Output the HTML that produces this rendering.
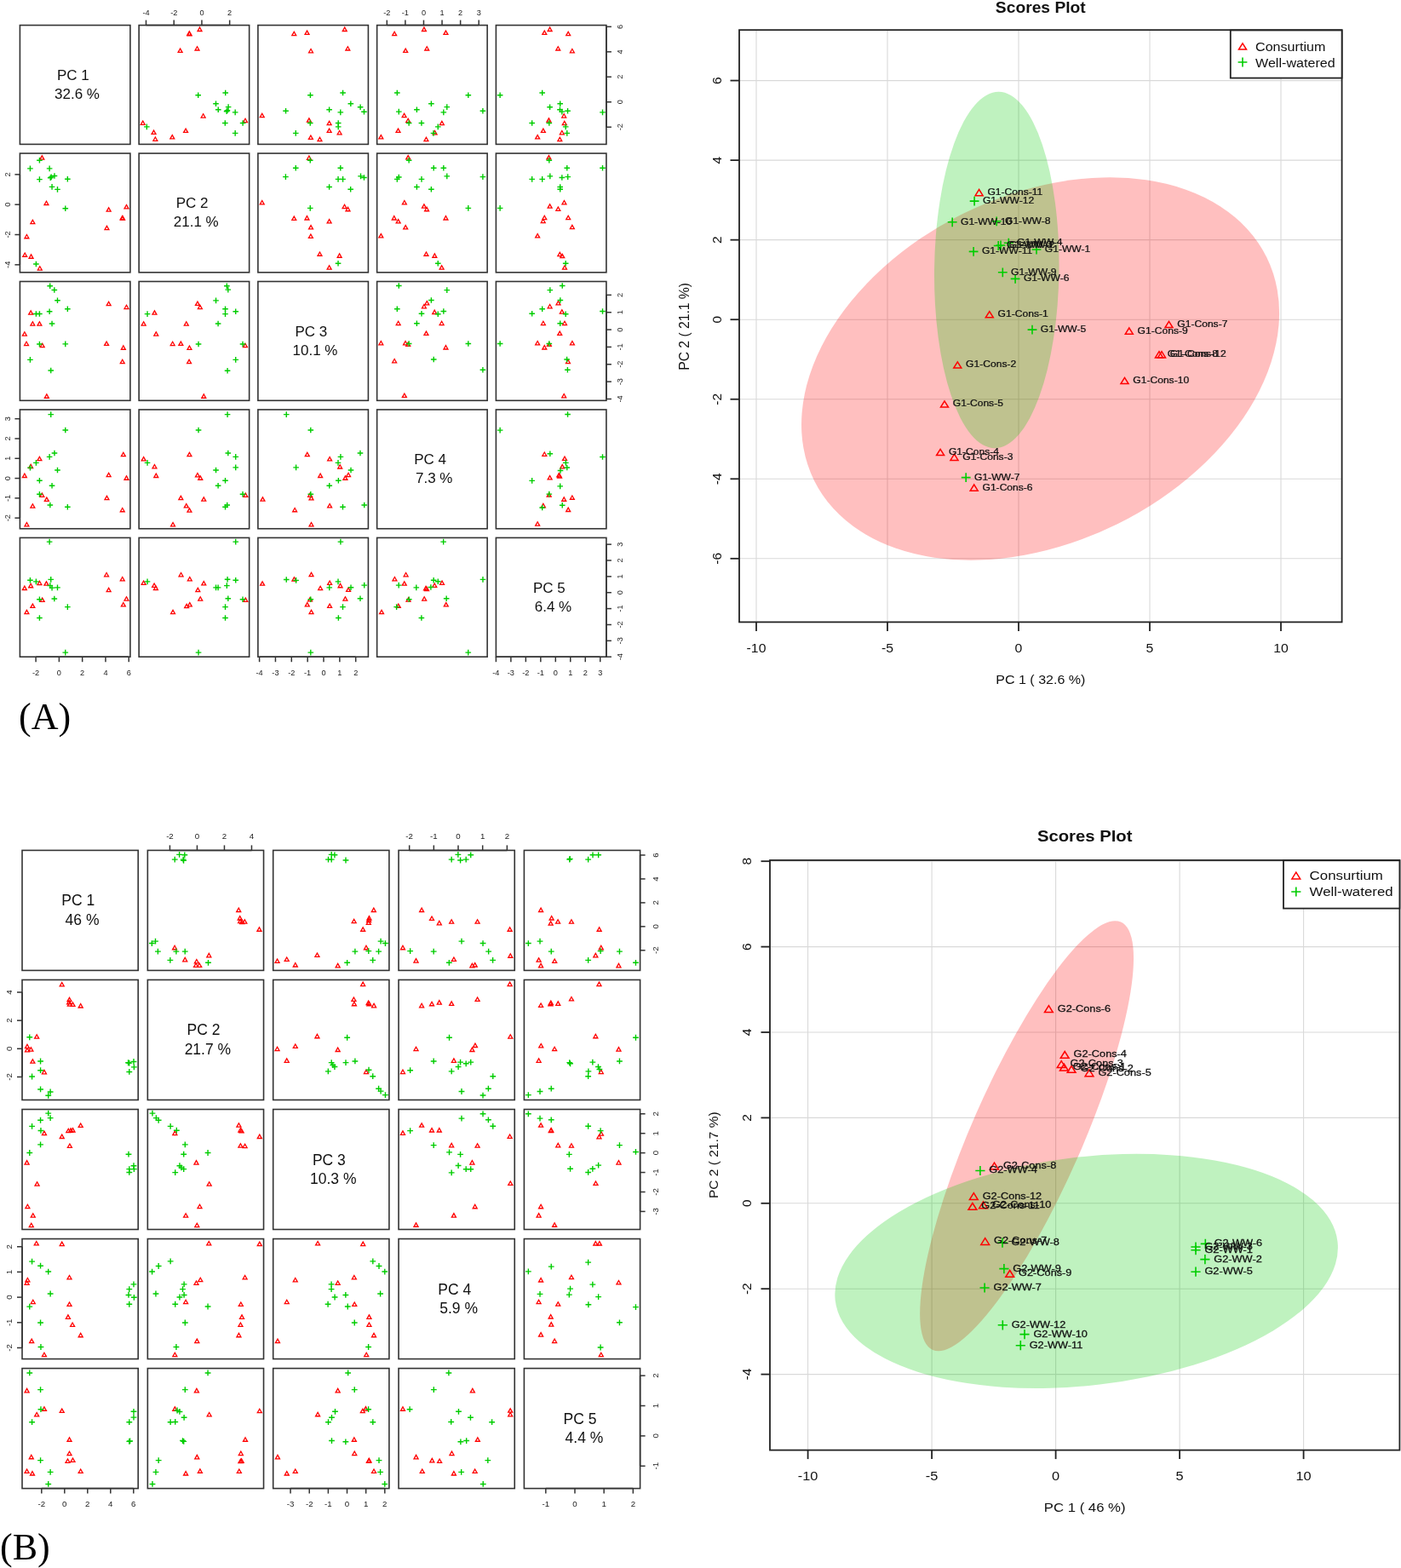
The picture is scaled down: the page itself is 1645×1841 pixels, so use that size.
<!DOCTYPE html><html><head><meta charset="utf-8"><style>html,body{margin:0;padding:0;background:#fff;}svg{display:block;}</style></head><body>
<svg width="1645" height="1841" viewBox="0 0 1645 1841" font-family='"Liberation Sans", Arial, Helvetica, sans-serif'>
<rect width="1645" height="1841" fill="#fff"/>
<g>
<line x1="888.00" y1="35.2" x2="888.00" y2="730.4" stroke="#d9d9d9" stroke-width="1.1"/>
<line x1="1042.00" y1="35.2" x2="1042.00" y2="730.4" stroke="#d9d9d9" stroke-width="1.1"/>
<line x1="1196.00" y1="35.2" x2="1196.00" y2="730.4" stroke="#d9d9d9" stroke-width="1.1"/>
<line x1="1350.00" y1="35.2" x2="1350.00" y2="730.4" stroke="#d9d9d9" stroke-width="1.1"/>
<line x1="1504.00" y1="35.2" x2="1504.00" y2="730.4" stroke="#d9d9d9" stroke-width="1.1"/>
<line x1="868" y1="655.82" x2="1575.6" y2="655.82" stroke="#d9d9d9" stroke-width="1.1"/>
<line x1="868" y1="562.28" x2="1575.6" y2="562.28" stroke="#d9d9d9" stroke-width="1.1"/>
<line x1="868" y1="468.74" x2="1575.6" y2="468.74" stroke="#d9d9d9" stroke-width="1.1"/>
<line x1="868" y1="375.20" x2="1575.6" y2="375.20" stroke="#d9d9d9" stroke-width="1.1"/>
<line x1="868" y1="281.66" x2="1575.6" y2="281.66" stroke="#d9d9d9" stroke-width="1.1"/>
<line x1="868" y1="188.12" x2="1575.6" y2="188.12" stroke="#d9d9d9" stroke-width="1.1"/>
<line x1="868" y1="94.58" x2="1575.6" y2="94.58" stroke="#d9d9d9" stroke-width="1.1"/>
<ellipse cx="0" cy="0" rx="296.23" ry="203.50" transform="translate(1221.54,432.99) rotate(153.760)" fill="rgba(255,0,0,0.25)"/>
<ellipse cx="0" cy="0" rx="209.20" ry="73.24" transform="translate(1170.27,317.00) rotate(-89.320)" fill="rgba(0,205,0,0.25)"/>
<path d="M1149.60,222.50L1154.10,229.70L1145.10,229.70Z" fill="none" stroke="#ff0000" stroke-width="1.5" stroke-linejoin="miter"/>
<path d="M1161.80,365.60L1166.30,372.80L1157.30,372.80Z" fill="none" stroke="#ff0000" stroke-width="1.5" stroke-linejoin="miter"/>
<path d="M1325.80,385.00L1330.30,392.20L1321.30,392.20Z" fill="none" stroke="#ff0000" stroke-width="1.5" stroke-linejoin="miter"/>
<path d="M1372.50,377.30L1377.00,384.50L1368.00,384.50Z" fill="none" stroke="#ff0000" stroke-width="1.5" stroke-linejoin="miter"/>
<path d="M1361.00,412.70L1365.50,419.90L1356.50,419.90Z" fill="none" stroke="#ff0000" stroke-width="1.5" stroke-linejoin="miter"/>
<path d="M1364.00,412.70L1368.50,419.90L1359.50,419.90Z" fill="none" stroke="#ff0000" stroke-width="1.5" stroke-linejoin="miter"/>
<path d="M1320.50,443.40L1325.00,450.60L1316.00,450.60Z" fill="none" stroke="#ff0000" stroke-width="1.5" stroke-linejoin="miter"/>
<path d="M1124.30,424.80L1128.80,432.00L1119.80,432.00Z" fill="none" stroke="#ff0000" stroke-width="1.5" stroke-linejoin="miter"/>
<path d="M1109.00,470.80L1113.50,478.00L1104.50,478.00Z" fill="none" stroke="#ff0000" stroke-width="1.5" stroke-linejoin="miter"/>
<path d="M1104.10,527.40L1108.60,534.60L1099.60,534.60Z" fill="none" stroke="#ff0000" stroke-width="1.5" stroke-linejoin="miter"/>
<path d="M1120.50,533.20L1125.00,540.40L1116.00,540.40Z" fill="none" stroke="#ff0000" stroke-width="1.5" stroke-linejoin="miter"/>
<path d="M1143.70,569.00L1148.20,576.20L1139.20,576.20Z" fill="none" stroke="#ff0000" stroke-width="1.5" stroke-linejoin="miter"/>
<path d="M1138.70,236.10H1149.50M1144.10,230.70V241.50" fill="none" stroke="#00cd00" stroke-width="1.6"/>
<path d="M1112.80,260.80H1123.60M1118.20,255.40V266.20" fill="none" stroke="#00cd00" stroke-width="1.6"/>
<path d="M1164.80,259.80H1175.60M1170.20,254.40V265.20" fill="none" stroke="#00cd00" stroke-width="1.6"/>
<path d="M1166.80,288.50H1177.60M1172.20,283.10V293.90" fill="none" stroke="#00cd00" stroke-width="1.6"/>
<path d="M1169.60,288.00H1180.40M1175.00,282.60V293.40" fill="none" stroke="#00cd00" stroke-width="1.6"/>
<path d="M1178.90,285.20H1189.70M1184.30,279.80V290.60" fill="none" stroke="#00cd00" stroke-width="1.6"/>
<path d="M1137.70,295.40H1148.50M1143.10,290.00V300.80" fill="none" stroke="#00cd00" stroke-width="1.6"/>
<path d="M1211.60,293.00H1222.40M1217.00,287.60V298.40" fill="none" stroke="#00cd00" stroke-width="1.6"/>
<path d="M1171.90,319.80H1182.70M1177.30,314.40V325.20" fill="none" stroke="#00cd00" stroke-width="1.6"/>
<path d="M1186.70,327.40H1197.50M1192.10,322.00V332.80" fill="none" stroke="#00cd00" stroke-width="1.6"/>
<path d="M1206.60,387.10H1217.40M1212.00,381.70V392.50" fill="none" stroke="#00cd00" stroke-width="1.6"/>
<path d="M1128.80,560.60H1139.60M1134.20,555.20V566.00" fill="none" stroke="#00cd00" stroke-width="1.6"/>
<text transform="translate(1159.40,229.04) scale(1.110,1)" font-size="10.9" fill="#111" stroke="#111" stroke-width="0.25">G1-Cons-11</text>
<text transform="translate(1171.60,372.14) scale(1.110,1)" font-size="10.9" fill="#111" stroke="#111" stroke-width="0.25">G1-Cons-1</text>
<text transform="translate(1335.60,391.54) scale(1.110,1)" font-size="10.9" fill="#111" stroke="#111" stroke-width="0.25">G1-Cons-9</text>
<text transform="translate(1382.30,383.84) scale(1.110,1)" font-size="10.9" fill="#111" stroke="#111" stroke-width="0.25">G1-Cons-7</text>
<text transform="translate(1370.80,419.24) scale(1.110,1)" font-size="10.9" fill="#111" stroke="#111" stroke-width="0.25">G1-Cons-8</text>
<text transform="translate(1373.80,419.24) scale(1.110,1)" font-size="10.9" fill="#111" stroke="#111" stroke-width="0.25">G1-Cons-12</text>
<text transform="translate(1330.30,449.94) scale(1.110,1)" font-size="10.9" fill="#111" stroke="#111" stroke-width="0.25">G1-Cons-10</text>
<text transform="translate(1134.10,431.34) scale(1.110,1)" font-size="10.9" fill="#111" stroke="#111" stroke-width="0.25">G1-Cons-2</text>
<text transform="translate(1118.80,477.34) scale(1.110,1)" font-size="10.9" fill="#111" stroke="#111" stroke-width="0.25">G1-Cons-5</text>
<text transform="translate(1113.90,533.94) scale(1.110,1)" font-size="10.9" fill="#111" stroke="#111" stroke-width="0.25">G1-Cons-4</text>
<text transform="translate(1130.30,539.74) scale(1.110,1)" font-size="10.9" fill="#111" stroke="#111" stroke-width="0.25">G1-Cons-3</text>
<text transform="translate(1153.50,575.54) scale(1.110,1)" font-size="10.9" fill="#111" stroke="#111" stroke-width="0.25">G1-Cons-6</text>
<text transform="translate(1153.90,239.04) scale(1.110,1)" font-size="10.9" fill="#111" stroke="#111" stroke-width="0.25">G1-WW-12</text>
<text transform="translate(1128.00,263.74) scale(1.110,1)" font-size="10.9" fill="#111" stroke="#111" stroke-width="0.25">G1-WW-10</text>
<text transform="translate(1180.00,262.74) scale(1.110,1)" font-size="10.9" fill="#111" stroke="#111" stroke-width="0.25">G1-WW-8</text>
<text transform="translate(1182.00,291.44) scale(1.110,1)" font-size="10.9" fill="#111" stroke="#111" stroke-width="0.25">G1-WW-3</text>
<text transform="translate(1184.80,290.94) scale(1.110,1)" font-size="10.9" fill="#111" stroke="#111" stroke-width="0.25">G1-WW-2</text>
<text transform="translate(1194.10,288.14) scale(1.110,1)" font-size="10.9" fill="#111" stroke="#111" stroke-width="0.25">G1-WW-4</text>
<text transform="translate(1152.90,298.34) scale(1.110,1)" font-size="10.9" fill="#111" stroke="#111" stroke-width="0.25">G1-WW-11</text>
<text transform="translate(1226.80,295.94) scale(1.110,1)" font-size="10.9" fill="#111" stroke="#111" stroke-width="0.25">G1-WW-1</text>
<text transform="translate(1187.10,322.74) scale(1.110,1)" font-size="10.9" fill="#111" stroke="#111" stroke-width="0.25">G1-WW-9</text>
<text transform="translate(1201.90,330.34) scale(1.110,1)" font-size="10.9" fill="#111" stroke="#111" stroke-width="0.25">G1-WW-6</text>
<text transform="translate(1221.80,390.04) scale(1.110,1)" font-size="10.9" fill="#111" stroke="#111" stroke-width="0.25">G1-WW-5</text>
<text transform="translate(1144.00,563.54) scale(1.110,1)" font-size="10.9" fill="#111" stroke="#111" stroke-width="0.25">G1-WW-7</text>
<rect x="868" y="35.2" width="707.5999999999999" height="695.1999999999999" fill="none" stroke="#222" stroke-width="1.8"/>
<line x1="888.00" y1="730.4" x2="888.00" y2="740.9" stroke="#222" stroke-width="1.8"/>
<text transform="translate(888.00,765.60) scale(1.040,1)" font-size="15.2" text-anchor="middle" fill="#111">-10</text>
<line x1="1042.00" y1="730.4" x2="1042.00" y2="740.9" stroke="#222" stroke-width="1.8"/>
<text transform="translate(1042.00,765.60) scale(1.040,1)" font-size="15.2" text-anchor="middle" fill="#111">-5</text>
<line x1="1196.00" y1="730.4" x2="1196.00" y2="740.9" stroke="#222" stroke-width="1.8"/>
<text transform="translate(1196.00,765.60) scale(1.040,1)" font-size="15.2" text-anchor="middle" fill="#111">0</text>
<line x1="1350.00" y1="730.4" x2="1350.00" y2="740.9" stroke="#222" stroke-width="1.8"/>
<text transform="translate(1350.00,765.60) scale(1.040,1)" font-size="15.2" text-anchor="middle" fill="#111">5</text>
<line x1="1504.00" y1="730.4" x2="1504.00" y2="740.9" stroke="#222" stroke-width="1.8"/>
<text transform="translate(1504.00,765.60) scale(1.040,1)" font-size="15.2" text-anchor="middle" fill="#111">10</text>
<line x1="857.5" y1="655.82" x2="868" y2="655.82" stroke="#222" stroke-width="1.8"/>
<text transform="translate(847.40,655.82) rotate(-90)" font-size="15.5" text-anchor="middle" fill="#111">-6</text>
<line x1="857.5" y1="562.28" x2="868" y2="562.28" stroke="#222" stroke-width="1.8"/>
<text transform="translate(847.40,562.28) rotate(-90)" font-size="15.5" text-anchor="middle" fill="#111">-4</text>
<line x1="857.5" y1="468.74" x2="868" y2="468.74" stroke="#222" stroke-width="1.8"/>
<text transform="translate(847.40,468.74) rotate(-90)" font-size="15.5" text-anchor="middle" fill="#111">-2</text>
<line x1="857.5" y1="375.20" x2="868" y2="375.20" stroke="#222" stroke-width="1.8"/>
<text transform="translate(847.40,375.20) rotate(-90)" font-size="15.5" text-anchor="middle" fill="#111">0</text>
<line x1="857.5" y1="281.66" x2="868" y2="281.66" stroke="#222" stroke-width="1.8"/>
<text transform="translate(847.40,281.66) rotate(-90)" font-size="15.5" text-anchor="middle" fill="#111">2</text>
<line x1="857.5" y1="188.12" x2="868" y2="188.12" stroke="#222" stroke-width="1.8"/>
<text transform="translate(847.40,188.12) rotate(-90)" font-size="15.5" text-anchor="middle" fill="#111">4</text>
<line x1="857.5" y1="94.58" x2="868" y2="94.58" stroke="#222" stroke-width="1.8"/>
<text transform="translate(847.40,94.58) rotate(-90)" font-size="15.5" text-anchor="middle" fill="#111">6</text>
<text transform="translate(1221.80,803.20) scale(1.040,1)" font-size="15.4" text-anchor="middle" fill="#111">PC 1 ( 32.6 %)</text>
<text transform="translate(809.30,383.40) rotate(-90)" font-size="15.7" text-anchor="middle" fill="#111">PC 2 ( 21.1 %)</text>
<text transform="translate(1221.80,14.60) scale(1.070,1)" font-size="18" text-anchor="middle" font-weight="bold" fill="#111">Scores Plot</text>
<rect x="1444.8" y="35.5" width="130.8" height="56.1" fill="#fff" stroke="#222" stroke-width="1.8"/>
<path d="M1459.00,50.90L1463.50,58.10L1454.50,58.10Z" fill="none" stroke="#ff0000" stroke-width="1.5" stroke-linejoin="miter"/>
<path d="M1453.60,73.00H1464.40M1459.00,67.60V78.40" fill="none" stroke="#00cd00" stroke-width="1.6"/>
<text transform="translate(1474.00,60.05) scale(1.060,1)" font-size="15.2" fill="#111">Consurtium</text>
<text transform="translate(1474.00,78.55) scale(1.060,1)" font-size="15.2" fill="#111">Well-watered</text>
</g>
<g>
<line x1="948.60" y1="1010" x2="948.60" y2="1702.6" stroke="#d9d9d9" stroke-width="1.1"/>
<line x1="1094.10" y1="1010" x2="1094.10" y2="1702.6" stroke="#d9d9d9" stroke-width="1.1"/>
<line x1="1239.60" y1="1010" x2="1239.60" y2="1702.6" stroke="#d9d9d9" stroke-width="1.1"/>
<line x1="1385.10" y1="1010" x2="1385.10" y2="1702.6" stroke="#d9d9d9" stroke-width="1.1"/>
<line x1="1530.60" y1="1010" x2="1530.60" y2="1702.6" stroke="#d9d9d9" stroke-width="1.1"/>
<line x1="904" y1="1613.60" x2="1643.4" y2="1613.60" stroke="#d9d9d9" stroke-width="1.1"/>
<line x1="904" y1="1513.20" x2="1643.4" y2="1513.20" stroke="#d9d9d9" stroke-width="1.1"/>
<line x1="904" y1="1412.80" x2="1643.4" y2="1412.80" stroke="#d9d9d9" stroke-width="1.1"/>
<line x1="904" y1="1312.40" x2="1643.4" y2="1312.40" stroke="#d9d9d9" stroke-width="1.1"/>
<line x1="904" y1="1212.00" x2="1643.4" y2="1212.00" stroke="#d9d9d9" stroke-width="1.1"/>
<line x1="904" y1="1111.60" x2="1643.4" y2="1111.60" stroke="#d9d9d9" stroke-width="1.1"/>
<line x1="904" y1="1011.20" x2="1643.4" y2="1011.20" stroke="#d9d9d9" stroke-width="1.1"/>
<ellipse cx="0" cy="0" rx="274.39" ry="64.96" transform="translate(1205.60,1333.72) rotate(-66.260)" fill="rgba(255,0,0,0.25)"/>
<ellipse cx="0" cy="0" rx="296.90" ry="134.05" transform="translate(1275.63,1492.42) rotate(173.320)" fill="rgba(0,205,0,0.25)"/>
<path d="M1231.40,1180.68L1236.30,1188.52L1226.50,1188.52Z" fill="none" stroke="#ff0000" stroke-width="1.5" stroke-linejoin="miter"/>
<path d="M1250.20,1234.48L1255.10,1242.32L1245.30,1242.32Z" fill="none" stroke="#ff0000" stroke-width="1.5" stroke-linejoin="miter"/>
<path d="M1246.20,1245.58L1251.10,1253.42L1241.30,1253.42Z" fill="none" stroke="#ff0000" stroke-width="1.5" stroke-linejoin="miter"/>
<path d="M1249.40,1249.18L1254.30,1257.02L1244.50,1257.02Z" fill="none" stroke="#ff0000" stroke-width="1.5" stroke-linejoin="miter"/>
<path d="M1258.10,1251.48L1263.00,1259.32L1253.20,1259.32Z" fill="none" stroke="#ff0000" stroke-width="1.5" stroke-linejoin="miter"/>
<path d="M1279.00,1255.88L1283.90,1263.72L1274.10,1263.72Z" fill="none" stroke="#ff0000" stroke-width="1.5" stroke-linejoin="miter"/>
<path d="M1167.50,1365.08L1172.40,1372.92L1162.60,1372.92Z" fill="none" stroke="#ff0000" stroke-width="1.5" stroke-linejoin="miter"/>
<path d="M1143.30,1400.68L1148.20,1408.52L1138.40,1408.52Z" fill="none" stroke="#ff0000" stroke-width="1.5" stroke-linejoin="miter"/>
<path d="M1141.90,1412.48L1146.80,1420.32L1137.00,1420.32Z" fill="none" stroke="#ff0000" stroke-width="1.5" stroke-linejoin="miter"/>
<path d="M1154.50,1410.88L1159.40,1418.72L1149.60,1418.72Z" fill="none" stroke="#ff0000" stroke-width="1.5" stroke-linejoin="miter"/>
<path d="M1156.70,1453.58L1161.60,1461.42L1151.80,1461.42Z" fill="none" stroke="#ff0000" stroke-width="1.5" stroke-linejoin="miter"/>
<path d="M1185.70,1491.48L1190.60,1499.32L1180.80,1499.32Z" fill="none" stroke="#ff0000" stroke-width="1.5" stroke-linejoin="miter"/>
<path d="M1145.30,1374.50H1156.50M1150.90,1368.90V1380.10" fill="none" stroke="#00cd00" stroke-width="1.6"/>
<path d="M1171.40,1459.10H1182.60M1177.00,1453.50V1464.70" fill="none" stroke="#00cd00" stroke-width="1.6"/>
<path d="M1173.30,1489.60H1184.50M1178.90,1484.00V1495.20" fill="none" stroke="#00cd00" stroke-width="1.6"/>
<path d="M1150.50,1512.00H1161.70M1156.10,1506.40V1517.60" fill="none" stroke="#00cd00" stroke-width="1.6"/>
<path d="M1171.70,1555.80H1182.90M1177.30,1550.20V1561.40" fill="none" stroke="#00cd00" stroke-width="1.6"/>
<path d="M1197.40,1566.60H1208.60M1203.00,1561.00V1572.20" fill="none" stroke="#00cd00" stroke-width="1.6"/>
<path d="M1192.70,1579.70H1203.90M1198.30,1574.10V1585.30" fill="none" stroke="#00cd00" stroke-width="1.6"/>
<path d="M1409.70,1460.40H1420.90M1415.30,1454.80V1466.00" fill="none" stroke="#00cd00" stroke-width="1.6"/>
<path d="M1398.40,1464.00H1409.60M1404.00,1458.40V1469.60" fill="none" stroke="#00cd00" stroke-width="1.6"/>
<path d="M1398.40,1467.70H1409.60M1404.00,1462.10V1473.30" fill="none" stroke="#00cd00" stroke-width="1.6"/>
<path d="M1409.30,1478.60H1420.50M1414.90,1473.00V1484.20" fill="none" stroke="#00cd00" stroke-width="1.6"/>
<path d="M1398.40,1493.20H1409.60M1404.00,1487.60V1498.80" fill="none" stroke="#00cd00" stroke-width="1.6"/>
<text transform="translate(1241.80,1187.54) scale(1.170,1)" font-size="10.9" fill="#111" stroke="#111" stroke-width="0.25">G2-Cons-6</text>
<text transform="translate(1260.60,1241.34) scale(1.170,1)" font-size="10.9" fill="#111" stroke="#111" stroke-width="0.25">G2-Cons-4</text>
<text transform="translate(1256.60,1252.44) scale(1.170,1)" font-size="10.9" fill="#111" stroke="#111" stroke-width="0.25">G2-Cons-3</text>
<text transform="translate(1259.80,1256.04) scale(1.170,1)" font-size="10.9" fill="#111" stroke="#111" stroke-width="0.25">G2-Cons-1</text>
<text transform="translate(1268.50,1258.34) scale(1.170,1)" font-size="10.9" fill="#111" stroke="#111" stroke-width="0.25">G2-Cons-2</text>
<text transform="translate(1289.40,1262.74) scale(1.170,1)" font-size="10.9" fill="#111" stroke="#111" stroke-width="0.25">G2-Cons-5</text>
<text transform="translate(1177.90,1371.94) scale(1.170,1)" font-size="10.9" fill="#111" stroke="#111" stroke-width="0.25">G2-Cons-8</text>
<text transform="translate(1153.70,1407.54) scale(1.170,1)" font-size="10.9" fill="#111" stroke="#111" stroke-width="0.25">G2-Cons-12</text>
<text transform="translate(1152.30,1419.34) scale(1.170,1)" font-size="10.9" fill="#111" stroke="#111" stroke-width="0.25">G2-Cons-11</text>
<text transform="translate(1164.90,1417.74) scale(1.170,1)" font-size="10.9" fill="#111" stroke="#111" stroke-width="0.25">G2-Cons-10</text>
<text transform="translate(1167.10,1460.44) scale(1.170,1)" font-size="10.9" fill="#111" stroke="#111" stroke-width="0.25">G2-Cons-7</text>
<text transform="translate(1196.10,1498.34) scale(1.170,1)" font-size="10.9" fill="#111" stroke="#111" stroke-width="0.25">G2-Cons-9</text>
<text transform="translate(1161.30,1377.44) scale(1.170,1)" font-size="10.9" fill="#111" stroke="#111" stroke-width="0.25">G2-WW-4</text>
<text transform="translate(1187.40,1462.04) scale(1.170,1)" font-size="10.9" fill="#111" stroke="#111" stroke-width="0.25">G2-WW-8</text>
<text transform="translate(1189.30,1492.54) scale(1.170,1)" font-size="10.9" fill="#111" stroke="#111" stroke-width="0.25">G2-WW-9</text>
<text transform="translate(1166.50,1514.94) scale(1.170,1)" font-size="10.9" fill="#111" stroke="#111" stroke-width="0.25">G2-WW-7</text>
<text transform="translate(1187.70,1558.74) scale(1.170,1)" font-size="10.9" fill="#111" stroke="#111" stroke-width="0.25">G2-WW-12</text>
<text transform="translate(1213.40,1569.54) scale(1.170,1)" font-size="10.9" fill="#111" stroke="#111" stroke-width="0.25">G2-WW-10</text>
<text transform="translate(1208.70,1582.64) scale(1.170,1)" font-size="10.9" fill="#111" stroke="#111" stroke-width="0.25">G2-WW-11</text>
<text transform="translate(1425.70,1463.34) scale(1.170,1)" font-size="10.9" fill="#111" stroke="#111" stroke-width="0.25">G2-WW-6</text>
<text transform="translate(1414.40,1466.94) scale(1.170,1)" font-size="10.9" fill="#111" stroke="#111" stroke-width="0.25">G2-WW-3</text>
<text transform="translate(1414.40,1470.64) scale(1.170,1)" font-size="10.9" fill="#111" stroke="#111" stroke-width="0.25">G2-WW-1</text>
<text transform="translate(1425.30,1481.54) scale(1.170,1)" font-size="10.9" fill="#111" stroke="#111" stroke-width="0.25">G2-WW-2</text>
<text transform="translate(1414.40,1496.14) scale(1.170,1)" font-size="10.9" fill="#111" stroke="#111" stroke-width="0.25">G2-WW-5</text>
<rect x="904" y="1010" width="739.4000000000001" height="692.5999999999999" fill="none" stroke="#222" stroke-width="1.8"/>
<line x1="948.60" y1="1702.6" x2="948.60" y2="1713.1" stroke="#222" stroke-width="1.8"/>
<text transform="translate(948.60,1738.00) scale(1.130,1)" font-size="14.5" text-anchor="middle" fill="#111">-10</text>
<line x1="1094.10" y1="1702.6" x2="1094.10" y2="1713.1" stroke="#222" stroke-width="1.8"/>
<text transform="translate(1094.10,1738.00) scale(1.130,1)" font-size="14.5" text-anchor="middle" fill="#111">-5</text>
<line x1="1239.60" y1="1702.6" x2="1239.60" y2="1713.1" stroke="#222" stroke-width="1.8"/>
<text transform="translate(1239.60,1738.00) scale(1.130,1)" font-size="14.5" text-anchor="middle" fill="#111">0</text>
<line x1="1385.10" y1="1702.6" x2="1385.10" y2="1713.1" stroke="#222" stroke-width="1.8"/>
<text transform="translate(1385.10,1738.00) scale(1.130,1)" font-size="14.5" text-anchor="middle" fill="#111">5</text>
<line x1="1530.60" y1="1702.6" x2="1530.60" y2="1713.1" stroke="#222" stroke-width="1.8"/>
<text transform="translate(1530.60,1738.00) scale(1.130,1)" font-size="14.5" text-anchor="middle" fill="#111">10</text>
<line x1="893.5" y1="1613.60" x2="904" y2="1613.60" stroke="#222" stroke-width="1.8"/>
<text transform="translate(882.00,1613.60) rotate(-90)" font-size="15.5" text-anchor="middle" fill="#111">-4</text>
<line x1="893.5" y1="1513.20" x2="904" y2="1513.20" stroke="#222" stroke-width="1.8"/>
<text transform="translate(882.00,1513.20) rotate(-90)" font-size="15.5" text-anchor="middle" fill="#111">-2</text>
<line x1="893.5" y1="1412.80" x2="904" y2="1412.80" stroke="#222" stroke-width="1.8"/>
<text transform="translate(882.00,1412.80) rotate(-90)" font-size="15.5" text-anchor="middle" fill="#111">0</text>
<line x1="893.5" y1="1312.40" x2="904" y2="1312.40" stroke="#222" stroke-width="1.8"/>
<text transform="translate(882.00,1312.40) rotate(-90)" font-size="15.5" text-anchor="middle" fill="#111">2</text>
<line x1="893.5" y1="1212.00" x2="904" y2="1212.00" stroke="#222" stroke-width="1.8"/>
<text transform="translate(882.00,1212.00) rotate(-90)" font-size="15.5" text-anchor="middle" fill="#111">4</text>
<line x1="893.5" y1="1111.60" x2="904" y2="1111.60" stroke="#222" stroke-width="1.8"/>
<text transform="translate(882.00,1111.60) rotate(-90)" font-size="15.5" text-anchor="middle" fill="#111">6</text>
<line x1="893.5" y1="1011.20" x2="904" y2="1011.20" stroke="#222" stroke-width="1.8"/>
<text transform="translate(882.00,1011.20) rotate(-90)" font-size="15.5" text-anchor="middle" fill="#111">8</text>
<text transform="translate(1273.70,1775.00) scale(1.130,1)" font-size="14.8" text-anchor="middle" fill="#111">PC 1 ( 46 %)</text>
<text transform="translate(842.80,1356.20) rotate(-90)" font-size="15.5" text-anchor="middle" fill="#111">PC 2 ( 21.7 %)</text>
<text transform="translate(1273.70,988.30) scale(1.140,1)" font-size="17.8" text-anchor="middle" font-weight="bold" fill="#111">Scores Plot</text>
<rect x="1507" y="1010.3" width="136.4" height="56.3" fill="#fff" stroke="#222" stroke-width="1.8"/>
<path d="M1521.80,1024.08L1526.70,1031.92L1516.90,1031.92Z" fill="none" stroke="#ff0000" stroke-width="1.5" stroke-linejoin="miter"/>
<path d="M1516.20,1047.00H1527.40M1521.80,1041.40V1052.60" fill="none" stroke="#00cd00" stroke-width="1.6"/>
<text transform="translate(1537.60,1033.40) scale(1.140,1)" font-size="14.8" fill="#111">Consurtium</text>
<text transform="translate(1537.60,1052.40) scale(1.140,1)" font-size="14.8" fill="#111">Well-watered</text>
</g>
<rect x="23.40" y="29.60" width="129.5" height="139.8" fill="none" stroke="#333" stroke-width="1.6"/>
<text x="85.79" y="94.00" font-size="17" text-anchor="middle" fill="#111">PC 1</text>
<text x="90.51" y="116.00" font-size="17" text-anchor="middle" fill="#111">32.6 %</text>
<rect x="163.15" y="29.60" width="129.5" height="139.8" fill="none" stroke="#333" stroke-width="1.6"/>
<rect x="302.90" y="29.60" width="129.5" height="139.8" fill="none" stroke="#333" stroke-width="1.6"/>
<rect x="442.65" y="29.60" width="129.5" height="139.8" fill="none" stroke="#333" stroke-width="1.6"/>
<rect x="582.40" y="29.60" width="129.5" height="139.8" fill="none" stroke="#333" stroke-width="1.6"/>
<rect x="23.40" y="180.05" width="129.5" height="139.8" fill="none" stroke="#333" stroke-width="1.6"/>
<rect x="163.15" y="180.05" width="129.5" height="139.8" fill="none" stroke="#333" stroke-width="1.6"/>
<text x="225.54" y="244.45" font-size="17" text-anchor="middle" fill="#111">PC 2</text>
<text x="230.26" y="266.45" font-size="17" text-anchor="middle" fill="#111">21.1 %</text>
<rect x="302.90" y="180.05" width="129.5" height="139.8" fill="none" stroke="#333" stroke-width="1.6"/>
<rect x="442.65" y="180.05" width="129.5" height="139.8" fill="none" stroke="#333" stroke-width="1.6"/>
<rect x="582.40" y="180.05" width="129.5" height="139.8" fill="none" stroke="#333" stroke-width="1.6"/>
<rect x="23.40" y="330.50" width="129.5" height="139.8" fill="none" stroke="#333" stroke-width="1.6"/>
<rect x="163.15" y="330.50" width="129.5" height="139.8" fill="none" stroke="#333" stroke-width="1.6"/>
<rect x="302.90" y="330.50" width="129.5" height="139.8" fill="none" stroke="#333" stroke-width="1.6"/>
<text x="365.29" y="394.90" font-size="17" text-anchor="middle" fill="#111">PC 3</text>
<text x="370.01" y="416.90" font-size="17" text-anchor="middle" fill="#111">10.1 %</text>
<rect x="442.65" y="330.50" width="129.5" height="139.8" fill="none" stroke="#333" stroke-width="1.6"/>
<rect x="582.40" y="330.50" width="129.5" height="139.8" fill="none" stroke="#333" stroke-width="1.6"/>
<rect x="23.40" y="480.95" width="129.5" height="139.8" fill="none" stroke="#333" stroke-width="1.6"/>
<rect x="163.15" y="480.95" width="129.5" height="139.8" fill="none" stroke="#333" stroke-width="1.6"/>
<rect x="302.90" y="480.95" width="129.5" height="139.8" fill="none" stroke="#333" stroke-width="1.6"/>
<rect x="442.65" y="480.95" width="129.5" height="139.8" fill="none" stroke="#333" stroke-width="1.6"/>
<text x="505.04" y="545.35" font-size="17" text-anchor="middle" fill="#111">PC 4</text>
<text x="509.76" y="567.35" font-size="17" text-anchor="middle" fill="#111">7.3 %</text>
<rect x="582.40" y="480.95" width="129.5" height="139.8" fill="none" stroke="#333" stroke-width="1.6"/>
<rect x="23.40" y="631.40" width="129.5" height="139.8" fill="none" stroke="#333" stroke-width="1.6"/>
<rect x="163.15" y="631.40" width="129.5" height="139.8" fill="none" stroke="#333" stroke-width="1.6"/>
<rect x="302.90" y="631.40" width="129.5" height="139.8" fill="none" stroke="#333" stroke-width="1.6"/>
<rect x="442.65" y="631.40" width="129.5" height="139.8" fill="none" stroke="#333" stroke-width="1.6"/>
<rect x="582.40" y="631.40" width="129.5" height="139.8" fill="none" stroke="#333" stroke-width="1.6"/>
<text x="644.79" y="695.80" font-size="17" text-anchor="middle" fill="#111">PC 5</text>
<text x="649.51" y="717.80" font-size="17" text-anchor="middle" fill="#111">6.4 %</text>
<path d="M42.09,771.20H151.26" stroke="#333" stroke-width="1.5" fill="none"/>
<path d="M42.09,771.20V777.20" stroke="#333" stroke-width="1.5" fill="none"/>
<text x="42.09" y="792.51" font-size="9.2" text-anchor="middle" fill="#222">-2</text>
<path d="M69.39,771.20V777.20" stroke="#333" stroke-width="1.5" fill="none"/>
<text x="69.39" y="792.51" font-size="9.2" text-anchor="middle" fill="#222">0</text>
<path d="M96.68,771.20V777.20" stroke="#333" stroke-width="1.5" fill="none"/>
<text x="96.68" y="792.51" font-size="9.2" text-anchor="middle" fill="#222">2</text>
<path d="M123.97,771.20V777.20" stroke="#333" stroke-width="1.5" fill="none"/>
<text x="123.97" y="792.51" font-size="9.2" text-anchor="middle" fill="#222">4</text>
<path d="M151.26,771.20V777.20" stroke="#333" stroke-width="1.5" fill="none"/>
<text x="151.26" y="792.51" font-size="9.2" text-anchor="middle" fill="#222">6</text>
<path d="M171.49,29.60H269.66" stroke="#333" stroke-width="1.5" fill="none"/>
<path d="M171.49,29.60V23.60" stroke="#333" stroke-width="1.5" fill="none"/>
<text x="171.49" y="17.91" font-size="9.2" text-anchor="middle" fill="#222">-4</text>
<path d="M204.22,29.60V23.60" stroke="#333" stroke-width="1.5" fill="none"/>
<text x="204.22" y="17.91" font-size="9.2" text-anchor="middle" fill="#222">-2</text>
<path d="M236.94,29.60V23.60" stroke="#333" stroke-width="1.5" fill="none"/>
<text x="236.94" y="17.91" font-size="9.2" text-anchor="middle" fill="#222">0</text>
<path d="M269.66,29.60V23.60" stroke="#333" stroke-width="1.5" fill="none"/>
<text x="269.66" y="17.91" font-size="9.2" text-anchor="middle" fill="#222">2</text>
<path d="M304.60,771.20H417.70" stroke="#333" stroke-width="1.5" fill="none"/>
<path d="M304.60,771.20V777.20" stroke="#333" stroke-width="1.5" fill="none"/>
<text x="304.60" y="792.51" font-size="9.2" text-anchor="middle" fill="#222">-4</text>
<path d="M323.45,771.20V777.20" stroke="#333" stroke-width="1.5" fill="none"/>
<text x="323.45" y="792.51" font-size="9.2" text-anchor="middle" fill="#222">-3</text>
<path d="M342.30,771.20V777.20" stroke="#333" stroke-width="1.5" fill="none"/>
<text x="342.30" y="792.51" font-size="9.2" text-anchor="middle" fill="#222">-2</text>
<path d="M361.15,771.20V777.20" stroke="#333" stroke-width="1.5" fill="none"/>
<text x="361.15" y="792.51" font-size="9.2" text-anchor="middle" fill="#222">-1</text>
<path d="M380.00,771.20V777.20" stroke="#333" stroke-width="1.5" fill="none"/>
<text x="380.00" y="792.51" font-size="9.2" text-anchor="middle" fill="#222">0</text>
<path d="M398.85,771.20V777.20" stroke="#333" stroke-width="1.5" fill="none"/>
<text x="398.85" y="792.51" font-size="9.2" text-anchor="middle" fill="#222">1</text>
<path d="M417.70,771.20V777.20" stroke="#333" stroke-width="1.5" fill="none"/>
<text x="417.70" y="792.51" font-size="9.2" text-anchor="middle" fill="#222">2</text>
<path d="M454.30,29.60H562.22" stroke="#333" stroke-width="1.5" fill="none"/>
<path d="M454.30,29.60V23.60" stroke="#333" stroke-width="1.5" fill="none"/>
<text x="454.30" y="17.91" font-size="9.2" text-anchor="middle" fill="#222">-2</text>
<path d="M475.89,29.60V23.60" stroke="#333" stroke-width="1.5" fill="none"/>
<text x="475.89" y="17.91" font-size="9.2" text-anchor="middle" fill="#222">-1</text>
<path d="M497.47,29.60V23.60" stroke="#333" stroke-width="1.5" fill="none"/>
<text x="497.47" y="17.91" font-size="9.2" text-anchor="middle" fill="#222">0</text>
<path d="M519.05,29.60V23.60" stroke="#333" stroke-width="1.5" fill="none"/>
<text x="519.05" y="17.91" font-size="9.2" text-anchor="middle" fill="#222">1</text>
<path d="M540.64,29.60V23.60" stroke="#333" stroke-width="1.5" fill="none"/>
<text x="540.64" y="17.91" font-size="9.2" text-anchor="middle" fill="#222">2</text>
<path d="M562.22,29.60V23.60" stroke="#333" stroke-width="1.5" fill="none"/>
<text x="562.22" y="17.91" font-size="9.2" text-anchor="middle" fill="#222">3</text>
<path d="M582.40,771.20H704.73" stroke="#333" stroke-width="1.5" fill="none"/>
<path d="M582.40,771.20V777.20" stroke="#333" stroke-width="1.5" fill="none"/>
<text x="582.40" y="792.51" font-size="9.2" text-anchor="middle" fill="#222">-4</text>
<path d="M599.88,771.20V777.20" stroke="#333" stroke-width="1.5" fill="none"/>
<text x="599.88" y="792.51" font-size="9.2" text-anchor="middle" fill="#222">-3</text>
<path d="M617.35,771.20V777.20" stroke="#333" stroke-width="1.5" fill="none"/>
<text x="617.35" y="792.51" font-size="9.2" text-anchor="middle" fill="#222">-2</text>
<path d="M634.83,771.20V777.20" stroke="#333" stroke-width="1.5" fill="none"/>
<text x="634.83" y="792.51" font-size="9.2" text-anchor="middle" fill="#222">-1</text>
<path d="M652.31,771.20V777.20" stroke="#333" stroke-width="1.5" fill="none"/>
<text x="652.31" y="792.51" font-size="9.2" text-anchor="middle" fill="#222">0</text>
<path d="M669.78,771.20V777.20" stroke="#333" stroke-width="1.5" fill="none"/>
<text x="669.78" y="792.51" font-size="9.2" text-anchor="middle" fill="#222">1</text>
<path d="M687.26,771.20V777.20" stroke="#333" stroke-width="1.5" fill="none"/>
<text x="687.26" y="792.51" font-size="9.2" text-anchor="middle" fill="#222">2</text>
<path d="M704.73,771.20V777.20" stroke="#333" stroke-width="1.5" fill="none"/>
<text x="704.73" y="792.51" font-size="9.2" text-anchor="middle" fill="#222">3</text>
<path d="M711.90,149.22V31.37" stroke="#333" stroke-width="1.5" fill="none"/>
<path d="M711.90,149.22H717.90" stroke="#333" stroke-width="1.5" fill="none"/>
<text transform="translate(731.21,149.22) rotate(-90)" font-size="9.2" text-anchor="middle" fill="#222">-2</text>
<path d="M711.90,119.76H717.90" stroke="#333" stroke-width="1.5" fill="none"/>
<text transform="translate(731.21,119.76) rotate(-90)" font-size="9.2" text-anchor="middle" fill="#222">0</text>
<path d="M711.90,90.29H717.90" stroke="#333" stroke-width="1.5" fill="none"/>
<text transform="translate(731.21,90.29) rotate(-90)" font-size="9.2" text-anchor="middle" fill="#222">2</text>
<path d="M711.90,60.83H717.90" stroke="#333" stroke-width="1.5" fill="none"/>
<text transform="translate(731.21,60.83) rotate(-90)" font-size="9.2" text-anchor="middle" fill="#222">4</text>
<path d="M711.90,31.37H717.90" stroke="#333" stroke-width="1.5" fill="none"/>
<text transform="translate(731.21,31.37) rotate(-90)" font-size="9.2" text-anchor="middle" fill="#222">6</text>
<path d="M23.40,310.84V204.87" stroke="#333" stroke-width="1.5" fill="none"/>
<path d="M23.40,310.84H17.40" stroke="#333" stroke-width="1.5" fill="none"/>
<text transform="translate(12.41,310.84) rotate(-90)" font-size="9.2" text-anchor="middle" fill="#222">-4</text>
<path d="M23.40,275.52H17.40" stroke="#333" stroke-width="1.5" fill="none"/>
<text transform="translate(12.41,275.52) rotate(-90)" font-size="9.2" text-anchor="middle" fill="#222">-2</text>
<path d="M23.40,240.19H17.40" stroke="#333" stroke-width="1.5" fill="none"/>
<text transform="translate(12.41,240.19) rotate(-90)" font-size="9.2" text-anchor="middle" fill="#222">0</text>
<path d="M23.40,204.87H17.40" stroke="#333" stroke-width="1.5" fill="none"/>
<text transform="translate(12.41,204.87) rotate(-90)" font-size="9.2" text-anchor="middle" fill="#222">2</text>
<path d="M711.90,468.47V346.37" stroke="#333" stroke-width="1.5" fill="none"/>
<path d="M711.90,468.47H717.90" stroke="#333" stroke-width="1.5" fill="none"/>
<text transform="translate(731.21,468.47) rotate(-90)" font-size="9.2" text-anchor="middle" fill="#222">-4</text>
<path d="M711.90,448.12H717.90" stroke="#333" stroke-width="1.5" fill="none"/>
<text transform="translate(731.21,448.12) rotate(-90)" font-size="9.2" text-anchor="middle" fill="#222">-3</text>
<path d="M711.90,427.77H717.90" stroke="#333" stroke-width="1.5" fill="none"/>
<text transform="translate(731.21,427.77) rotate(-90)" font-size="9.2" text-anchor="middle" fill="#222">-2</text>
<path d="M711.90,407.42H717.90" stroke="#333" stroke-width="1.5" fill="none"/>
<text transform="translate(731.21,407.42) rotate(-90)" font-size="9.2" text-anchor="middle" fill="#222">-1</text>
<path d="M711.90,387.07H717.90" stroke="#333" stroke-width="1.5" fill="none"/>
<text transform="translate(731.21,387.07) rotate(-90)" font-size="9.2" text-anchor="middle" fill="#222">0</text>
<path d="M711.90,366.72H717.90" stroke="#333" stroke-width="1.5" fill="none"/>
<text transform="translate(731.21,366.72) rotate(-90)" font-size="9.2" text-anchor="middle" fill="#222">1</text>
<path d="M711.90,346.37H717.90" stroke="#333" stroke-width="1.5" fill="none"/>
<text transform="translate(731.21,346.37) rotate(-90)" font-size="9.2" text-anchor="middle" fill="#222">2</text>
<path d="M23.40,608.17V491.67" stroke="#333" stroke-width="1.5" fill="none"/>
<path d="M23.40,608.17H17.40" stroke="#333" stroke-width="1.5" fill="none"/>
<text transform="translate(12.41,608.17) rotate(-90)" font-size="9.2" text-anchor="middle" fill="#222">-2</text>
<path d="M23.40,584.87H17.40" stroke="#333" stroke-width="1.5" fill="none"/>
<text transform="translate(12.41,584.87) rotate(-90)" font-size="9.2" text-anchor="middle" fill="#222">-1</text>
<path d="M23.40,561.57H17.40" stroke="#333" stroke-width="1.5" fill="none"/>
<text transform="translate(12.41,561.57) rotate(-90)" font-size="9.2" text-anchor="middle" fill="#222">0</text>
<path d="M23.40,538.27H17.40" stroke="#333" stroke-width="1.5" fill="none"/>
<text transform="translate(12.41,538.27) rotate(-90)" font-size="9.2" text-anchor="middle" fill="#222">1</text>
<path d="M23.40,514.97H17.40" stroke="#333" stroke-width="1.5" fill="none"/>
<text transform="translate(12.41,514.97) rotate(-90)" font-size="9.2" text-anchor="middle" fill="#222">2</text>
<path d="M23.40,491.67H17.40" stroke="#333" stroke-width="1.5" fill="none"/>
<text transform="translate(12.41,491.67) rotate(-90)" font-size="9.2" text-anchor="middle" fill="#222">3</text>
<path d="M711.90,771.20V639.14" stroke="#333" stroke-width="1.5" fill="none"/>
<path d="M711.90,771.20H717.90" stroke="#333" stroke-width="1.5" fill="none"/>
<text transform="translate(731.21,771.20) rotate(-90)" font-size="9.2" text-anchor="middle" fill="#222">-4</text>
<path d="M711.90,752.33H717.90" stroke="#333" stroke-width="1.5" fill="none"/>
<text transform="translate(731.21,752.33) rotate(-90)" font-size="9.2" text-anchor="middle" fill="#222">-3</text>
<path d="M711.90,733.47H717.90" stroke="#333" stroke-width="1.5" fill="none"/>
<text transform="translate(731.21,733.47) rotate(-90)" font-size="9.2" text-anchor="middle" fill="#222">-2</text>
<path d="M711.90,714.60H717.90" stroke="#333" stroke-width="1.5" fill="none"/>
<text transform="translate(731.21,714.60) rotate(-90)" font-size="9.2" text-anchor="middle" fill="#222">-1</text>
<path d="M711.90,695.73H717.90" stroke="#333" stroke-width="1.5" fill="none"/>
<text transform="translate(731.21,695.73) rotate(-90)" font-size="9.2" text-anchor="middle" fill="#222">0</text>
<path d="M711.90,676.87H717.90" stroke="#333" stroke-width="1.5" fill="none"/>
<text transform="translate(731.21,676.87) rotate(-90)" font-size="9.2" text-anchor="middle" fill="#222">1</text>
<path d="M711.90,658.00H717.90" stroke="#333" stroke-width="1.5" fill="none"/>
<text transform="translate(731.21,658.00) rotate(-90)" font-size="9.2" text-anchor="middle" fill="#222">2</text>
<path d="M711.90,639.14H717.90" stroke="#333" stroke-width="1.5" fill="none"/>
<text transform="translate(731.21,639.14) rotate(-90)" font-size="9.2" text-anchor="middle" fill="#222">3</text>
<path d="M234.52,32.19L236.97,36.50L232.07,36.50Z" fill="none" stroke="#ff0000" stroke-width="1.3" stroke-linejoin="miter"/>
<path d="M148.50,240.65L150.95,244.96L146.05,244.96Z" fill="none" stroke="#ff0000" stroke-width="1.3" stroke-linejoin="miter"/>
<path d="M222.27,36.93L224.72,41.24L219.82,41.24Z" fill="none" stroke="#ff0000" stroke-width="1.3" stroke-linejoin="miter"/>
<path d="M144.11,253.87L146.56,258.18L141.66,258.18Z" fill="none" stroke="#ff0000" stroke-width="1.3" stroke-linejoin="miter"/>
<path d="M222.51,37.48L224.96,41.79L220.06,41.79Z" fill="none" stroke="#ff0000" stroke-width="1.3" stroke-linejoin="miter"/>
<path d="M143.60,253.62L146.05,257.93L141.15,257.93Z" fill="none" stroke="#ff0000" stroke-width="1.3" stroke-linejoin="miter"/>
<path d="M211.60,57.08L214.05,61.39L209.15,61.39Z" fill="none" stroke="#ff0000" stroke-width="1.3" stroke-linejoin="miter"/>
<path d="M125.45,265.39L127.90,269.70L123.00,269.70Z" fill="none" stroke="#ff0000" stroke-width="1.3" stroke-linejoin="miter"/>
<path d="M231.52,54.71L233.97,59.02L229.07,59.02Z" fill="none" stroke="#ff0000" stroke-width="1.3" stroke-linejoin="miter"/>
<path d="M127.65,243.89L130.10,248.20L125.20,248.20Z" fill="none" stroke="#ff0000" stroke-width="1.3" stroke-linejoin="miter"/>
<path d="M238.63,133.71L241.08,138.03L236.18,138.03Z" fill="none" stroke="#ff0000" stroke-width="1.3" stroke-linejoin="miter"/>
<path d="M54.46,236.21L56.91,240.52L52.01,240.52Z" fill="none" stroke="#ff0000" stroke-width="1.3" stroke-linejoin="miter"/>
<path d="M167.74,142.01L170.19,146.32L165.29,146.32Z" fill="none" stroke="#ff0000" stroke-width="1.3" stroke-linejoin="miter"/>
<path d="M46.78,312.74L49.23,317.05L44.33,317.05Z" fill="none" stroke="#ff0000" stroke-width="1.3" stroke-linejoin="miter"/>
<path d="M180.54,153.07L182.99,157.38L178.09,157.38Z" fill="none" stroke="#ff0000" stroke-width="1.3" stroke-linejoin="miter"/>
<path d="M36.53,298.92L38.98,303.23L34.08,303.23Z" fill="none" stroke="#ff0000" stroke-width="1.3" stroke-linejoin="miter"/>
<path d="M182.36,160.97L184.81,165.28L179.91,165.28Z" fill="none" stroke="#ff0000" stroke-width="1.3" stroke-linejoin="miter"/>
<path d="M29.21,296.95L31.66,301.27L26.76,301.27Z" fill="none" stroke="#ff0000" stroke-width="1.3" stroke-linejoin="miter"/>
<path d="M202.28,158.60L204.73,162.91L199.83,162.91Z" fill="none" stroke="#ff0000" stroke-width="1.3" stroke-linejoin="miter"/>
<path d="M31.41,275.46L33.86,279.77L28.96,279.77Z" fill="none" stroke="#ff0000" stroke-width="1.3" stroke-linejoin="miter"/>
<path d="M218.08,151.09L220.53,155.41L215.63,155.41Z" fill="none" stroke="#ff0000" stroke-width="1.3" stroke-linejoin="miter"/>
<path d="M38.36,258.39L40.81,262.70L35.91,262.70Z" fill="none" stroke="#ff0000" stroke-width="1.3" stroke-linejoin="miter"/>
<path d="M288.02,139.24L290.47,143.56L285.57,143.56Z" fill="none" stroke="#ff0000" stroke-width="1.3" stroke-linejoin="miter"/>
<path d="M49.34,182.89L51.79,187.20L46.89,187.20Z" fill="none" stroke="#ff0000" stroke-width="1.3" stroke-linejoin="miter"/>
<path d="M229.40,111.77H236.00M232.70,108.47V115.07" fill="none" stroke="#00cd00" stroke-width="1.4"/>
<path d="M73.48,244.77H80.08M76.78,241.47V248.07" fill="none" stroke="#00cd00" stroke-width="1.4"/>
<path d="M261.41,109.01H268.01M264.71,105.71V112.31" fill="none" stroke="#00cd00" stroke-width="1.4"/>
<path d="M76.04,210.21H82.64M79.34,206.91V213.51" fill="none" stroke="#00cd00" stroke-width="1.4"/>
<path d="M250.19,121.81H256.79M253.49,118.51V125.11" fill="none" stroke="#00cd00" stroke-width="1.4"/>
<path d="M64.19,222.33H70.79M67.49,219.03V225.63" fill="none" stroke="#00cd00" stroke-width="1.4"/>
<path d="M252.95,128.76H259.55M256.25,125.46V132.06" fill="none" stroke="#00cd00" stroke-width="1.4"/>
<path d="M57.75,219.34H64.35M61.05,216.04V222.64" fill="none" stroke="#00cd00" stroke-width="1.4"/>
<path d="M264.81,125.60H271.41M268.11,122.30V128.90" fill="none" stroke="#00cd00" stroke-width="1.4"/>
<path d="M60.67,206.55H67.27M63.97,203.25V209.85" fill="none" stroke="#00cd00" stroke-width="1.4"/>
<path d="M262.83,130.73H269.43M266.13,127.43V134.03" fill="none" stroke="#00cd00" stroke-width="1.4"/>
<path d="M55.92,208.68H62.52M59.22,205.38V211.98" fill="none" stroke="#00cd00" stroke-width="1.4"/>
<path d="M263.62,129.71H270.22M266.92,126.41V133.01" fill="none" stroke="#00cd00" stroke-width="1.4"/>
<path d="M56.87,207.83H63.47M60.17,204.53V211.13" fill="none" stroke="#00cd00" stroke-width="1.4"/>
<path d="M272.87,131.92H279.47M276.17,128.62V135.22" fill="none" stroke="#00cd00" stroke-width="1.4"/>
<path d="M54.82,197.84H61.42M58.12,194.54V201.14" fill="none" stroke="#00cd00" stroke-width="1.4"/>
<path d="M261.01,144.56H267.61M264.31,141.26V147.86" fill="none" stroke="#00cd00" stroke-width="1.4"/>
<path d="M43.11,210.64H49.71M46.41,207.34V213.94" fill="none" stroke="#00cd00" stroke-width="1.4"/>
<path d="M281.80,144.56H288.40M285.10,141.26V147.86" fill="none" stroke="#00cd00" stroke-width="1.4"/>
<path d="M43.11,188.20H49.71M46.41,184.90V191.50" fill="none" stroke="#00cd00" stroke-width="1.4"/>
<path d="M169.03,148.91H175.63M172.33,145.61V152.21" fill="none" stroke="#00cd00" stroke-width="1.4"/>
<path d="M39.08,309.95H45.68M42.38,306.65V313.25" fill="none" stroke="#00cd00" stroke-width="1.4"/>
<path d="M272.87,156.41H279.47M276.17,153.11V159.71" fill="none" stroke="#00cd00" stroke-width="1.4"/>
<path d="M32.13,197.84H38.73M35.43,194.54V201.14" fill="none" stroke="#00cd00" stroke-width="1.4"/>
<path d="M345.28,37.32L347.73,41.64L342.83,41.64Z" fill="none" stroke="#ff0000" stroke-width="1.3" stroke-linejoin="miter"/>
<path d="M143.75,422.39L146.20,426.71L141.30,426.71Z" fill="none" stroke="#ff0000" stroke-width="1.3" stroke-linejoin="miter"/>
<path d="M360.53,36.14L362.98,40.45L358.08,40.45Z" fill="none" stroke="#ff0000" stroke-width="1.3" stroke-linejoin="miter"/>
<path d="M144.84,405.93L147.29,410.24L142.39,410.24Z" fill="none" stroke="#ff0000" stroke-width="1.3" stroke-linejoin="miter"/>
<path d="M404.71,32.19L407.16,36.50L402.26,36.50Z" fill="none" stroke="#ff0000" stroke-width="1.3" stroke-linejoin="miter"/>
<path d="M148.50,358.24L150.95,362.55L146.05,362.55Z" fill="none" stroke="#ff0000" stroke-width="1.3" stroke-linejoin="miter"/>
<path d="M365.04,57.47L367.49,61.78L362.59,61.78Z" fill="none" stroke="#ff0000" stroke-width="1.3" stroke-linejoin="miter"/>
<path d="M125.08,401.07L127.53,405.38L122.63,405.38Z" fill="none" stroke="#ff0000" stroke-width="1.3" stroke-linejoin="miter"/>
<path d="M408.34,54.71L410.79,59.02L405.89,59.02Z" fill="none" stroke="#ff0000" stroke-width="1.3" stroke-linejoin="miter"/>
<path d="M127.65,354.31L130.10,358.63L125.20,358.63Z" fill="none" stroke="#ff0000" stroke-width="1.3" stroke-linejoin="miter"/>
<path d="M307.74,133.32L310.19,137.63L305.29,137.63Z" fill="none" stroke="#ff0000" stroke-width="1.3" stroke-linejoin="miter"/>
<path d="M54.83,462.92L57.28,467.23L52.38,467.23Z" fill="none" stroke="#ff0000" stroke-width="1.3" stroke-linejoin="miter"/>
<path d="M362.90,138.85L365.35,143.16L360.45,143.16Z" fill="none" stroke="#ff0000" stroke-width="1.3" stroke-linejoin="miter"/>
<path d="M49.70,403.37L52.15,407.68L47.25,407.68Z" fill="none" stroke="#ff0000" stroke-width="1.3" stroke-linejoin="miter"/>
<path d="M386.61,142.40L389.06,146.72L384.16,146.72Z" fill="none" stroke="#ff0000" stroke-width="1.3" stroke-linejoin="miter"/>
<path d="M46.41,377.77L48.86,382.09L43.96,382.09Z" fill="none" stroke="#ff0000" stroke-width="1.3" stroke-linejoin="miter"/>
<path d="M386.61,151.09L389.06,155.41L384.16,155.41Z" fill="none" stroke="#ff0000" stroke-width="1.3" stroke-linejoin="miter"/>
<path d="M38.36,377.77L40.81,382.09L35.91,382.09Z" fill="none" stroke="#ff0000" stroke-width="1.3" stroke-linejoin="miter"/>
<path d="M398.62,153.46L401.07,157.78L396.17,157.78Z" fill="none" stroke="#ff0000" stroke-width="1.3" stroke-linejoin="miter"/>
<path d="M36.16,364.81L38.61,369.12L33.71,369.12Z" fill="none" stroke="#ff0000" stroke-width="1.3" stroke-linejoin="miter"/>
<path d="M364.88,159.00L367.33,163.31L362.43,163.31Z" fill="none" stroke="#ff0000" stroke-width="1.3" stroke-linejoin="miter"/>
<path d="M31.04,401.24L33.49,405.55L28.59,405.55Z" fill="none" stroke="#ff0000" stroke-width="1.3" stroke-linejoin="miter"/>
<path d="M375.47,161.37L377.92,165.68L373.02,165.68Z" fill="none" stroke="#ff0000" stroke-width="1.3" stroke-linejoin="miter"/>
<path d="M28.85,389.80L31.30,394.12L26.40,394.12Z" fill="none" stroke="#ff0000" stroke-width="1.3" stroke-linejoin="miter"/>
<path d="M361.10,111.77H367.70M364.40,108.47V115.07" fill="none" stroke="#00cd00" stroke-width="1.4"/>
<path d="M73.48,403.90H80.08M76.78,400.60V407.20" fill="none" stroke="#00cd00" stroke-width="1.4"/>
<path d="M399.27,109.01H405.87M402.57,105.71V112.31" fill="none" stroke="#00cd00" stroke-width="1.4"/>
<path d="M76.04,362.70H82.64M79.34,359.40V366.00" fill="none" stroke="#00cd00" stroke-width="1.4"/>
<path d="M408.52,121.81H415.12M411.82,118.51V125.11" fill="none" stroke="#00cd00" stroke-width="1.4"/>
<path d="M64.19,352.72H70.79M67.49,349.42V356.02" fill="none" stroke="#00cd00" stroke-width="1.4"/>
<path d="M419.82,125.76H426.42M423.12,122.46V129.06" fill="none" stroke="#00cd00" stroke-width="1.4"/>
<path d="M60.53,340.52H67.13M63.83,337.22V343.82" fill="none" stroke="#00cd00" stroke-width="1.4"/>
<path d="M424.17,131.29H430.77M427.47,127.99V134.59" fill="none" stroke="#00cd00" stroke-width="1.4"/>
<path d="M55.41,335.82H62.01M58.71,332.52V339.12" fill="none" stroke="#00cd00" stroke-width="1.4"/>
<path d="M332.26,130.18H338.86M335.56,126.88V133.48" fill="none" stroke="#00cd00" stroke-width="1.4"/>
<path d="M56.43,435.04H63.03M59.73,431.74V438.34" fill="none" stroke="#00cd00" stroke-width="1.4"/>
<path d="M383.31,128.76H389.91M386.61,125.46V132.06" fill="none" stroke="#00cd00" stroke-width="1.4"/>
<path d="M57.75,379.93H64.35M61.05,376.63V383.23" fill="none" stroke="#00cd00" stroke-width="1.4"/>
<path d="M396.51,131.92H403.11M399.81,128.62V135.22" fill="none" stroke="#00cd00" stroke-width="1.4"/>
<path d="M54.82,365.68H61.42M58.12,362.38V368.98" fill="none" stroke="#00cd00" stroke-width="1.4"/>
<path d="M360.95,144.56H367.55M364.25,141.26V147.86" fill="none" stroke="#00cd00" stroke-width="1.4"/>
<path d="M43.11,404.07H49.71M46.41,400.77V407.37" fill="none" stroke="#00cd00" stroke-width="1.4"/>
<path d="M393.90,144.56H400.50M397.20,141.26V147.86" fill="none" stroke="#00cd00" stroke-width="1.4"/>
<path d="M43.11,368.50H49.71M46.41,365.20V371.80" fill="none" stroke="#00cd00" stroke-width="1.4"/>
<path d="M393.90,148.91H400.50M397.20,145.61V152.21" fill="none" stroke="#00cd00" stroke-width="1.4"/>
<path d="M39.08,368.50H45.68M42.38,365.20V371.80" fill="none" stroke="#00cd00" stroke-width="1.4"/>
<path d="M343.96,156.41H350.56M347.26,153.11V159.71" fill="none" stroke="#00cd00" stroke-width="1.4"/>
<path d="M32.13,422.42H38.73M35.43,419.12V425.72" fill="none" stroke="#00cd00" stroke-width="1.4"/>
<path d="M463.15,37.32L465.60,41.64L460.70,41.64Z" fill="none" stroke="#ff0000" stroke-width="1.3" stroke-linejoin="miter"/>
<path d="M143.75,596.46L146.20,600.77L141.30,600.77Z" fill="none" stroke="#ff0000" stroke-width="1.3" stroke-linejoin="miter"/>
<path d="M497.92,32.19L500.37,36.50L495.47,36.50Z" fill="none" stroke="#ff0000" stroke-width="1.3" stroke-linejoin="miter"/>
<path d="M148.50,558.92L150.95,563.24L146.05,563.24Z" fill="none" stroke="#ff0000" stroke-width="1.3" stroke-linejoin="miter"/>
<path d="M523.45,36.14L525.90,40.45L521.00,40.45Z" fill="none" stroke="#ff0000" stroke-width="1.3" stroke-linejoin="miter"/>
<path d="M144.84,531.37L147.29,535.68L142.39,535.68Z" fill="none" stroke="#ff0000" stroke-width="1.3" stroke-linejoin="miter"/>
<path d="M476.19,57.08L478.64,61.39L473.74,61.39Z" fill="none" stroke="#ff0000" stroke-width="1.3" stroke-linejoin="miter"/>
<path d="M125.45,582.38L127.90,586.70L123.00,586.70Z" fill="none" stroke="#ff0000" stroke-width="1.3" stroke-linejoin="miter"/>
<path d="M501.24,54.71L503.69,59.02L498.79,59.02Z" fill="none" stroke="#ff0000" stroke-width="1.3" stroke-linejoin="miter"/>
<path d="M127.65,555.34L130.10,559.65L125.20,559.65Z" fill="none" stroke="#ff0000" stroke-width="1.3" stroke-linejoin="miter"/>
<path d="M474.61,133.32L477.06,137.63L472.16,137.63Z" fill="none" stroke="#ff0000" stroke-width="1.3" stroke-linejoin="miter"/>
<path d="M54.83,584.09L57.28,588.40L52.38,588.40Z" fill="none" stroke="#ff0000" stroke-width="1.3" stroke-linejoin="miter"/>
<path d="M479.19,139.24L481.64,143.56L476.74,143.56Z" fill="none" stroke="#ff0000" stroke-width="1.3" stroke-linejoin="miter"/>
<path d="M49.34,579.14L51.79,583.45L46.89,583.45Z" fill="none" stroke="#ff0000" stroke-width="1.3" stroke-linejoin="miter"/>
<path d="M518.87,142.40L521.32,146.72L516.42,146.72Z" fill="none" stroke="#ff0000" stroke-width="1.3" stroke-linejoin="miter"/>
<path d="M46.41,536.32L48.86,540.63L43.96,540.63Z" fill="none" stroke="#ff0000" stroke-width="1.3" stroke-linejoin="miter"/>
<path d="M467.50,151.09L469.95,155.41L465.05,155.41Z" fill="none" stroke="#ff0000" stroke-width="1.3" stroke-linejoin="miter"/>
<path d="M38.36,591.77L40.81,596.08L35.91,596.08Z" fill="none" stroke="#ff0000" stroke-width="1.3" stroke-linejoin="miter"/>
<path d="M510.57,153.46L513.02,157.78L508.12,157.78Z" fill="none" stroke="#ff0000" stroke-width="1.3" stroke-linejoin="miter"/>
<path d="M36.16,545.27L38.61,549.59L33.71,549.59Z" fill="none" stroke="#ff0000" stroke-width="1.3" stroke-linejoin="miter"/>
<path d="M447.35,158.60L449.80,162.91L444.90,162.91Z" fill="none" stroke="#ff0000" stroke-width="1.3" stroke-linejoin="miter"/>
<path d="M31.41,613.52L33.86,617.84L28.96,617.84Z" fill="none" stroke="#ff0000" stroke-width="1.3" stroke-linejoin="miter"/>
<path d="M500.45,161.37L502.90,165.68L498.00,165.68Z" fill="none" stroke="#ff0000" stroke-width="1.3" stroke-linejoin="miter"/>
<path d="M28.85,556.19L31.30,560.51L26.40,560.51Z" fill="none" stroke="#ff0000" stroke-width="1.3" stroke-linejoin="miter"/>
<path d="M463.01,109.01H469.61M466.31,105.71V112.31" fill="none" stroke="#00cd00" stroke-width="1.4"/>
<path d="M76.04,595.20H82.64M79.34,591.90V598.50" fill="none" stroke="#00cd00" stroke-width="1.4"/>
<path d="M546.54,111.77H553.14M549.84,108.47V115.07" fill="none" stroke="#00cd00" stroke-width="1.4"/>
<path d="M73.48,505.03H80.08M76.78,501.73V508.33" fill="none" stroke="#00cd00" stroke-width="1.4"/>
<path d="M503.08,121.81H509.68M506.38,118.51V125.11" fill="none" stroke="#00cd00" stroke-width="1.4"/>
<path d="M64.19,551.95H70.79M67.49,548.65V555.25" fill="none" stroke="#00cd00" stroke-width="1.4"/>
<path d="M521.49,125.60H528.09M524.79,122.30V128.90" fill="none" stroke="#00cd00" stroke-width="1.4"/>
<path d="M60.67,532.07H67.27M63.97,528.77V535.37" fill="none" stroke="#00cd00" stroke-width="1.4"/>
<path d="M563.61,130.18H570.21M566.91,126.88V133.48" fill="none" stroke="#00cd00" stroke-width="1.4"/>
<path d="M56.43,486.60H63.03M59.73,483.30V489.90" fill="none" stroke="#00cd00" stroke-width="1.4"/>
<path d="M464.99,131.13H471.59M468.29,127.83V134.43" fill="none" stroke="#00cd00" stroke-width="1.4"/>
<path d="M55.55,593.07H62.15M58.85,589.77V596.37" fill="none" stroke="#00cd00" stroke-width="1.4"/>
<path d="M486.09,128.76H492.69M489.39,125.46V132.06" fill="none" stroke="#00cd00" stroke-width="1.4"/>
<path d="M57.75,570.29H64.35M61.05,566.99V573.59" fill="none" stroke="#00cd00" stroke-width="1.4"/>
<path d="M517.54,131.92H524.14M520.84,128.62V135.22" fill="none" stroke="#00cd00" stroke-width="1.4"/>
<path d="M54.82,536.34H61.42M58.12,533.04V539.64" fill="none" stroke="#00cd00" stroke-width="1.4"/>
<path d="M476.84,144.56H483.44M480.14,141.26V147.86" fill="none" stroke="#00cd00" stroke-width="1.4"/>
<path d="M43.11,580.28H49.71M46.41,576.98V583.58" fill="none" stroke="#00cd00" stroke-width="1.4"/>
<path d="M491.62,144.56H498.22M494.92,141.26V147.86" fill="none" stroke="#00cd00" stroke-width="1.4"/>
<path d="M43.11,564.32H49.71M46.41,561.02V567.62" fill="none" stroke="#00cd00" stroke-width="1.4"/>
<path d="M510.98,148.91H517.58M514.28,145.61V152.21" fill="none" stroke="#00cd00" stroke-width="1.4"/>
<path d="M39.08,543.42H45.68M42.38,540.12V546.72" fill="none" stroke="#00cd00" stroke-width="1.4"/>
<path d="M505.69,156.41H512.29M508.99,153.11V159.71" fill="none" stroke="#00cd00" stroke-width="1.4"/>
<path d="M32.13,549.14H38.73M35.43,545.84V552.44" fill="none" stroke="#00cd00" stroke-width="1.4"/>
<path d="M639.29,36.14L641.74,40.45L636.84,40.45Z" fill="none" stroke="#ff0000" stroke-width="1.3" stroke-linejoin="miter"/>
<path d="M144.84,707.62L147.29,711.94L142.39,711.94Z" fill="none" stroke="#ff0000" stroke-width="1.3" stroke-linejoin="miter"/>
<path d="M645.62,32.19L648.07,36.50L643.17,36.50Z" fill="none" stroke="#ff0000" stroke-width="1.3" stroke-linejoin="miter"/>
<path d="M148.50,700.80L150.95,705.11L146.05,705.11Z" fill="none" stroke="#ff0000" stroke-width="1.3" stroke-linejoin="miter"/>
<path d="M667.19,37.32L669.64,41.64L664.74,41.64Z" fill="none" stroke="#ff0000" stroke-width="1.3" stroke-linejoin="miter"/>
<path d="M143.75,677.51L146.20,681.82L141.30,681.82Z" fill="none" stroke="#ff0000" stroke-width="1.3" stroke-linejoin="miter"/>
<path d="M655.26,54.71L657.71,59.02L652.81,59.02Z" fill="none" stroke="#ff0000" stroke-width="1.3" stroke-linejoin="miter"/>
<path d="M127.65,690.39L130.10,694.70L125.20,694.70Z" fill="none" stroke="#ff0000" stroke-width="1.3" stroke-linejoin="miter"/>
<path d="M671.85,57.47L674.30,61.78L669.40,61.78Z" fill="none" stroke="#ff0000" stroke-width="1.3" stroke-linejoin="miter"/>
<path d="M125.08,672.48L127.53,676.79L122.63,676.79Z" fill="none" stroke="#ff0000" stroke-width="1.3" stroke-linejoin="miter"/>
<path d="M662.21,133.71L664.66,138.03L659.76,138.03Z" fill="none" stroke="#ff0000" stroke-width="1.3" stroke-linejoin="miter"/>
<path d="M54.46,682.88L56.91,687.20L52.01,687.20Z" fill="none" stroke="#ff0000" stroke-width="1.3" stroke-linejoin="miter"/>
<path d="M644.43,138.85L646.88,143.16L641.98,143.16Z" fill="none" stroke="#ff0000" stroke-width="1.3" stroke-linejoin="miter"/>
<path d="M49.70,702.08L52.15,706.39L47.25,706.39Z" fill="none" stroke="#ff0000" stroke-width="1.3" stroke-linejoin="miter"/>
<path d="M662.77,142.40L665.22,146.72L660.32,146.72Z" fill="none" stroke="#ff0000" stroke-width="1.3" stroke-linejoin="miter"/>
<path d="M46.41,682.29L48.86,686.60L43.96,686.60Z" fill="none" stroke="#ff0000" stroke-width="1.3" stroke-linejoin="miter"/>
<path d="M637.87,151.09L640.32,155.41L635.42,155.41Z" fill="none" stroke="#ff0000" stroke-width="1.3" stroke-linejoin="miter"/>
<path d="M38.36,709.16L40.81,713.47L35.91,713.47Z" fill="none" stroke="#ff0000" stroke-width="1.3" stroke-linejoin="miter"/>
<path d="M659.84,153.46L662.29,157.78L657.39,157.78Z" fill="none" stroke="#ff0000" stroke-width="1.3" stroke-linejoin="miter"/>
<path d="M36.16,685.44L38.61,689.75L33.71,689.75Z" fill="none" stroke="#ff0000" stroke-width="1.3" stroke-linejoin="miter"/>
<path d="M631.16,158.60L633.61,162.91L628.71,162.91Z" fill="none" stroke="#ff0000" stroke-width="1.3" stroke-linejoin="miter"/>
<path d="M31.41,716.41L33.86,720.72L28.96,720.72Z" fill="none" stroke="#ff0000" stroke-width="1.3" stroke-linejoin="miter"/>
<path d="M657.31,161.37L659.76,165.68L654.86,165.68Z" fill="none" stroke="#ff0000" stroke-width="1.3" stroke-linejoin="miter"/>
<path d="M28.85,688.17L31.30,692.48L26.40,692.48Z" fill="none" stroke="#ff0000" stroke-width="1.3" stroke-linejoin="miter"/>
<path d="M583.84,111.77H590.44M587.14,108.47V115.07" fill="none" stroke="#00cd00" stroke-width="1.4"/>
<path d="M73.48,766.09H80.08M76.78,762.79V769.39" fill="none" stroke="#00cd00" stroke-width="1.4"/>
<path d="M633.39,109.01H639.99M636.69,105.71V112.31" fill="none" stroke="#00cd00" stroke-width="1.4"/>
<path d="M76.04,712.60H82.64M79.34,709.30V715.90" fill="none" stroke="#00cd00" stroke-width="1.4"/>
<path d="M654.41,121.81H661.01M657.71,118.51V125.11" fill="none" stroke="#00cd00" stroke-width="1.4"/>
<path d="M64.19,689.90H70.79M67.49,686.60V693.20" fill="none" stroke="#00cd00" stroke-width="1.4"/>
<path d="M642.32,125.76H648.92M645.62,122.46V129.06" fill="none" stroke="#00cd00" stroke-width="1.4"/>
<path d="M60.53,702.95H67.13M63.83,699.65V706.25" fill="none" stroke="#00cd00" stroke-width="1.4"/>
<path d="M654.17,128.76H660.77M657.47,125.46V132.06" fill="none" stroke="#00cd00" stroke-width="1.4"/>
<path d="M57.75,690.16H64.35M61.05,686.86V693.46" fill="none" stroke="#00cd00" stroke-width="1.4"/>
<path d="M656.54,131.13H663.14M659.84,127.83V134.43" fill="none" stroke="#00cd00" stroke-width="1.4"/>
<path d="M55.55,687.60H62.15M58.85,684.30V690.90" fill="none" stroke="#00cd00" stroke-width="1.4"/>
<path d="M663.26,130.18H669.86M666.56,126.88V133.48" fill="none" stroke="#00cd00" stroke-width="1.4"/>
<path d="M56.43,680.35H63.03M59.73,677.05V683.65" fill="none" stroke="#00cd00" stroke-width="1.4"/>
<path d="M704.20,131.92H710.80M707.50,128.62V135.22" fill="none" stroke="#00cd00" stroke-width="1.4"/>
<path d="M54.82,636.15H61.42M58.12,632.85V639.45" fill="none" stroke="#00cd00" stroke-width="1.4"/>
<path d="M621.37,144.56H627.97M624.67,141.26V147.86" fill="none" stroke="#00cd00" stroke-width="1.4"/>
<path d="M43.11,725.56H49.71M46.41,722.26V728.86" fill="none" stroke="#00cd00" stroke-width="1.4"/>
<path d="M641.53,144.56H648.13M644.83,141.26V147.86" fill="none" stroke="#00cd00" stroke-width="1.4"/>
<path d="M43.11,703.81H49.71M46.41,700.51V707.11" fill="none" stroke="#00cd00" stroke-width="1.4"/>
<path d="M660.89,148.91H667.49M664.19,145.61V152.21" fill="none" stroke="#00cd00" stroke-width="1.4"/>
<path d="M39.08,682.91H45.68M42.38,679.61V686.21" fill="none" stroke="#00cd00" stroke-width="1.4"/>
<path d="M662.47,156.41H669.07M665.77,153.11V159.71" fill="none" stroke="#00cd00" stroke-width="1.4"/>
<path d="M32.13,681.20H38.73M35.43,677.90V684.50" fill="none" stroke="#00cd00" stroke-width="1.4"/>
<path d="M362.90,182.98L365.35,187.29L360.45,187.29Z" fill="none" stroke="#ff0000" stroke-width="1.3" stroke-linejoin="miter"/>
<path d="M287.94,403.37L290.39,407.68L285.49,407.68Z" fill="none" stroke="#ff0000" stroke-width="1.3" stroke-linejoin="miter"/>
<path d="M307.74,235.52L310.19,239.83L305.29,239.83Z" fill="none" stroke="#ff0000" stroke-width="1.3" stroke-linejoin="miter"/>
<path d="M239.27,462.92L241.72,467.23L236.82,467.23Z" fill="none" stroke="#ff0000" stroke-width="1.3" stroke-linejoin="miter"/>
<path d="M404.55,240.26L407.00,244.57L402.10,244.57Z" fill="none" stroke="#ff0000" stroke-width="1.3" stroke-linejoin="miter"/>
<path d="M234.88,358.41L237.33,362.72L232.43,362.72Z" fill="none" stroke="#ff0000" stroke-width="1.3" stroke-linejoin="miter"/>
<path d="M408.50,243.42L410.95,247.73L406.05,247.73Z" fill="none" stroke="#ff0000" stroke-width="1.3" stroke-linejoin="miter"/>
<path d="M231.95,354.14L234.40,358.46L229.50,358.46Z" fill="none" stroke="#ff0000" stroke-width="1.3" stroke-linejoin="miter"/>
<path d="M345.28,254.09L347.73,258.40L342.83,258.40Z" fill="none" stroke="#ff0000" stroke-width="1.3" stroke-linejoin="miter"/>
<path d="M222.07,422.39L224.52,426.71L219.62,426.71Z" fill="none" stroke="#ff0000" stroke-width="1.3" stroke-linejoin="miter"/>
<path d="M360.45,253.69L362.90,258.00L358.00,258.00Z" fill="none" stroke="#ff0000" stroke-width="1.3" stroke-linejoin="miter"/>
<path d="M222.44,406.01L224.89,410.33L219.99,410.33Z" fill="none" stroke="#ff0000" stroke-width="1.3" stroke-linejoin="miter"/>
<path d="M386.61,257.64L389.06,261.95L384.16,261.95Z" fill="none" stroke="#ff0000" stroke-width="1.3" stroke-linejoin="miter"/>
<path d="M218.78,377.77L221.23,382.09L216.33,382.09Z" fill="none" stroke="#ff0000" stroke-width="1.3" stroke-linejoin="miter"/>
<path d="M365.04,264.59L367.49,268.91L362.59,268.91Z" fill="none" stroke="#ff0000" stroke-width="1.3" stroke-linejoin="miter"/>
<path d="M212.34,401.07L214.79,405.38L209.89,405.38Z" fill="none" stroke="#ff0000" stroke-width="1.3" stroke-linejoin="miter"/>
<path d="M364.88,275.02L367.33,279.33L362.43,279.33Z" fill="none" stroke="#ff0000" stroke-width="1.3" stroke-linejoin="miter"/>
<path d="M202.68,401.24L205.13,405.55L200.23,405.55Z" fill="none" stroke="#ff0000" stroke-width="1.3" stroke-linejoin="miter"/>
<path d="M375.47,295.96L377.92,300.27L373.02,300.27Z" fill="none" stroke="#ff0000" stroke-width="1.3" stroke-linejoin="miter"/>
<path d="M183.28,389.80L185.73,394.12L180.83,394.12Z" fill="none" stroke="#ff0000" stroke-width="1.3" stroke-linejoin="miter"/>
<path d="M398.62,297.93L401.07,302.25L396.17,302.25Z" fill="none" stroke="#ff0000" stroke-width="1.3" stroke-linejoin="miter"/>
<path d="M181.45,364.81L183.90,369.12L179.00,369.12Z" fill="none" stroke="#ff0000" stroke-width="1.3" stroke-linejoin="miter"/>
<path d="M386.61,311.76L389.06,316.07L384.16,316.07Z" fill="none" stroke="#ff0000" stroke-width="1.3" stroke-linejoin="miter"/>
<path d="M168.65,377.77L171.10,382.09L166.20,382.09Z" fill="none" stroke="#ff0000" stroke-width="1.3" stroke-linejoin="miter"/>
<path d="M360.95,188.30H367.55M364.25,185.00V191.60" fill="none" stroke="#00cd00" stroke-width="1.4"/>
<path d="M281.71,404.07H288.31M285.01,400.77V407.37" fill="none" stroke="#00cd00" stroke-width="1.4"/>
<path d="M343.96,197.22H350.56M347.26,193.92V200.52" fill="none" stroke="#00cd00" stroke-width="1.4"/>
<path d="M273.44,422.42H280.04M276.74,419.12V425.72" fill="none" stroke="#00cd00" stroke-width="1.4"/>
<path d="M396.51,197.22H403.11M399.81,193.92V200.52" fill="none" stroke="#00cd00" stroke-width="1.4"/>
<path d="M273.44,365.68H280.04M276.74,362.38V368.98" fill="none" stroke="#00cd00" stroke-width="1.4"/>
<path d="M332.10,207.65H338.70M335.40,204.35V210.95" fill="none" stroke="#00cd00" stroke-width="1.4"/>
<path d="M263.78,435.21H270.38M267.08,431.91V438.51" fill="none" stroke="#00cd00" stroke-width="1.4"/>
<path d="M393.74,210.42H400.34M397.04,207.12V213.72" fill="none" stroke="#00cd00" stroke-width="1.4"/>
<path d="M261.22,368.67H267.82M264.52,365.37V371.97" fill="none" stroke="#00cd00" stroke-width="1.4"/>
<path d="M399.27,210.42H405.87M402.57,207.12V213.72" fill="none" stroke="#00cd00" stroke-width="1.4"/>
<path d="M261.22,362.70H267.82M264.52,359.40V366.00" fill="none" stroke="#00cd00" stroke-width="1.4"/>
<path d="M420.22,206.86H426.82M423.52,203.56V210.16" fill="none" stroke="#00cd00" stroke-width="1.4"/>
<path d="M264.51,340.09H271.11M267.81,336.79V343.39" fill="none" stroke="#00cd00" stroke-width="1.4"/>
<path d="M424.17,208.44H430.77M427.47,205.14V211.74" fill="none" stroke="#00cd00" stroke-width="1.4"/>
<path d="M263.05,335.82H269.65M266.35,332.52V339.12" fill="none" stroke="#00cd00" stroke-width="1.4"/>
<path d="M383.31,219.50H389.91M386.61,216.20V222.80" fill="none" stroke="#00cd00" stroke-width="1.4"/>
<path d="M252.80,379.93H259.40M256.10,376.63V383.23" fill="none" stroke="#00cd00" stroke-width="1.4"/>
<path d="M408.36,222.27H414.96M411.66,218.97V225.57" fill="none" stroke="#00cd00" stroke-width="1.4"/>
<path d="M250.24,352.89H256.84M253.54,349.59V356.19" fill="none" stroke="#00cd00" stroke-width="1.4"/>
<path d="M360.95,244.39H367.55M364.25,241.09V247.69" fill="none" stroke="#00cd00" stroke-width="1.4"/>
<path d="M229.75,404.07H236.35M233.05,400.77V407.37" fill="none" stroke="#00cd00" stroke-width="1.4"/>
<path d="M393.74,309.18H400.34M397.04,305.88V312.48" fill="none" stroke="#00cd00" stroke-width="1.4"/>
<path d="M169.74,368.67H176.34M173.04,365.37V371.97" fill="none" stroke="#00cd00" stroke-width="1.4"/>
<path d="M479.19,182.58L481.64,186.90L476.74,186.90Z" fill="none" stroke="#ff0000" stroke-width="1.3" stroke-linejoin="miter"/>
<path d="M288.31,579.14L290.76,583.45L285.86,583.45Z" fill="none" stroke="#ff0000" stroke-width="1.3" stroke-linejoin="miter"/>
<path d="M474.85,235.52L477.30,239.83L472.40,239.83Z" fill="none" stroke="#ff0000" stroke-width="1.3" stroke-linejoin="miter"/>
<path d="M239.27,583.84L241.72,588.15L236.82,588.15Z" fill="none" stroke="#ff0000" stroke-width="1.3" stroke-linejoin="miter"/>
<path d="M497.92,239.86L500.37,244.18L495.47,244.18Z" fill="none" stroke="#ff0000" stroke-width="1.3" stroke-linejoin="miter"/>
<path d="M235.25,558.92L237.70,563.24L232.80,563.24Z" fill="none" stroke="#ff0000" stroke-width="1.3" stroke-linejoin="miter"/>
<path d="M501.09,243.42L503.54,247.73L498.64,247.73Z" fill="none" stroke="#ff0000" stroke-width="1.3" stroke-linejoin="miter"/>
<path d="M231.95,555.51L234.40,559.82L229.50,559.82Z" fill="none" stroke="#ff0000" stroke-width="1.3" stroke-linejoin="miter"/>
<path d="M462.76,253.69L465.21,258.00L460.31,258.00Z" fill="none" stroke="#ff0000" stroke-width="1.3" stroke-linejoin="miter"/>
<path d="M222.44,596.89L224.89,601.20L219.99,601.20Z" fill="none" stroke="#ff0000" stroke-width="1.3" stroke-linejoin="miter"/>
<path d="M467.66,257.64L470.11,261.95L465.21,261.95Z" fill="none" stroke="#ff0000" stroke-width="1.3" stroke-linejoin="miter"/>
<path d="M218.78,591.60L221.23,595.91L216.33,595.91Z" fill="none" stroke="#ff0000" stroke-width="1.3" stroke-linejoin="miter"/>
<path d="M523.45,253.69L525.90,258.00L521.00,258.00Z" fill="none" stroke="#ff0000" stroke-width="1.3" stroke-linejoin="miter"/>
<path d="M222.44,531.37L224.89,535.68L219.99,535.68Z" fill="none" stroke="#ff0000" stroke-width="1.3" stroke-linejoin="miter"/>
<path d="M476.19,264.59L478.64,268.91L473.74,268.91Z" fill="none" stroke="#ff0000" stroke-width="1.3" stroke-linejoin="miter"/>
<path d="M212.34,582.38L214.79,586.70L209.89,586.70Z" fill="none" stroke="#ff0000" stroke-width="1.3" stroke-linejoin="miter"/>
<path d="M447.35,274.63L449.80,278.94L444.90,278.94Z" fill="none" stroke="#ff0000" stroke-width="1.3" stroke-linejoin="miter"/>
<path d="M203.04,613.52L205.49,617.84L200.59,617.84Z" fill="none" stroke="#ff0000" stroke-width="1.3" stroke-linejoin="miter"/>
<path d="M500.45,295.96L502.90,300.27L498.00,300.27Z" fill="none" stroke="#ff0000" stroke-width="1.3" stroke-linejoin="miter"/>
<path d="M183.28,556.19L185.73,560.51L180.83,560.51Z" fill="none" stroke="#ff0000" stroke-width="1.3" stroke-linejoin="miter"/>
<path d="M510.33,297.93L512.78,302.25L507.88,302.25Z" fill="none" stroke="#ff0000" stroke-width="1.3" stroke-linejoin="miter"/>
<path d="M181.45,545.53L183.90,549.84L179.00,549.84Z" fill="none" stroke="#ff0000" stroke-width="1.3" stroke-linejoin="miter"/>
<path d="M518.63,311.76L521.08,316.07L516.18,316.07Z" fill="none" stroke="#ff0000" stroke-width="1.3" stroke-linejoin="miter"/>
<path d="M168.65,536.57L171.10,540.88L166.20,540.88Z" fill="none" stroke="#ff0000" stroke-width="1.3" stroke-linejoin="miter"/>
<path d="M476.84,188.30H483.44M480.14,185.00V191.60" fill="none" stroke="#00cd00" stroke-width="1.4"/>
<path d="M281.71,580.28H288.31M285.01,576.98V583.58" fill="none" stroke="#00cd00" stroke-width="1.4"/>
<path d="M505.92,197.22H512.52M509.22,193.92V200.52" fill="none" stroke="#00cd00" stroke-width="1.4"/>
<path d="M273.44,548.88H280.04M276.74,545.58V552.18" fill="none" stroke="#00cd00" stroke-width="1.4"/>
<path d="M517.54,197.22H524.14M520.84,193.92V200.52" fill="none" stroke="#00cd00" stroke-width="1.4"/>
<path d="M273.44,536.34H280.04M276.74,533.04V539.64" fill="none" stroke="#00cd00" stroke-width="1.4"/>
<path d="M463.01,210.42H469.61M466.31,207.12V213.72" fill="none" stroke="#00cd00" stroke-width="1.4"/>
<path d="M261.22,595.20H267.82M264.52,591.90V598.50" fill="none" stroke="#00cd00" stroke-width="1.4"/>
<path d="M464.99,208.05H471.59M468.29,204.75V211.35" fill="none" stroke="#00cd00" stroke-width="1.4"/>
<path d="M263.42,593.07H270.02M266.72,589.77V596.37" fill="none" stroke="#00cd00" stroke-width="1.4"/>
<path d="M491.70,210.42H498.30M495.00,207.12V213.72" fill="none" stroke="#00cd00" stroke-width="1.4"/>
<path d="M261.22,564.24H267.82M264.52,560.94V567.54" fill="none" stroke="#00cd00" stroke-width="1.4"/>
<path d="M521.49,206.86H528.09M524.79,203.56V210.16" fill="none" stroke="#00cd00" stroke-width="1.4"/>
<path d="M264.51,532.07H271.11M267.81,528.77V535.37" fill="none" stroke="#00cd00" stroke-width="1.4"/>
<path d="M563.61,207.65H570.21M566.91,204.35V210.95" fill="none" stroke="#00cd00" stroke-width="1.4"/>
<path d="M263.78,486.60H270.38M267.08,483.30V489.90" fill="none" stroke="#00cd00" stroke-width="1.4"/>
<path d="M486.09,219.50H492.69M489.39,216.20V222.80" fill="none" stroke="#00cd00" stroke-width="1.4"/>
<path d="M252.80,570.29H259.40M256.10,566.99V573.59" fill="none" stroke="#00cd00" stroke-width="1.4"/>
<path d="M503.08,222.27H509.68M506.38,218.97V225.57" fill="none" stroke="#00cd00" stroke-width="1.4"/>
<path d="M250.24,551.95H256.84M253.54,548.65V555.25" fill="none" stroke="#00cd00" stroke-width="1.4"/>
<path d="M546.54,244.39H553.14M549.84,241.09V247.69" fill="none" stroke="#00cd00" stroke-width="1.4"/>
<path d="M229.75,505.03H236.35M233.05,501.73V508.33" fill="none" stroke="#00cd00" stroke-width="1.4"/>
<path d="M510.98,309.18H517.58M514.28,305.88V312.48" fill="none" stroke="#00cd00" stroke-width="1.4"/>
<path d="M169.74,543.42H176.34M173.04,540.12V546.72" fill="none" stroke="#00cd00" stroke-width="1.4"/>
<path d="M644.43,182.58L646.88,186.90L641.98,186.90Z" fill="none" stroke="#ff0000" stroke-width="1.3" stroke-linejoin="miter"/>
<path d="M288.31,702.08L290.76,706.39L285.86,706.39Z" fill="none" stroke="#ff0000" stroke-width="1.3" stroke-linejoin="miter"/>
<path d="M662.45,235.52L664.90,239.83L660.00,239.83Z" fill="none" stroke="#ff0000" stroke-width="1.3" stroke-linejoin="miter"/>
<path d="M239.27,682.63L241.72,686.94L236.82,686.94Z" fill="none" stroke="#ff0000" stroke-width="1.3" stroke-linejoin="miter"/>
<path d="M645.62,239.86L648.07,244.18L643.17,244.18Z" fill="none" stroke="#ff0000" stroke-width="1.3" stroke-linejoin="miter"/>
<path d="M235.25,700.80L237.70,705.11L232.80,705.11Z" fill="none" stroke="#ff0000" stroke-width="1.3" stroke-linejoin="miter"/>
<path d="M655.34,243.02L657.79,247.34L652.89,247.34Z" fill="none" stroke="#ff0000" stroke-width="1.3" stroke-linejoin="miter"/>
<path d="M232.32,690.31L234.77,694.62L229.87,694.62Z" fill="none" stroke="#ff0000" stroke-width="1.3" stroke-linejoin="miter"/>
<path d="M639.29,253.30L641.74,257.61L636.84,257.61Z" fill="none" stroke="#ff0000" stroke-width="1.3" stroke-linejoin="miter"/>
<path d="M222.80,707.62L225.25,711.94L220.35,711.94Z" fill="none" stroke="#ff0000" stroke-width="1.3" stroke-linejoin="miter"/>
<path d="M637.71,257.25L640.16,261.56L635.26,261.56Z" fill="none" stroke="#ff0000" stroke-width="1.3" stroke-linejoin="miter"/>
<path d="M219.14,709.33L221.59,713.64L216.69,713.64Z" fill="none" stroke="#ff0000" stroke-width="1.3" stroke-linejoin="miter"/>
<path d="M667.19,253.30L669.64,257.61L664.74,257.61Z" fill="none" stroke="#ff0000" stroke-width="1.3" stroke-linejoin="miter"/>
<path d="M222.80,677.51L225.25,681.82L220.35,681.82Z" fill="none" stroke="#ff0000" stroke-width="1.3" stroke-linejoin="miter"/>
<path d="M671.85,264.36L674.30,268.67L669.40,268.67Z" fill="none" stroke="#ff0000" stroke-width="1.3" stroke-linejoin="miter"/>
<path d="M212.56,672.48L215.01,676.79L210.11,676.79Z" fill="none" stroke="#ff0000" stroke-width="1.3" stroke-linejoin="miter"/>
<path d="M631.16,274.63L633.61,278.94L628.71,278.94Z" fill="none" stroke="#ff0000" stroke-width="1.3" stroke-linejoin="miter"/>
<path d="M203.04,716.41L205.49,720.72L200.59,720.72Z" fill="none" stroke="#ff0000" stroke-width="1.3" stroke-linejoin="miter"/>
<path d="M657.31,296.35L659.76,300.67L654.86,300.67Z" fill="none" stroke="#ff0000" stroke-width="1.3" stroke-linejoin="miter"/>
<path d="M182.92,688.17L185.37,692.48L180.47,692.48Z" fill="none" stroke="#ff0000" stroke-width="1.3" stroke-linejoin="miter"/>
<path d="M660.24,298.33L662.69,302.64L657.79,302.64Z" fill="none" stroke="#ff0000" stroke-width="1.3" stroke-linejoin="miter"/>
<path d="M181.09,685.02L183.54,689.33L178.64,689.33Z" fill="none" stroke="#ff0000" stroke-width="1.3" stroke-linejoin="miter"/>
<path d="M663.00,311.76L665.45,316.07L660.55,316.07Z" fill="none" stroke="#ff0000" stroke-width="1.3" stroke-linejoin="miter"/>
<path d="M168.65,682.03L171.10,686.34L166.20,686.34Z" fill="none" stroke="#ff0000" stroke-width="1.3" stroke-linejoin="miter"/>
<path d="M641.53,188.30H648.13M644.83,185.00V191.60" fill="none" stroke="#00cd00" stroke-width="1.4"/>
<path d="M281.71,703.81H288.31M285.01,700.51V707.11" fill="none" stroke="#00cd00" stroke-width="1.4"/>
<path d="M662.47,197.22H669.07M665.77,193.92V200.52" fill="none" stroke="#00cd00" stroke-width="1.4"/>
<path d="M273.44,681.20H280.04M276.74,677.90V684.50" fill="none" stroke="#00cd00" stroke-width="1.4"/>
<path d="M704.20,197.22H710.80M707.50,193.92V200.52" fill="none" stroke="#00cd00" stroke-width="1.4"/>
<path d="M273.44,636.15H280.04M276.74,632.85V639.45" fill="none" stroke="#00cd00" stroke-width="1.4"/>
<path d="M621.37,210.42H627.97M624.67,207.12V213.72" fill="none" stroke="#00cd00" stroke-width="1.4"/>
<path d="M261.22,725.56H267.82M264.52,722.26V728.86" fill="none" stroke="#00cd00" stroke-width="1.4"/>
<path d="M633.39,210.42H639.99M636.69,207.12V213.72" fill="none" stroke="#00cd00" stroke-width="1.4"/>
<path d="M261.22,712.60H267.82M264.52,709.30V715.90" fill="none" stroke="#00cd00" stroke-width="1.4"/>
<path d="M642.55,206.86H649.15M645.85,203.56V210.16" fill="none" stroke="#00cd00" stroke-width="1.4"/>
<path d="M264.51,702.70H271.11M267.81,699.40V706.00" fill="none" stroke="#00cd00" stroke-width="1.4"/>
<path d="M656.54,208.44H663.14M659.84,205.14V211.74" fill="none" stroke="#00cd00" stroke-width="1.4"/>
<path d="M263.05,687.60H269.65M266.35,684.30V690.90" fill="none" stroke="#00cd00" stroke-width="1.4"/>
<path d="M663.42,207.65H670.02M666.72,204.35V210.95" fill="none" stroke="#00cd00" stroke-width="1.4"/>
<path d="M263.78,680.18H270.38M267.08,676.88V683.48" fill="none" stroke="#00cd00" stroke-width="1.4"/>
<path d="M654.41,219.50H661.01M657.71,216.20V222.80" fill="none" stroke="#00cd00" stroke-width="1.4"/>
<path d="M252.80,689.90H259.40M256.10,686.60V693.20" fill="none" stroke="#00cd00" stroke-width="1.4"/>
<path d="M654.41,222.27H661.01M657.71,218.97V225.57" fill="none" stroke="#00cd00" stroke-width="1.4"/>
<path d="M250.24,689.90H256.84M253.54,686.60V693.20" fill="none" stroke="#00cd00" stroke-width="1.4"/>
<path d="M583.84,244.39H590.44M587.14,241.09V247.69" fill="none" stroke="#00cd00" stroke-width="1.4"/>
<path d="M229.75,766.09H236.35M233.05,762.79V769.39" fill="none" stroke="#00cd00" stroke-width="1.4"/>
<path d="M660.89,309.18H667.49M664.19,305.88V312.48" fill="none" stroke="#00cd00" stroke-width="1.4"/>
<path d="M169.74,682.91H176.34M173.04,679.61V686.21" fill="none" stroke="#00cd00" stroke-width="1.4"/>
<path d="M501.32,353.52L503.77,357.83L498.87,357.83Z" fill="none" stroke="#ff0000" stroke-width="1.3" stroke-linejoin="miter"/>
<path d="M409.08,555.26L411.53,559.57L406.63,559.57Z" fill="none" stroke="#ff0000" stroke-width="1.3" stroke-linejoin="miter"/>
<path d="M497.92,357.47L500.37,361.78L495.47,361.78Z" fill="none" stroke="#ff0000" stroke-width="1.3" stroke-linejoin="miter"/>
<path d="M405.42,558.92L407.87,563.24L402.97,563.24Z" fill="none" stroke="#ff0000" stroke-width="1.3" stroke-linejoin="miter"/>
<path d="M510.17,364.19L512.62,368.50L507.72,368.50Z" fill="none" stroke="#ff0000" stroke-width="1.3" stroke-linejoin="miter"/>
<path d="M399.20,545.70L401.65,550.01L396.75,550.01Z" fill="none" stroke="#ff0000" stroke-width="1.3" stroke-linejoin="miter"/>
<path d="M467.66,377.22L470.11,381.54L465.21,381.54Z" fill="none" stroke="#ff0000" stroke-width="1.3" stroke-linejoin="miter"/>
<path d="M387.12,591.60L389.57,595.91L384.67,595.91Z" fill="none" stroke="#ff0000" stroke-width="1.3" stroke-linejoin="miter"/>
<path d="M518.63,377.22L521.08,381.54L516.18,381.54Z" fill="none" stroke="#ff0000" stroke-width="1.3" stroke-linejoin="miter"/>
<path d="M387.12,536.57L389.57,540.88L384.67,540.88Z" fill="none" stroke="#ff0000" stroke-width="1.3" stroke-linejoin="miter"/>
<path d="M500.45,389.07L502.90,393.39L498.00,393.39Z" fill="none" stroke="#ff0000" stroke-width="1.3" stroke-linejoin="miter"/>
<path d="M376.14,556.19L378.59,560.51L373.69,560.51Z" fill="none" stroke="#ff0000" stroke-width="1.3" stroke-linejoin="miter"/>
<path d="M447.35,400.53L449.80,404.84L444.90,404.84Z" fill="none" stroke="#ff0000" stroke-width="1.3" stroke-linejoin="miter"/>
<path d="M365.53,613.52L367.98,617.84L363.08,617.84Z" fill="none" stroke="#ff0000" stroke-width="1.3" stroke-linejoin="miter"/>
<path d="M476.03,400.53L478.48,404.84L473.58,404.84Z" fill="none" stroke="#ff0000" stroke-width="1.3" stroke-linejoin="miter"/>
<path d="M365.53,582.56L367.98,586.87L363.08,586.87Z" fill="none" stroke="#ff0000" stroke-width="1.3" stroke-linejoin="miter"/>
<path d="M479.19,402.11L481.64,406.42L476.74,406.42Z" fill="none" stroke="#ff0000" stroke-width="1.3" stroke-linejoin="miter"/>
<path d="M364.07,579.14L366.52,583.45L361.62,583.45Z" fill="none" stroke="#ff0000" stroke-width="1.3" stroke-linejoin="miter"/>
<path d="M523.45,405.67L525.90,409.98L521.00,409.98Z" fill="none" stroke="#ff0000" stroke-width="1.3" stroke-linejoin="miter"/>
<path d="M360.78,531.37L363.23,535.68L358.33,535.68Z" fill="none" stroke="#ff0000" stroke-width="1.3" stroke-linejoin="miter"/>
<path d="M463.15,421.47L465.60,425.78L460.70,425.78Z" fill="none" stroke="#ff0000" stroke-width="1.3" stroke-linejoin="miter"/>
<path d="M346.14,596.46L348.59,600.77L343.69,600.77Z" fill="none" stroke="#ff0000" stroke-width="1.3" stroke-linejoin="miter"/>
<path d="M474.85,462.16L477.30,466.47L472.40,466.47Z" fill="none" stroke="#ff0000" stroke-width="1.3" stroke-linejoin="miter"/>
<path d="M308.45,583.84L310.90,588.15L306.00,588.15Z" fill="none" stroke="#ff0000" stroke-width="1.3" stroke-linejoin="miter"/>
<path d="M464.99,335.53H471.59M468.29,332.23V338.83" fill="none" stroke="#00cd00" stroke-width="1.4"/>
<path d="M424.44,593.07H431.04M427.74,589.77V596.37" fill="none" stroke="#00cd00" stroke-width="1.4"/>
<path d="M521.49,340.67H528.09M524.79,337.37V343.97" fill="none" stroke="#00cd00" stroke-width="1.4"/>
<path d="M419.68,532.07H426.28M422.98,528.77V535.37" fill="none" stroke="#00cd00" stroke-width="1.4"/>
<path d="M503.08,352.52H509.68M506.38,349.22V355.82" fill="none" stroke="#00cd00" stroke-width="1.4"/>
<path d="M408.71,551.95H415.31M412.01,548.65V555.25" fill="none" stroke="#00cd00" stroke-width="1.4"/>
<path d="M463.01,362.79H469.61M466.31,359.49V366.09" fill="none" stroke="#00cd00" stroke-width="1.4"/>
<path d="M399.19,595.20H405.79M402.49,591.90V598.50" fill="none" stroke="#00cd00" stroke-width="1.4"/>
<path d="M491.70,368.32H498.30M495.00,365.02V371.62" fill="none" stroke="#00cd00" stroke-width="1.4"/>
<path d="M394.07,564.24H400.67M397.37,560.94V567.54" fill="none" stroke="#00cd00" stroke-width="1.4"/>
<path d="M510.98,368.71H517.58M514.28,365.41V372.01" fill="none" stroke="#00cd00" stroke-width="1.4"/>
<path d="M393.70,543.42H400.30M397.00,540.12V546.72" fill="none" stroke="#00cd00" stroke-width="1.4"/>
<path d="M517.54,365.55H524.14M520.84,362.25V368.85" fill="none" stroke="#00cd00" stroke-width="1.4"/>
<path d="M396.63,536.34H403.23M399.93,533.04V539.64" fill="none" stroke="#00cd00" stroke-width="1.4"/>
<path d="M486.09,379.77H492.69M489.39,376.47V383.07" fill="none" stroke="#00cd00" stroke-width="1.4"/>
<path d="M383.46,570.29H390.06M386.76,566.99V573.59" fill="none" stroke="#00cd00" stroke-width="1.4"/>
<path d="M476.84,403.48H483.44M480.14,400.18V406.78" fill="none" stroke="#00cd00" stroke-width="1.4"/>
<path d="M361.50,580.28H368.10M364.80,576.98V583.58" fill="none" stroke="#00cd00" stroke-width="1.4"/>
<path d="M546.54,403.48H553.14M549.84,400.18V406.78" fill="none" stroke="#00cd00" stroke-width="1.4"/>
<path d="M361.50,505.03H368.10M364.80,501.73V508.33" fill="none" stroke="#00cd00" stroke-width="1.4"/>
<path d="M505.92,422.04H512.52M509.22,418.74V425.34" fill="none" stroke="#00cd00" stroke-width="1.4"/>
<path d="M344.30,548.88H350.90M347.60,545.58V552.18" fill="none" stroke="#00cd00" stroke-width="1.4"/>
<path d="M563.61,434.29H570.21M566.91,430.99V437.59" fill="none" stroke="#00cd00" stroke-width="1.4"/>
<path d="M332.96,486.60H339.56M336.26,483.30V489.90" fill="none" stroke="#00cd00" stroke-width="1.4"/>
<path d="M655.50,353.52L657.95,357.83L653.05,357.83Z" fill="none" stroke="#ff0000" stroke-width="1.3" stroke-linejoin="miter"/>
<path d="M409.08,690.13L411.53,694.45L406.63,694.45Z" fill="none" stroke="#ff0000" stroke-width="1.3" stroke-linejoin="miter"/>
<path d="M645.62,357.47L648.07,361.78L643.17,361.78Z" fill="none" stroke="#ff0000" stroke-width="1.3" stroke-linejoin="miter"/>
<path d="M405.42,700.80L407.87,705.11L402.97,705.11Z" fill="none" stroke="#ff0000" stroke-width="1.3" stroke-linejoin="miter"/>
<path d="M659.84,363.79L662.29,368.10L657.39,368.10Z" fill="none" stroke="#ff0000" stroke-width="1.3" stroke-linejoin="miter"/>
<path d="M399.56,685.44L402.01,689.75L397.11,689.75Z" fill="none" stroke="#ff0000" stroke-width="1.3" stroke-linejoin="miter"/>
<path d="M637.87,377.22L640.32,381.54L635.42,381.54Z" fill="none" stroke="#ff0000" stroke-width="1.3" stroke-linejoin="miter"/>
<path d="M387.12,709.16L389.57,713.47L384.67,713.47Z" fill="none" stroke="#ff0000" stroke-width="1.3" stroke-linejoin="miter"/>
<path d="M663.00,377.22L665.45,381.54L660.55,381.54Z" fill="none" stroke="#ff0000" stroke-width="1.3" stroke-linejoin="miter"/>
<path d="M387.12,682.03L389.57,686.34L384.67,686.34Z" fill="none" stroke="#ff0000" stroke-width="1.3" stroke-linejoin="miter"/>
<path d="M657.23,389.07L659.68,393.39L654.78,393.39Z" fill="none" stroke="#ff0000" stroke-width="1.3" stroke-linejoin="miter"/>
<path d="M376.14,688.26L378.59,692.57L373.69,692.57Z" fill="none" stroke="#ff0000" stroke-width="1.3" stroke-linejoin="miter"/>
<path d="M631.16,400.53L633.61,404.84L628.71,404.84Z" fill="none" stroke="#ff0000" stroke-width="1.3" stroke-linejoin="miter"/>
<path d="M365.53,716.41L367.98,720.72L363.08,720.72Z" fill="none" stroke="#ff0000" stroke-width="1.3" stroke-linejoin="miter"/>
<path d="M644.83,402.11L647.28,406.42L642.38,406.42Z" fill="none" stroke="#ff0000" stroke-width="1.3" stroke-linejoin="miter"/>
<path d="M364.07,701.65L366.52,705.96L361.62,705.96Z" fill="none" stroke="#ff0000" stroke-width="1.3" stroke-linejoin="miter"/>
<path d="M639.29,405.67L641.74,409.98L636.84,409.98Z" fill="none" stroke="#ff0000" stroke-width="1.3" stroke-linejoin="miter"/>
<path d="M360.78,707.62L363.23,711.94L358.33,711.94Z" fill="none" stroke="#ff0000" stroke-width="1.3" stroke-linejoin="miter"/>
<path d="M671.93,400.53L674.38,404.84L669.48,404.84Z" fill="none" stroke="#ff0000" stroke-width="1.3" stroke-linejoin="miter"/>
<path d="M365.53,672.39L367.98,676.70L363.08,676.70Z" fill="none" stroke="#ff0000" stroke-width="1.3" stroke-linejoin="miter"/>
<path d="M666.95,422.26L669.40,426.57L664.50,426.57Z" fill="none" stroke="#ff0000" stroke-width="1.3" stroke-linejoin="miter"/>
<path d="M345.41,677.76L347.86,682.08L342.96,682.08Z" fill="none" stroke="#ff0000" stroke-width="1.3" stroke-linejoin="miter"/>
<path d="M662.21,462.55L664.66,466.86L659.76,466.86Z" fill="none" stroke="#ff0000" stroke-width="1.3" stroke-linejoin="miter"/>
<path d="M308.08,682.88L310.53,687.20L305.63,687.20Z" fill="none" stroke="#ff0000" stroke-width="1.3" stroke-linejoin="miter"/>
<path d="M656.94,335.53H663.54M660.24,332.23V338.83" fill="none" stroke="#00cd00" stroke-width="1.4"/>
<path d="M424.44,687.17H431.04M427.74,683.87V690.47" fill="none" stroke="#00cd00" stroke-width="1.4"/>
<path d="M642.55,340.67H649.15M645.85,337.37V343.97" fill="none" stroke="#00cd00" stroke-width="1.4"/>
<path d="M419.68,702.70H426.28M422.98,699.40V706.00" fill="none" stroke="#00cd00" stroke-width="1.4"/>
<path d="M654.57,352.52H661.17M657.87,349.22V355.82" fill="none" stroke="#00cd00" stroke-width="1.4"/>
<path d="M408.71,689.73H415.31M412.01,686.43V693.03" fill="none" stroke="#00cd00" stroke-width="1.4"/>
<path d="M633.39,362.79H639.99M636.69,359.49V366.09" fill="none" stroke="#00cd00" stroke-width="1.4"/>
<path d="M399.19,712.60H405.79M402.49,709.30V715.90" fill="none" stroke="#00cd00" stroke-width="1.4"/>
<path d="M621.37,368.32H627.97M624.67,365.02V371.62" fill="none" stroke="#00cd00" stroke-width="1.4"/>
<path d="M394.07,725.56H400.67M397.37,722.26V728.86" fill="none" stroke="#00cd00" stroke-width="1.4"/>
<path d="M660.89,368.71H667.49M664.19,365.41V372.01" fill="none" stroke="#00cd00" stroke-width="1.4"/>
<path d="M393.70,682.91H400.30M397.00,679.61V686.21" fill="none" stroke="#00cd00" stroke-width="1.4"/>
<path d="M704.20,365.55H710.80M707.50,362.25V368.85" fill="none" stroke="#00cd00" stroke-width="1.4"/>
<path d="M396.63,636.15H403.23M399.93,632.85V639.45" fill="none" stroke="#00cd00" stroke-width="1.4"/>
<path d="M654.41,379.77H661.01M657.71,376.47V383.07" fill="none" stroke="#00cd00" stroke-width="1.4"/>
<path d="M383.46,689.90H390.06M386.76,686.60V693.20" fill="none" stroke="#00cd00" stroke-width="1.4"/>
<path d="M583.84,403.48H590.44M587.14,400.18V406.78" fill="none" stroke="#00cd00" stroke-width="1.4"/>
<path d="M361.50,766.09H368.10M364.80,762.79V769.39" fill="none" stroke="#00cd00" stroke-width="1.4"/>
<path d="M641.53,403.48H648.13M644.83,400.18V406.78" fill="none" stroke="#00cd00" stroke-width="1.4"/>
<path d="M361.50,703.81H368.10M364.80,700.51V707.11" fill="none" stroke="#00cd00" stroke-width="1.4"/>
<path d="M662.31,422.04H668.91M665.61,418.74V425.34" fill="none" stroke="#00cd00" stroke-width="1.4"/>
<path d="M344.30,681.37H350.90M347.60,678.07V684.67" fill="none" stroke="#00cd00" stroke-width="1.4"/>
<path d="M663.10,434.29H669.70M666.40,430.99V437.59" fill="none" stroke="#00cd00" stroke-width="1.4"/>
<path d="M332.96,680.52H339.56M336.26,677.22V683.82" fill="none" stroke="#00cd00" stroke-width="1.4"/>
<path d="M639.29,530.99L641.74,535.30L636.84,535.30Z" fill="none" stroke="#ff0000" stroke-width="1.3" stroke-linejoin="miter"/>
<path d="M523.80,707.62L526.25,711.94L521.35,711.94Z" fill="none" stroke="#ff0000" stroke-width="1.3" stroke-linejoin="miter"/>
<path d="M663.00,536.12L665.45,540.44L660.55,540.44Z" fill="none" stroke="#ff0000" stroke-width="1.3" stroke-linejoin="miter"/>
<path d="M519.04,682.03L521.49,686.34L516.59,686.34Z" fill="none" stroke="#ff0000" stroke-width="1.3" stroke-linejoin="miter"/>
<path d="M660.24,545.60L662.69,549.92L657.79,549.92Z" fill="none" stroke="#ff0000" stroke-width="1.3" stroke-linejoin="miter"/>
<path d="M510.26,685.02L512.71,689.33L507.81,689.33Z" fill="none" stroke="#ff0000" stroke-width="1.3" stroke-linejoin="miter"/>
<path d="M656.29,555.48L658.74,559.79L653.84,559.79Z" fill="none" stroke="#ff0000" stroke-width="1.3" stroke-linejoin="miter"/>
<path d="M501.11,689.28L503.56,693.59L498.66,693.59Z" fill="none" stroke="#ff0000" stroke-width="1.3" stroke-linejoin="miter"/>
<path d="M657.08,556.67L659.53,560.98L654.63,560.98Z" fill="none" stroke="#ff0000" stroke-width="1.3" stroke-linejoin="miter"/>
<path d="M500.02,688.43L502.47,692.74L497.57,692.74Z" fill="none" stroke="#ff0000" stroke-width="1.3" stroke-linejoin="miter"/>
<path d="M645.62,558.64L648.07,562.95L643.17,562.95Z" fill="none" stroke="#ff0000" stroke-width="1.3" stroke-linejoin="miter"/>
<path d="M498.19,700.80L500.64,705.11L495.74,705.11Z" fill="none" stroke="#ff0000" stroke-width="1.3" stroke-linejoin="miter"/>
<path d="M644.67,578.79L647.12,583.10L642.22,583.10Z" fill="none" stroke="#ff0000" stroke-width="1.3" stroke-linejoin="miter"/>
<path d="M479.52,701.82L481.97,706.13L477.07,706.13Z" fill="none" stroke="#ff0000" stroke-width="1.3" stroke-linejoin="miter"/>
<path d="M662.21,583.92L664.66,588.24L659.76,588.24Z" fill="none" stroke="#ff0000" stroke-width="1.3" stroke-linejoin="miter"/>
<path d="M474.77,682.88L477.22,687.20L472.32,687.20Z" fill="none" stroke="#ff0000" stroke-width="1.3" stroke-linejoin="miter"/>
<path d="M671.85,581.95L674.30,586.26L669.40,586.26Z" fill="none" stroke="#ff0000" stroke-width="1.3" stroke-linejoin="miter"/>
<path d="M476.60,672.48L479.05,676.79L474.15,676.79Z" fill="none" stroke="#ff0000" stroke-width="1.3" stroke-linejoin="miter"/>
<path d="M637.87,591.43L640.32,595.74L635.42,595.74Z" fill="none" stroke="#ff0000" stroke-width="1.3" stroke-linejoin="miter"/>
<path d="M467.81,709.16L470.26,713.47L465.36,713.47Z" fill="none" stroke="#ff0000" stroke-width="1.3" stroke-linejoin="miter"/>
<path d="M667.19,596.17L669.64,600.48L664.74,600.48Z" fill="none" stroke="#ff0000" stroke-width="1.3" stroke-linejoin="miter"/>
<path d="M463.42,677.51L465.87,681.82L460.97,681.82Z" fill="none" stroke="#ff0000" stroke-width="1.3" stroke-linejoin="miter"/>
<path d="M631.16,612.76L633.61,617.07L628.71,617.07Z" fill="none" stroke="#ff0000" stroke-width="1.3" stroke-linejoin="miter"/>
<path d="M448.05,716.41L450.50,720.72L445.60,720.72Z" fill="none" stroke="#ff0000" stroke-width="1.3" stroke-linejoin="miter"/>
<path d="M663.26,486.53H669.86M666.56,483.23V489.83" fill="none" stroke="#00cd00" stroke-width="1.4"/>
<path d="M563.68,680.35H570.28M566.98,677.05V683.65" fill="none" stroke="#00cd00" stroke-width="1.4"/>
<path d="M583.84,505.10H590.44M587.14,501.80V508.40" fill="none" stroke="#00cd00" stroke-width="1.4"/>
<path d="M546.48,766.09H553.08M549.78,762.79V769.39" fill="none" stroke="#00cd00" stroke-width="1.4"/>
<path d="M642.55,532.75H649.15M645.85,529.45V536.05" fill="none" stroke="#00cd00" stroke-width="1.4"/>
<path d="M520.87,702.70H527.47M524.17,699.40V706.00" fill="none" stroke="#00cd00" stroke-width="1.4"/>
<path d="M704.20,536.54H710.80M707.50,533.24V539.84" fill="none" stroke="#00cd00" stroke-width="1.4"/>
<path d="M517.35,636.15H523.95M520.65,632.85V639.45" fill="none" stroke="#00cd00" stroke-width="1.4"/>
<path d="M661.05,543.42H667.65M664.35,540.12V546.72" fill="none" stroke="#00cd00" stroke-width="1.4"/>
<path d="M510.99,682.74H517.59M514.29,679.44V686.04" fill="none" stroke="#00cd00" stroke-width="1.4"/>
<path d="M662.47,548.95H669.07M665.77,545.65V552.25" fill="none" stroke="#00cd00" stroke-width="1.4"/>
<path d="M505.86,681.20H512.46M509.16,677.90V684.50" fill="none" stroke="#00cd00" stroke-width="1.4"/>
<path d="M654.72,552.50H661.32M658.02,549.20V555.80" fill="none" stroke="#00cd00" stroke-width="1.4"/>
<path d="M502.57,689.56H509.17M505.87,686.26V692.86" fill="none" stroke="#00cd00" stroke-width="1.4"/>
<path d="M621.37,564.35H627.97M624.67,561.05V567.65" fill="none" stroke="#00cd00" stroke-width="1.4"/>
<path d="M491.59,725.56H498.19M494.89,722.26V728.86" fill="none" stroke="#00cd00" stroke-width="1.4"/>
<path d="M654.41,570.91H661.01M657.71,567.61V574.21" fill="none" stroke="#00cd00" stroke-width="1.4"/>
<path d="M485.52,689.90H492.12M488.82,686.60V693.20" fill="none" stroke="#00cd00" stroke-width="1.4"/>
<path d="M641.53,580.15H648.13M644.83,576.85V583.45" fill="none" stroke="#00cd00" stroke-width="1.4"/>
<path d="M476.96,703.81H483.56M480.26,700.51V707.11" fill="none" stroke="#00cd00" stroke-width="1.4"/>
<path d="M656.94,593.19H663.54M660.24,589.89V596.49" fill="none" stroke="#00cd00" stroke-width="1.4"/>
<path d="M464.88,687.17H471.48M468.18,683.87V690.47" fill="none" stroke="#00cd00" stroke-width="1.4"/>
<path d="M633.39,595.95H639.99M636.69,592.65V599.25" fill="none" stroke="#00cd00" stroke-width="1.4"/>
<path d="M462.32,712.60H468.92M465.62,709.30V715.90" fill="none" stroke="#00cd00" stroke-width="1.4"/>
<rect x="26.00" y="998.40" width="136.2" height="141" fill="none" stroke="#333" stroke-width="1.6"/>
<text x="91.67" y="1063.40" font-size="17.5" text-anchor="middle" fill="#111">PC 1</text>
<text x="96.53" y="1085.90" font-size="17.5" text-anchor="middle" fill="#111">46 %</text>
<rect x="173.35" y="998.40" width="136.2" height="141" fill="none" stroke="#333" stroke-width="1.6"/>
<rect x="320.70" y="998.40" width="136.2" height="141" fill="none" stroke="#333" stroke-width="1.6"/>
<rect x="468.05" y="998.40" width="136.2" height="141" fill="none" stroke="#333" stroke-width="1.6"/>
<rect x="615.40" y="998.40" width="136.2" height="141" fill="none" stroke="#333" stroke-width="1.6"/>
<rect x="26.00" y="1150.45" width="136.2" height="141" fill="none" stroke="#333" stroke-width="1.6"/>
<rect x="173.35" y="1150.45" width="136.2" height="141" fill="none" stroke="#333" stroke-width="1.6"/>
<text x="239.02" y="1215.45" font-size="17.5" text-anchor="middle" fill="#111">PC 2</text>
<text x="243.88" y="1237.95" font-size="17.5" text-anchor="middle" fill="#111">21.7 %</text>
<rect x="320.70" y="1150.45" width="136.2" height="141" fill="none" stroke="#333" stroke-width="1.6"/>
<rect x="468.05" y="1150.45" width="136.2" height="141" fill="none" stroke="#333" stroke-width="1.6"/>
<rect x="615.40" y="1150.45" width="136.2" height="141" fill="none" stroke="#333" stroke-width="1.6"/>
<rect x="26.00" y="1302.50" width="136.2" height="141" fill="none" stroke="#333" stroke-width="1.6"/>
<rect x="173.35" y="1302.50" width="136.2" height="141" fill="none" stroke="#333" stroke-width="1.6"/>
<rect x="320.70" y="1302.50" width="136.2" height="141" fill="none" stroke="#333" stroke-width="1.6"/>
<text x="386.37" y="1367.50" font-size="17.5" text-anchor="middle" fill="#111">PC 3</text>
<text x="391.23" y="1390.00" font-size="17.5" text-anchor="middle" fill="#111">10.3 %</text>
<rect x="468.05" y="1302.50" width="136.2" height="141" fill="none" stroke="#333" stroke-width="1.6"/>
<rect x="615.40" y="1302.50" width="136.2" height="141" fill="none" stroke="#333" stroke-width="1.6"/>
<rect x="26.00" y="1454.55" width="136.2" height="141" fill="none" stroke="#333" stroke-width="1.6"/>
<rect x="173.35" y="1454.55" width="136.2" height="141" fill="none" stroke="#333" stroke-width="1.6"/>
<rect x="320.70" y="1454.55" width="136.2" height="141" fill="none" stroke="#333" stroke-width="1.6"/>
<rect x="468.05" y="1454.55" width="136.2" height="141" fill="none" stroke="#333" stroke-width="1.6"/>
<text x="533.72" y="1519.55" font-size="17.5" text-anchor="middle" fill="#111">PC 4</text>
<text x="538.58" y="1542.05" font-size="17.5" text-anchor="middle" fill="#111">5.9 %</text>
<rect x="615.40" y="1454.55" width="136.2" height="141" fill="none" stroke="#333" stroke-width="1.6"/>
<rect x="26.00" y="1606.60" width="136.2" height="141" fill="none" stroke="#333" stroke-width="1.6"/>
<rect x="173.35" y="1606.60" width="136.2" height="141" fill="none" stroke="#333" stroke-width="1.6"/>
<rect x="320.70" y="1606.60" width="136.2" height="141" fill="none" stroke="#333" stroke-width="1.6"/>
<rect x="468.05" y="1606.60" width="136.2" height="141" fill="none" stroke="#333" stroke-width="1.6"/>
<rect x="615.40" y="1606.60" width="136.2" height="141" fill="none" stroke="#333" stroke-width="1.6"/>
<text x="681.07" y="1671.60" font-size="17.5" text-anchor="middle" fill="#111">PC 5</text>
<text x="685.93" y="1694.10" font-size="17.5" text-anchor="middle" fill="#111">4.4 %</text>
<path d="M48.81,1747.60H156.80" stroke="#333" stroke-width="1.5" fill="none"/>
<path d="M48.81,1747.60V1753.60" stroke="#333" stroke-width="1.5" fill="none"/>
<text x="48.81" y="1769.09" font-size="9.7" text-anchor="middle" fill="#222">-2</text>
<path d="M75.81,1747.60V1753.60" stroke="#333" stroke-width="1.5" fill="none"/>
<text x="75.81" y="1769.09" font-size="9.7" text-anchor="middle" fill="#222">0</text>
<path d="M102.81,1747.60V1753.60" stroke="#333" stroke-width="1.5" fill="none"/>
<text x="102.81" y="1769.09" font-size="9.7" text-anchor="middle" fill="#222">2</text>
<path d="M129.80,1747.60V1753.60" stroke="#333" stroke-width="1.5" fill="none"/>
<text x="129.80" y="1769.09" font-size="9.7" text-anchor="middle" fill="#222">4</text>
<path d="M156.80,1747.60V1753.60" stroke="#333" stroke-width="1.5" fill="none"/>
<text x="156.80" y="1769.09" font-size="9.7" text-anchor="middle" fill="#222">6</text>
<path d="M199.44,998.40H295.47" stroke="#333" stroke-width="1.5" fill="none"/>
<path d="M199.44,998.40V992.40" stroke="#333" stroke-width="1.5" fill="none"/>
<text x="199.44" y="985.49" font-size="9.7" text-anchor="middle" fill="#222">-2</text>
<path d="M231.45,998.40V992.40" stroke="#333" stroke-width="1.5" fill="none"/>
<text x="231.45" y="985.49" font-size="9.7" text-anchor="middle" fill="#222">0</text>
<path d="M263.46,998.40V992.40" stroke="#333" stroke-width="1.5" fill="none"/>
<text x="263.46" y="985.49" font-size="9.7" text-anchor="middle" fill="#222">2</text>
<path d="M295.47,998.40V992.40" stroke="#333" stroke-width="1.5" fill="none"/>
<text x="295.47" y="985.49" font-size="9.7" text-anchor="middle" fill="#222">4</text>
<path d="M341.07,1747.60H451.81" stroke="#333" stroke-width="1.5" fill="none"/>
<path d="M341.07,1747.60V1753.60" stroke="#333" stroke-width="1.5" fill="none"/>
<text x="341.07" y="1769.09" font-size="9.7" text-anchor="middle" fill="#222">-3</text>
<path d="M363.22,1747.60V1753.60" stroke="#333" stroke-width="1.5" fill="none"/>
<text x="363.22" y="1769.09" font-size="9.7" text-anchor="middle" fill="#222">-2</text>
<path d="M385.37,1747.60V1753.60" stroke="#333" stroke-width="1.5" fill="none"/>
<text x="385.37" y="1769.09" font-size="9.7" text-anchor="middle" fill="#222">-1</text>
<path d="M407.51,1747.60V1753.60" stroke="#333" stroke-width="1.5" fill="none"/>
<text x="407.51" y="1769.09" font-size="9.7" text-anchor="middle" fill="#222">0</text>
<path d="M429.66,1747.60V1753.60" stroke="#333" stroke-width="1.5" fill="none"/>
<text x="429.66" y="1769.09" font-size="9.7" text-anchor="middle" fill="#222">1</text>
<path d="M451.81,1747.60V1753.60" stroke="#333" stroke-width="1.5" fill="none"/>
<text x="451.81" y="1769.09" font-size="9.7" text-anchor="middle" fill="#222">2</text>
<path d="M480.67,998.40H595.36" stroke="#333" stroke-width="1.5" fill="none"/>
<path d="M480.67,998.40V992.40" stroke="#333" stroke-width="1.5" fill="none"/>
<text x="480.67" y="985.49" font-size="9.7" text-anchor="middle" fill="#222">-2</text>
<path d="M509.34,998.40V992.40" stroke="#333" stroke-width="1.5" fill="none"/>
<text x="509.34" y="985.49" font-size="9.7" text-anchor="middle" fill="#222">-1</text>
<path d="M538.01,998.40V992.40" stroke="#333" stroke-width="1.5" fill="none"/>
<text x="538.01" y="985.49" font-size="9.7" text-anchor="middle" fill="#222">0</text>
<path d="M566.69,998.40V992.40" stroke="#333" stroke-width="1.5" fill="none"/>
<text x="566.69" y="985.49" font-size="9.7" text-anchor="middle" fill="#222">1</text>
<path d="M595.36,998.40V992.40" stroke="#333" stroke-width="1.5" fill="none"/>
<text x="595.36" y="985.49" font-size="9.7" text-anchor="middle" fill="#222">2</text>
<path d="M640.82,1747.60H743.33" stroke="#333" stroke-width="1.5" fill="none"/>
<path d="M640.82,1747.60V1753.60" stroke="#333" stroke-width="1.5" fill="none"/>
<text x="640.82" y="1769.09" font-size="9.7" text-anchor="middle" fill="#222">-1</text>
<path d="M674.99,1747.60V1753.60" stroke="#333" stroke-width="1.5" fill="none"/>
<text x="674.99" y="1769.09" font-size="9.7" text-anchor="middle" fill="#222">0</text>
<path d="M709.16,1747.60V1753.60" stroke="#333" stroke-width="1.5" fill="none"/>
<text x="709.16" y="1769.09" font-size="9.7" text-anchor="middle" fill="#222">1</text>
<path d="M743.33,1747.60V1753.60" stroke="#333" stroke-width="1.5" fill="none"/>
<text x="743.33" y="1769.09" font-size="9.7" text-anchor="middle" fill="#222">2</text>
<path d="M751.60,1115.78V1003.99" stroke="#333" stroke-width="1.5" fill="none"/>
<path d="M751.60,1115.78H757.60" stroke="#333" stroke-width="1.5" fill="none"/>
<text transform="translate(773.09,1115.78) rotate(-90)" font-size="9.7" text-anchor="middle" fill="#222">-2</text>
<path d="M751.60,1087.84H757.60" stroke="#333" stroke-width="1.5" fill="none"/>
<text transform="translate(773.09,1087.84) rotate(-90)" font-size="9.7" text-anchor="middle" fill="#222">0</text>
<path d="M751.60,1059.89H757.60" stroke="#333" stroke-width="1.5" fill="none"/>
<text transform="translate(773.09,1059.89) rotate(-90)" font-size="9.7" text-anchor="middle" fill="#222">2</text>
<path d="M751.60,1031.94H757.60" stroke="#333" stroke-width="1.5" fill="none"/>
<text transform="translate(773.09,1031.94) rotate(-90)" font-size="9.7" text-anchor="middle" fill="#222">4</text>
<path d="M751.60,1003.99H757.60" stroke="#333" stroke-width="1.5" fill="none"/>
<text transform="translate(773.09,1003.99) rotate(-90)" font-size="9.7" text-anchor="middle" fill="#222">6</text>
<path d="M26.00,1264.44V1165.03" stroke="#333" stroke-width="1.5" fill="none"/>
<path d="M26.00,1264.44H20.00" stroke="#333" stroke-width="1.5" fill="none"/>
<text transform="translate(14.49,1264.44) rotate(-90)" font-size="9.7" text-anchor="middle" fill="#222">-2</text>
<path d="M26.00,1231.31H20.00" stroke="#333" stroke-width="1.5" fill="none"/>
<text transform="translate(14.49,1231.31) rotate(-90)" font-size="9.7" text-anchor="middle" fill="#222">0</text>
<path d="M26.00,1198.17H20.00" stroke="#333" stroke-width="1.5" fill="none"/>
<text transform="translate(14.49,1198.17) rotate(-90)" font-size="9.7" text-anchor="middle" fill="#222">2</text>
<path d="M26.00,1165.03H20.00" stroke="#333" stroke-width="1.5" fill="none"/>
<text transform="translate(14.49,1165.03) rotate(-90)" font-size="9.7" text-anchor="middle" fill="#222">4</text>
<path d="M751.60,1422.41V1307.77" stroke="#333" stroke-width="1.5" fill="none"/>
<path d="M751.60,1422.41H757.60" stroke="#333" stroke-width="1.5" fill="none"/>
<text transform="translate(773.09,1422.41) rotate(-90)" font-size="9.7" text-anchor="middle" fill="#222">-3</text>
<path d="M751.60,1399.48H757.60" stroke="#333" stroke-width="1.5" fill="none"/>
<text transform="translate(773.09,1399.48) rotate(-90)" font-size="9.7" text-anchor="middle" fill="#222">-2</text>
<path d="M751.60,1376.55H757.60" stroke="#333" stroke-width="1.5" fill="none"/>
<text transform="translate(773.09,1376.55) rotate(-90)" font-size="9.7" text-anchor="middle" fill="#222">-1</text>
<path d="M751.60,1353.63H757.60" stroke="#333" stroke-width="1.5" fill="none"/>
<text transform="translate(773.09,1353.63) rotate(-90)" font-size="9.7" text-anchor="middle" fill="#222">0</text>
<path d="M751.60,1330.70H757.60" stroke="#333" stroke-width="1.5" fill="none"/>
<text transform="translate(773.09,1330.70) rotate(-90)" font-size="9.7" text-anchor="middle" fill="#222">1</text>
<path d="M751.60,1307.77H757.60" stroke="#333" stroke-width="1.5" fill="none"/>
<text transform="translate(773.09,1307.77) rotate(-90)" font-size="9.7" text-anchor="middle" fill="#222">2</text>
<path d="M26.00,1582.49V1463.75" stroke="#333" stroke-width="1.5" fill="none"/>
<path d="M26.00,1582.49H20.00" stroke="#333" stroke-width="1.5" fill="none"/>
<text transform="translate(14.49,1582.49) rotate(-90)" font-size="9.7" text-anchor="middle" fill="#222">-2</text>
<path d="M26.00,1552.80H20.00" stroke="#333" stroke-width="1.5" fill="none"/>
<text transform="translate(14.49,1552.80) rotate(-90)" font-size="9.7" text-anchor="middle" fill="#222">-1</text>
<path d="M26.00,1523.12H20.00" stroke="#333" stroke-width="1.5" fill="none"/>
<text transform="translate(14.49,1523.12) rotate(-90)" font-size="9.7" text-anchor="middle" fill="#222">0</text>
<path d="M26.00,1493.44H20.00" stroke="#333" stroke-width="1.5" fill="none"/>
<text transform="translate(14.49,1493.44) rotate(-90)" font-size="9.7" text-anchor="middle" fill="#222">1</text>
<path d="M26.00,1463.75H20.00" stroke="#333" stroke-width="1.5" fill="none"/>
<text transform="translate(14.49,1463.75) rotate(-90)" font-size="9.7" text-anchor="middle" fill="#222">2</text>
<path d="M751.60,1721.28V1615.16" stroke="#333" stroke-width="1.5" fill="none"/>
<path d="M751.60,1721.28H757.60" stroke="#333" stroke-width="1.5" fill="none"/>
<text transform="translate(773.09,1721.28) rotate(-90)" font-size="9.7" text-anchor="middle" fill="#222">-1</text>
<path d="M751.60,1685.91H757.60" stroke="#333" stroke-width="1.5" fill="none"/>
<text transform="translate(773.09,1685.91) rotate(-90)" font-size="9.7" text-anchor="middle" fill="#222">0</text>
<path d="M751.60,1650.53H757.60" stroke="#333" stroke-width="1.5" fill="none"/>
<text transform="translate(773.09,1650.53) rotate(-90)" font-size="9.7" text-anchor="middle" fill="#222">1</text>
<path d="M751.60,1615.16H757.60" stroke="#333" stroke-width="1.5" fill="none"/>
<text transform="translate(773.09,1615.16) rotate(-90)" font-size="9.7" text-anchor="middle" fill="#222">2</text>
<path d="M280.23,1066.09L282.73,1070.49L277.73,1070.49Z" fill="none" stroke="#ff0000" stroke-width="1.3" stroke-linejoin="miter"/>
<path d="M94.69,1178.60L97.19,1183.00L92.19,1183.00Z" fill="none" stroke="#ff0000" stroke-width="1.3" stroke-linejoin="miter"/>
<path d="M281.72,1075.60L284.22,1080.00L279.22,1080.00Z" fill="none" stroke="#ff0000" stroke-width="1.3" stroke-linejoin="miter"/>
<path d="M85.50,1177.06L88.00,1181.46L83.00,1181.46Z" fill="none" stroke="#ff0000" stroke-width="1.3" stroke-linejoin="miter"/>
<path d="M282.13,1079.32L284.63,1083.72L279.63,1083.72Z" fill="none" stroke="#ff0000" stroke-width="1.3" stroke-linejoin="miter"/>
<path d="M81.90,1176.64L84.40,1181.04L79.40,1181.04Z" fill="none" stroke="#ff0000" stroke-width="1.3" stroke-linejoin="miter"/>
<path d="M284.20,1080.15L286.70,1084.55L281.70,1084.55Z" fill="none" stroke="#ff0000" stroke-width="1.3" stroke-linejoin="miter"/>
<path d="M81.11,1174.50L83.61,1178.90L78.61,1178.90Z" fill="none" stroke="#ff0000" stroke-width="1.3" stroke-linejoin="miter"/>
<path d="M287.34,1079.74L289.84,1084.14L284.84,1084.14Z" fill="none" stroke="#ff0000" stroke-width="1.3" stroke-linejoin="miter"/>
<path d="M81.51,1171.24L84.01,1175.64L79.01,1175.64Z" fill="none" stroke="#ff0000" stroke-width="1.3" stroke-linejoin="miter"/>
<path d="M304.45,1088.84L306.95,1093.24L301.95,1093.24Z" fill="none" stroke="#ff0000" stroke-width="1.3" stroke-linejoin="miter"/>
<path d="M72.72,1153.53L75.22,1157.93L70.22,1157.93Z" fill="none" stroke="#ff0000" stroke-width="1.3" stroke-linejoin="miter"/>
<path d="M205.08,1110.34L207.58,1114.74L202.58,1114.74Z" fill="none" stroke="#ff0000" stroke-width="1.3" stroke-linejoin="miter"/>
<path d="M51.95,1256.40L54.45,1260.80L49.45,1260.80Z" fill="none" stroke="#ff0000" stroke-width="1.3" stroke-linejoin="miter"/>
<path d="M245.34,1119.43L247.84,1123.83L242.84,1123.83Z" fill="none" stroke="#ff0000" stroke-width="1.3" stroke-linejoin="miter"/>
<path d="M43.16,1214.72L45.66,1219.12L40.66,1219.12Z" fill="none" stroke="#ff0000" stroke-width="1.3" stroke-linejoin="miter"/>
<path d="M217.23,1124.40L219.73,1128.80L214.73,1128.80Z" fill="none" stroke="#ff0000" stroke-width="1.3" stroke-linejoin="miter"/>
<path d="M38.37,1243.82L40.87,1248.22L35.87,1248.22Z" fill="none" stroke="#ff0000" stroke-width="1.3" stroke-linejoin="miter"/>
<path d="M230.87,1126.46L233.37,1130.86L228.37,1130.86Z" fill="none" stroke="#ff0000" stroke-width="1.3" stroke-linejoin="miter"/>
<path d="M36.37,1229.70L38.87,1234.10L33.87,1234.10Z" fill="none" stroke="#ff0000" stroke-width="1.3" stroke-linejoin="miter"/>
<path d="M230.05,1131.01L232.55,1135.41L227.55,1135.41Z" fill="none" stroke="#ff0000" stroke-width="1.3" stroke-linejoin="miter"/>
<path d="M31.98,1230.56L34.48,1234.96L29.48,1234.96Z" fill="none" stroke="#ff0000" stroke-width="1.3" stroke-linejoin="miter"/>
<path d="M234.18,1131.01L236.68,1135.41L231.68,1135.41Z" fill="none" stroke="#ff0000" stroke-width="1.3" stroke-linejoin="miter"/>
<path d="M31.98,1226.28L34.48,1230.68L29.48,1230.68Z" fill="none" stroke="#ff0000" stroke-width="1.3" stroke-linejoin="miter"/>
<path d="M207.22,1003.38H214.02M210.62,999.98V1006.78" fill="none" stroke="#00cd00" stroke-width="1.4"/>
<path d="M153.99,1252.87H160.79M157.39,1249.47V1256.27" fill="none" stroke="#00cd00" stroke-width="1.4"/>
<path d="M213.42,1003.79H220.22M216.82,1000.39V1007.19" fill="none" stroke="#00cd00" stroke-width="1.4"/>
<path d="M153.59,1246.45H160.39M156.99,1243.05V1249.85" fill="none" stroke="#00cd00" stroke-width="1.4"/>
<path d="M201.84,1009.16H208.64M205.24,1005.76V1012.56" fill="none" stroke="#00cd00" stroke-width="1.4"/>
<path d="M148.40,1258.43H155.20M151.80,1255.03V1261.83" fill="none" stroke="#00cd00" stroke-width="1.4"/>
<path d="M211.76,1009.16H218.56M215.16,1005.76V1012.56" fill="none" stroke="#00cd00" stroke-width="1.4"/>
<path d="M148.40,1248.16H155.20M151.80,1244.76V1251.56" fill="none" stroke="#00cd00" stroke-width="1.4"/>
<path d="M212.18,1010.40H218.98M215.58,1007.00V1013.80" fill="none" stroke="#00cd00" stroke-width="1.4"/>
<path d="M147.20,1247.73H154.00M150.60,1244.33V1251.13" fill="none" stroke="#00cd00" stroke-width="1.4"/>
<path d="M179.11,1105.09H185.91M182.51,1101.69V1108.49" fill="none" stroke="#00cd00" stroke-width="1.4"/>
<path d="M55.74,1281.97H62.54M59.14,1278.57V1285.37" fill="none" stroke="#00cd00" stroke-width="1.4"/>
<path d="M174.97,1107.57H181.77M178.37,1104.17V1110.97" fill="none" stroke="#00cd00" stroke-width="1.4"/>
<path d="M53.34,1286.25H60.14M56.74,1282.85V1289.65" fill="none" stroke="#00cd00" stroke-width="1.4"/>
<path d="M182.00,1117.09H188.80M185.40,1113.69V1120.49" fill="none" stroke="#00cd00" stroke-width="1.4"/>
<path d="M44.16,1278.97H50.96M47.56,1275.57V1282.37" fill="none" stroke="#00cd00" stroke-width="1.4"/>
<path d="M203.50,1117.09H210.30M206.90,1113.69V1120.49" fill="none" stroke="#00cd00" stroke-width="1.4"/>
<path d="M44.16,1256.72H50.96M47.56,1253.32V1260.12" fill="none" stroke="#00cd00" stroke-width="1.4"/>
<path d="M213.83,1117.09H220.63M217.23,1113.69V1120.49" fill="none" stroke="#00cd00" stroke-width="1.4"/>
<path d="M44.16,1246.02H50.96M47.56,1242.62V1249.42" fill="none" stroke="#00cd00" stroke-width="1.4"/>
<path d="M196.47,1127.42H203.27M199.87,1124.02V1130.82" fill="none" stroke="#00cd00" stroke-width="1.4"/>
<path d="M34.17,1264.00H40.97M37.57,1260.60V1267.40" fill="none" stroke="#00cd00" stroke-width="1.4"/>
<path d="M241.11,1130.32H247.91M244.51,1126.92V1133.72" fill="none" stroke="#00cd00" stroke-width="1.4"/>
<path d="M31.37,1217.78H38.17M34.77,1214.38V1221.18" fill="none" stroke="#00cd00" stroke-width="1.4"/>
<path d="M438.81,1066.09L441.31,1070.49L436.31,1070.49Z" fill="none" stroke="#ff0000" stroke-width="1.3" stroke-linejoin="miter"/>
<path d="M94.69,1319.03L97.19,1323.43L92.19,1323.43Z" fill="none" stroke="#ff0000" stroke-width="1.3" stroke-linejoin="miter"/>
<path d="M433.44,1075.60L435.94,1080.00L430.94,1080.00Z" fill="none" stroke="#ff0000" stroke-width="1.3" stroke-linejoin="miter"/>
<path d="M85.50,1324.59L88.00,1328.99L83.00,1328.99Z" fill="none" stroke="#ff0000" stroke-width="1.3" stroke-linejoin="miter"/>
<path d="M433.11,1078.08L435.61,1082.48L430.61,1082.48Z" fill="none" stroke="#ff0000" stroke-width="1.3" stroke-linejoin="miter"/>
<path d="M83.10,1324.93L85.60,1329.33L80.60,1329.33Z" fill="none" stroke="#ff0000" stroke-width="1.3" stroke-linejoin="miter"/>
<path d="M432.78,1080.98L435.28,1085.38L430.28,1085.38Z" fill="none" stroke="#ff0000" stroke-width="1.3" stroke-linejoin="miter"/>
<path d="M80.31,1325.27L82.81,1329.67L77.81,1329.67Z" fill="none" stroke="#ff0000" stroke-width="1.3" stroke-linejoin="miter"/>
<path d="M415.66,1079.32L418.16,1083.72L413.16,1083.72Z" fill="none" stroke="#ff0000" stroke-width="1.3" stroke-linejoin="miter"/>
<path d="M81.90,1342.99L84.40,1347.39L79.40,1347.39Z" fill="none" stroke="#ff0000" stroke-width="1.3" stroke-linejoin="miter"/>
<path d="M426.16,1088.84L428.66,1093.24L423.66,1093.24Z" fill="none" stroke="#ff0000" stroke-width="1.3" stroke-linejoin="miter"/>
<path d="M72.72,1332.12L75.22,1336.52L70.22,1336.52Z" fill="none" stroke="#ff0000" stroke-width="1.3" stroke-linejoin="miter"/>
<path d="M429.97,1110.34L432.47,1114.74L427.47,1114.74Z" fill="none" stroke="#ff0000" stroke-width="1.3" stroke-linejoin="miter"/>
<path d="M51.95,1328.18L54.45,1332.58L49.45,1332.58Z" fill="none" stroke="#ff0000" stroke-width="1.3" stroke-linejoin="miter"/>
<path d="M372.42,1119.02L374.92,1123.42L369.92,1123.42Z" fill="none" stroke="#ff0000" stroke-width="1.3" stroke-linejoin="miter"/>
<path d="M43.56,1387.75L46.06,1392.15L41.06,1392.15Z" fill="none" stroke="#ff0000" stroke-width="1.3" stroke-linejoin="miter"/>
<path d="M336.71,1123.98L339.21,1128.38L334.21,1128.38Z" fill="none" stroke="#ff0000" stroke-width="1.3" stroke-linejoin="miter"/>
<path d="M38.77,1424.73L41.27,1429.13L36.27,1429.13Z" fill="none" stroke="#ff0000" stroke-width="1.3" stroke-linejoin="miter"/>
<path d="M325.55,1126.05L328.05,1130.45L323.05,1130.45Z" fill="none" stroke="#ff0000" stroke-width="1.3" stroke-linejoin="miter"/>
<path d="M36.77,1436.28L39.27,1440.68L34.27,1440.68Z" fill="none" stroke="#ff0000" stroke-width="1.3" stroke-linejoin="miter"/>
<path d="M346.79,1130.60L349.29,1135.00L344.29,1135.00Z" fill="none" stroke="#ff0000" stroke-width="1.3" stroke-linejoin="miter"/>
<path d="M32.38,1414.29L34.88,1418.69L29.88,1418.69Z" fill="none" stroke="#ff0000" stroke-width="1.3" stroke-linejoin="miter"/>
<path d="M396.65,1131.42L399.15,1135.82L394.15,1135.82Z" fill="none" stroke="#ff0000" stroke-width="1.3" stroke-linejoin="miter"/>
<path d="M31.58,1362.68L34.08,1367.08L29.08,1367.08Z" fill="none" stroke="#ff0000" stroke-width="1.3" stroke-linejoin="miter"/>
<path d="M385.81,1003.38H392.61M389.21,999.98V1006.78" fill="none" stroke="#00cd00" stroke-width="1.4"/>
<path d="M153.99,1372.58H160.79M157.39,1369.18V1375.98" fill="none" stroke="#00cd00" stroke-width="1.4"/>
<path d="M389.53,1003.79H396.33M392.93,1000.39V1007.19" fill="none" stroke="#00cd00" stroke-width="1.4"/>
<path d="M153.59,1368.73H160.39M156.99,1365.33V1372.13" fill="none" stroke="#00cd00" stroke-width="1.4"/>
<path d="M382.09,1009.16H388.89M385.49,1005.76V1012.56" fill="none" stroke="#00cd00" stroke-width="1.4"/>
<path d="M148.40,1376.43H155.20M151.80,1373.03V1379.83" fill="none" stroke="#00cd00" stroke-width="1.4"/>
<path d="M385.81,1009.16H392.61M389.21,1005.76V1012.56" fill="none" stroke="#00cd00" stroke-width="1.4"/>
<path d="M148.40,1372.58H155.20M151.80,1369.18V1375.98" fill="none" stroke="#00cd00" stroke-width="1.4"/>
<path d="M402.59,1009.99H409.39M405.99,1006.59V1013.39" fill="none" stroke="#00cd00" stroke-width="1.4"/>
<path d="M147.60,1355.20H154.40M151.00,1351.80V1358.60" fill="none" stroke="#00cd00" stroke-width="1.4"/>
<path d="M443.68,1105.09H450.48M447.08,1101.69V1108.49" fill="none" stroke="#00cd00" stroke-width="1.4"/>
<path d="M55.74,1312.67H62.54M59.14,1309.27V1316.07" fill="none" stroke="#00cd00" stroke-width="1.4"/>
<path d="M449.05,1107.57H455.85M452.45,1104.17V1110.97" fill="none" stroke="#00cd00" stroke-width="1.4"/>
<path d="M53.34,1307.10H60.14M56.74,1303.70V1310.50" fill="none" stroke="#00cd00" stroke-width="1.4"/>
<path d="M413.50,1117.09H420.30M416.90,1113.69V1120.49" fill="none" stroke="#00cd00" stroke-width="1.4"/>
<path d="M44.16,1343.91H50.96M47.56,1340.51V1347.31" fill="none" stroke="#00cd00" stroke-width="1.4"/>
<path d="M429.38,1116.67H436.18M432.78,1113.27V1120.07" fill="none" stroke="#00cd00" stroke-width="1.4"/>
<path d="M44.55,1327.47H51.35M47.95,1324.07V1330.87" fill="none" stroke="#00cd00" stroke-width="1.4"/>
<path d="M441.20,1117.09H448.00M444.60,1113.69V1120.49" fill="none" stroke="#00cd00" stroke-width="1.4"/>
<path d="M44.16,1315.23H50.96M47.56,1311.83V1318.63" fill="none" stroke="#00cd00" stroke-width="1.4"/>
<path d="M434.34,1127.42H441.14M437.74,1124.02V1130.82" fill="none" stroke="#00cd00" stroke-width="1.4"/>
<path d="M34.17,1322.34H40.97M37.57,1318.94V1325.74" fill="none" stroke="#00cd00" stroke-width="1.4"/>
<path d="M404.24,1130.32H411.04M407.64,1126.92V1133.72" fill="none" stroke="#00cd00" stroke-width="1.4"/>
<path d="M31.37,1353.49H38.17M34.77,1350.09V1356.89" fill="none" stroke="#00cd00" stroke-width="1.4"/>
<path d="M495.12,1066.09L497.62,1070.49L492.62,1070.49Z" fill="none" stroke="#ff0000" stroke-width="1.3" stroke-linejoin="miter"/>
<path d="M94.69,1565.33L97.19,1569.73L92.19,1569.73Z" fill="none" stroke="#ff0000" stroke-width="1.3" stroke-linejoin="miter"/>
<path d="M507.02,1076.02L509.52,1080.42L504.52,1080.42Z" fill="none" stroke="#ff0000" stroke-width="1.3" stroke-linejoin="miter"/>
<path d="M85.10,1553.00L87.60,1557.40L82.60,1557.40Z" fill="none" stroke="#ff0000" stroke-width="1.3" stroke-linejoin="miter"/>
<path d="M515.79,1081.39L518.29,1085.79L513.29,1085.79Z" fill="none" stroke="#ff0000" stroke-width="1.3" stroke-linejoin="miter"/>
<path d="M79.91,1543.93L82.41,1548.33L77.41,1548.33Z" fill="none" stroke="#ff0000" stroke-width="1.3" stroke-linejoin="miter"/>
<path d="M530.17,1079.74L532.67,1084.14L527.67,1084.14Z" fill="none" stroke="#ff0000" stroke-width="1.3" stroke-linejoin="miter"/>
<path d="M81.51,1529.04L84.01,1533.44L79.01,1533.44Z" fill="none" stroke="#ff0000" stroke-width="1.3" stroke-linejoin="miter"/>
<path d="M560.60,1079.74L563.10,1084.14L558.10,1084.14Z" fill="none" stroke="#ff0000" stroke-width="1.3" stroke-linejoin="miter"/>
<path d="M81.51,1497.54L84.01,1501.94L79.01,1501.94Z" fill="none" stroke="#ff0000" stroke-width="1.3" stroke-linejoin="miter"/>
<path d="M598.63,1088.84L601.13,1093.24L596.13,1093.24Z" fill="none" stroke="#ff0000" stroke-width="1.3" stroke-linejoin="miter"/>
<path d="M72.72,1458.17L75.22,1462.57L70.22,1462.57Z" fill="none" stroke="#ff0000" stroke-width="1.3" stroke-linejoin="miter"/>
<path d="M472.96,1110.34L475.46,1114.74L470.46,1114.74Z" fill="none" stroke="#ff0000" stroke-width="1.3" stroke-linejoin="miter"/>
<path d="M51.95,1588.27L54.45,1592.67L49.45,1592.67Z" fill="none" stroke="#ff0000" stroke-width="1.3" stroke-linejoin="miter"/>
<path d="M599.29,1119.85L601.79,1124.25L596.79,1124.25Z" fill="none" stroke="#ff0000" stroke-width="1.3" stroke-linejoin="miter"/>
<path d="M42.76,1457.49L45.26,1461.89L40.26,1461.89Z" fill="none" stroke="#ff0000" stroke-width="1.3" stroke-linejoin="miter"/>
<path d="M488.50,1125.64L491.00,1130.04L486.00,1130.04Z" fill="none" stroke="#ff0000" stroke-width="1.3" stroke-linejoin="miter"/>
<path d="M37.17,1572.18L39.67,1576.58L34.67,1576.58Z" fill="none" stroke="#ff0000" stroke-width="1.3" stroke-linejoin="miter"/>
<path d="M532.90,1123.98L535.40,1128.38L530.40,1128.38Z" fill="none" stroke="#ff0000" stroke-width="1.3" stroke-linejoin="miter"/>
<path d="M38.77,1526.21L41.27,1530.61L36.27,1530.61Z" fill="none" stroke="#ff0000" stroke-width="1.3" stroke-linejoin="miter"/>
<path d="M554.40,1131.42L556.90,1135.82L551.90,1135.82Z" fill="none" stroke="#ff0000" stroke-width="1.3" stroke-linejoin="miter"/>
<path d="M31.58,1503.96L34.08,1508.36L29.08,1508.36Z" fill="none" stroke="#ff0000" stroke-width="1.3" stroke-linejoin="miter"/>
<path d="M557.70,1130.60L560.20,1135.00L555.20,1135.00Z" fill="none" stroke="#ff0000" stroke-width="1.3" stroke-linejoin="miter"/>
<path d="M32.38,1500.54L34.88,1504.94L29.88,1504.94Z" fill="none" stroke="#ff0000" stroke-width="1.3" stroke-linejoin="miter"/>
<path d="M534.46,1003.38H541.26M537.86,999.98V1006.78" fill="none" stroke="#00cd00" stroke-width="1.4"/>
<path d="M153.99,1523.28H160.79M157.39,1519.88V1526.68" fill="none" stroke="#00cd00" stroke-width="1.4"/>
<path d="M549.34,1003.79H556.14M552.74,1000.39V1007.19" fill="none" stroke="#00cd00" stroke-width="1.4"/>
<path d="M153.59,1507.87H160.39M156.99,1504.47V1511.27" fill="none" stroke="#00cd00" stroke-width="1.4"/>
<path d="M526.77,1009.16H533.57M530.17,1005.76V1012.56" fill="none" stroke="#00cd00" stroke-width="1.4"/>
<path d="M148.40,1531.24H155.20M151.80,1527.84V1534.64" fill="none" stroke="#00cd00" stroke-width="1.4"/>
<path d="M537.19,1009.99H543.99M540.59,1006.59V1013.39" fill="none" stroke="#00cd00" stroke-width="1.4"/>
<path d="M147.60,1520.46H154.40M151.00,1517.06V1523.86" fill="none" stroke="#00cd00" stroke-width="1.4"/>
<path d="M543.80,1009.16H550.60M547.20,1005.76V1012.56" fill="none" stroke="#00cd00" stroke-width="1.4"/>
<path d="M148.40,1513.61H155.20M151.80,1510.21V1517.01" fill="none" stroke="#00cd00" stroke-width="1.4"/>
<path d="M538.59,1105.09H545.39M541.99,1101.69V1108.49" fill="none" stroke="#00cd00" stroke-width="1.4"/>
<path d="M55.74,1519.00H62.54M59.14,1515.60V1522.40" fill="none" stroke="#00cd00" stroke-width="1.4"/>
<path d="M563.64,1107.57H570.44M567.04,1104.17V1110.97" fill="none" stroke="#00cd00" stroke-width="1.4"/>
<path d="M53.34,1493.07H60.14M56.74,1489.67V1496.47" fill="none" stroke="#00cd00" stroke-width="1.4"/>
<path d="M478.24,1116.67H485.04M481.64,1113.27V1120.07" fill="none" stroke="#00cd00" stroke-width="1.4"/>
<path d="M44.55,1581.48H51.35M47.95,1578.08V1584.88" fill="none" stroke="#00cd00" stroke-width="1.4"/>
<path d="M505.77,1117.09H512.57M509.17,1113.69V1120.49" fill="none" stroke="#00cd00" stroke-width="1.4"/>
<path d="M44.16,1552.98H50.96M47.56,1549.58V1556.38" fill="none" stroke="#00cd00" stroke-width="1.4"/>
<path d="M570.26,1117.09H577.06M573.66,1113.69V1120.49" fill="none" stroke="#00cd00" stroke-width="1.4"/>
<path d="M44.16,1486.22H50.96M47.56,1482.82V1489.62" fill="none" stroke="#00cd00" stroke-width="1.4"/>
<path d="M575.22,1127.42H582.02M578.62,1124.02V1130.82" fill="none" stroke="#00cd00" stroke-width="1.4"/>
<path d="M34.17,1481.08H40.97M37.57,1477.68V1484.48" fill="none" stroke="#00cd00" stroke-width="1.4"/>
<path d="M523.96,1130.32H530.76M527.36,1126.92V1133.72" fill="none" stroke="#00cd00" stroke-width="1.4"/>
<path d="M31.37,1534.15H38.17M34.77,1530.75V1537.55" fill="none" stroke="#00cd00" stroke-width="1.4"/>
<path d="M635.09,1066.09L637.59,1070.49L632.59,1070.49Z" fill="none" stroke="#ff0000" stroke-width="1.3" stroke-linejoin="miter"/>
<path d="M94.69,1725.02L97.19,1729.42L92.19,1729.42Z" fill="none" stroke="#ff0000" stroke-width="1.3" stroke-linejoin="miter"/>
<path d="M647.66,1075.60L650.16,1080.00L645.16,1080.00Z" fill="none" stroke="#ff0000" stroke-width="1.3" stroke-linejoin="miter"/>
<path d="M85.50,1712.01L88.00,1716.41L83.00,1716.41Z" fill="none" stroke="#ff0000" stroke-width="1.3" stroke-linejoin="miter"/>
<path d="M646.66,1081.81L649.16,1086.21L644.16,1086.21Z" fill="none" stroke="#ff0000" stroke-width="1.3" stroke-linejoin="miter"/>
<path d="M79.51,1713.03L82.01,1717.43L77.01,1717.43Z" fill="none" stroke="#ff0000" stroke-width="1.3" stroke-linejoin="miter"/>
<path d="M655.10,1079.74L657.60,1084.14L652.60,1084.14Z" fill="none" stroke="#ff0000" stroke-width="1.3" stroke-linejoin="miter"/>
<path d="M81.51,1704.30L84.01,1708.70L79.01,1708.70Z" fill="none" stroke="#ff0000" stroke-width="1.3" stroke-linejoin="miter"/>
<path d="M670.97,1079.74L673.47,1084.14L668.47,1084.14Z" fill="none" stroke="#ff0000" stroke-width="1.3" stroke-linejoin="miter"/>
<path d="M81.51,1687.87L84.01,1692.27L79.01,1692.27Z" fill="none" stroke="#ff0000" stroke-width="1.3" stroke-linejoin="miter"/>
<path d="M703.63,1088.84L706.13,1093.24L701.13,1093.24Z" fill="none" stroke="#ff0000" stroke-width="1.3" stroke-linejoin="miter"/>
<path d="M72.72,1654.06L75.22,1658.46L70.22,1658.46Z" fill="none" stroke="#ff0000" stroke-width="1.3" stroke-linejoin="miter"/>
<path d="M705.78,1110.34L708.28,1114.74L703.28,1114.74Z" fill="none" stroke="#ff0000" stroke-width="1.3" stroke-linejoin="miter"/>
<path d="M51.95,1651.84L54.45,1656.24L49.45,1656.24Z" fill="none" stroke="#ff0000" stroke-width="1.3" stroke-linejoin="miter"/>
<path d="M699.33,1119.43L701.83,1123.83L696.83,1123.83Z" fill="none" stroke="#ff0000" stroke-width="1.3" stroke-linejoin="miter"/>
<path d="M43.16,1658.51L45.66,1662.91L40.66,1662.91Z" fill="none" stroke="#ff0000" stroke-width="1.3" stroke-linejoin="miter"/>
<path d="M632.61,1124.81L635.11,1129.21L630.11,1129.21Z" fill="none" stroke="#ff0000" stroke-width="1.3" stroke-linejoin="miter"/>
<path d="M37.97,1727.58L40.47,1731.98L35.47,1731.98Z" fill="none" stroke="#ff0000" stroke-width="1.3" stroke-linejoin="miter"/>
<path d="M651.21,1126.05L653.71,1130.45L648.71,1130.45Z" fill="none" stroke="#ff0000" stroke-width="1.3" stroke-linejoin="miter"/>
<path d="M36.77,1708.33L39.27,1712.73L34.27,1712.73Z" fill="none" stroke="#ff0000" stroke-width="1.3" stroke-linejoin="miter"/>
<path d="M635.09,1131.42L637.59,1135.82L632.59,1135.82Z" fill="none" stroke="#ff0000" stroke-width="1.3" stroke-linejoin="miter"/>
<path d="M31.58,1725.02L34.08,1729.42L29.08,1729.42Z" fill="none" stroke="#ff0000" stroke-width="1.3" stroke-linejoin="miter"/>
<path d="M726.45,1131.42L728.95,1135.82L723.95,1135.82Z" fill="none" stroke="#ff0000" stroke-width="1.3" stroke-linejoin="miter"/>
<path d="M31.58,1630.44L34.08,1634.84L29.08,1634.84Z" fill="none" stroke="#ff0000" stroke-width="1.3" stroke-linejoin="miter"/>
<path d="M665.34,1009.16H672.14M668.74,1005.76V1012.56" fill="none" stroke="#00cd00" stroke-width="1.4"/>
<path d="M148.40,1692.38H155.20M151.80,1688.98V1695.78" fill="none" stroke="#00cd00" stroke-width="1.4"/>
<path d="M665.75,1008.34H672.55M669.15,1004.94V1011.74" fill="none" stroke="#00cd00" stroke-width="1.4"/>
<path d="M149.20,1691.95H156.00M152.60,1688.55V1695.35" fill="none" stroke="#00cd00" stroke-width="1.4"/>
<path d="M687.25,1009.16H694.05M690.65,1005.76V1012.56" fill="none" stroke="#00cd00" stroke-width="1.4"/>
<path d="M148.40,1669.70H155.20M151.80,1666.30V1673.10" fill="none" stroke="#00cd00" stroke-width="1.4"/>
<path d="M692.62,1003.79H699.42M696.02,1000.39V1007.19" fill="none" stroke="#00cd00" stroke-width="1.4"/>
<path d="M153.59,1664.14H160.39M156.99,1660.74V1667.54" fill="none" stroke="#00cd00" stroke-width="1.4"/>
<path d="M699.24,1003.79H706.04M702.64,1000.39V1007.19" fill="none" stroke="#00cd00" stroke-width="1.4"/>
<path d="M153.59,1657.29H160.39M156.99,1653.89V1660.69" fill="none" stroke="#00cd00" stroke-width="1.4"/>
<path d="M616.97,1107.57H623.77M620.37,1104.17V1110.97" fill="none" stroke="#00cd00" stroke-width="1.4"/>
<path d="M53.34,1742.45H60.14M56.74,1739.05V1745.85" fill="none" stroke="#00cd00" stroke-width="1.4"/>
<path d="M630.62,1105.09H637.42M634.02,1101.69V1108.49" fill="none" stroke="#00cd00" stroke-width="1.4"/>
<path d="M55.74,1728.33H62.54M59.14,1724.93V1731.73" fill="none" stroke="#00cd00" stroke-width="1.4"/>
<path d="M643.84,1117.09H650.64M647.24,1113.69V1120.49" fill="none" stroke="#00cd00" stroke-width="1.4"/>
<path d="M44.16,1714.63H50.96M47.56,1711.23V1718.03" fill="none" stroke="#00cd00" stroke-width="1.4"/>
<path d="M701.72,1116.67H708.52M705.12,1113.27V1120.07" fill="none" stroke="#00cd00" stroke-width="1.4"/>
<path d="M44.55,1654.72H51.35M47.95,1651.32V1658.12" fill="none" stroke="#00cd00" stroke-width="1.4"/>
<path d="M724.04,1117.09H730.84M727.44,1113.69V1120.49" fill="none" stroke="#00cd00" stroke-width="1.4"/>
<path d="M44.16,1631.61H50.96M47.56,1628.21V1635.01" fill="none" stroke="#00cd00" stroke-width="1.4"/>
<path d="M687.25,1127.42H694.05M690.65,1124.02V1130.82" fill="none" stroke="#00cd00" stroke-width="1.4"/>
<path d="M34.17,1669.70H40.97M37.57,1666.30V1673.10" fill="none" stroke="#00cd00" stroke-width="1.4"/>
<path d="M743.05,1130.32H749.85M746.45,1126.92V1133.72" fill="none" stroke="#00cd00" stroke-width="1.4"/>
<path d="M31.37,1611.93H38.17M34.77,1608.53V1615.33" fill="none" stroke="#00cd00" stroke-width="1.4"/>
<path d="M426.16,1153.18L428.66,1157.58L423.66,1157.58Z" fill="none" stroke="#ff0000" stroke-width="1.3" stroke-linejoin="miter"/>
<path d="M304.79,1332.12L307.29,1336.52L302.29,1336.52Z" fill="none" stroke="#ff0000" stroke-width="1.3" stroke-linejoin="miter"/>
<path d="M415.41,1170.96L417.91,1175.36L412.91,1175.36Z" fill="none" stroke="#ff0000" stroke-width="1.3" stroke-linejoin="miter"/>
<path d="M287.62,1343.25L290.12,1347.65L285.12,1347.65Z" fill="none" stroke="#ff0000" stroke-width="1.3" stroke-linejoin="miter"/>
<path d="M415.91,1176.33L418.41,1180.73L413.41,1180.73Z" fill="none" stroke="#ff0000" stroke-width="1.3" stroke-linejoin="miter"/>
<path d="M282.43,1342.73L284.93,1347.13L279.93,1347.13Z" fill="none" stroke="#ff0000" stroke-width="1.3" stroke-linejoin="miter"/>
<path d="M432.61,1175.09L435.11,1179.49L430.11,1179.49Z" fill="none" stroke="#ff0000" stroke-width="1.3" stroke-linejoin="miter"/>
<path d="M283.62,1325.45L286.12,1329.85L281.12,1329.85Z" fill="none" stroke="#ff0000" stroke-width="1.3" stroke-linejoin="miter"/>
<path d="M433.44,1176.33L435.94,1180.73L430.94,1180.73Z" fill="none" stroke="#ff0000" stroke-width="1.3" stroke-linejoin="miter"/>
<path d="M282.43,1324.59L284.93,1328.99L279.93,1328.99Z" fill="none" stroke="#ff0000" stroke-width="1.3" stroke-linejoin="miter"/>
<path d="M439.06,1178.40L441.56,1182.80L436.56,1182.80Z" fill="none" stroke="#ff0000" stroke-width="1.3" stroke-linejoin="miter"/>
<path d="M280.43,1318.77L282.93,1323.17L277.93,1323.17Z" fill="none" stroke="#ff0000" stroke-width="1.3" stroke-linejoin="miter"/>
<path d="M372.42,1214.37L374.92,1218.77L369.92,1218.77Z" fill="none" stroke="#ff0000" stroke-width="1.3" stroke-linejoin="miter"/>
<path d="M245.68,1387.75L248.18,1392.15L243.18,1392.15Z" fill="none" stroke="#ff0000" stroke-width="1.3" stroke-linejoin="miter"/>
<path d="M346.79,1225.95L349.29,1230.35L344.29,1230.35Z" fill="none" stroke="#ff0000" stroke-width="1.3" stroke-linejoin="miter"/>
<path d="M234.50,1414.29L237.00,1418.69L232.00,1418.69Z" fill="none" stroke="#ff0000" stroke-width="1.3" stroke-linejoin="miter"/>
<path d="M325.55,1229.26L328.05,1233.66L323.05,1233.66Z" fill="none" stroke="#ff0000" stroke-width="1.3" stroke-linejoin="miter"/>
<path d="M231.30,1436.28L233.80,1440.68L228.80,1440.68Z" fill="none" stroke="#ff0000" stroke-width="1.3" stroke-linejoin="miter"/>
<path d="M396.65,1230.08L399.15,1234.48L394.15,1234.48Z" fill="none" stroke="#ff0000" stroke-width="1.3" stroke-linejoin="miter"/>
<path d="M230.50,1362.68L233.00,1367.08L228.00,1367.08Z" fill="none" stroke="#ff0000" stroke-width="1.3" stroke-linejoin="miter"/>
<path d="M336.71,1242.90L339.21,1247.30L334.21,1247.30Z" fill="none" stroke="#ff0000" stroke-width="1.3" stroke-linejoin="miter"/>
<path d="M218.12,1424.73L220.62,1429.13L215.62,1429.13Z" fill="none" stroke="#ff0000" stroke-width="1.3" stroke-linejoin="miter"/>
<path d="M429.97,1256.13L432.47,1260.53L427.47,1260.53Z" fill="none" stroke="#ff0000" stroke-width="1.3" stroke-linejoin="miter"/>
<path d="M205.34,1328.18L207.84,1332.58L202.84,1332.58Z" fill="none" stroke="#ff0000" stroke-width="1.3" stroke-linejoin="miter"/>
<path d="M404.24,1218.23H411.04M407.64,1214.83V1221.63" fill="none" stroke="#00cd00" stroke-width="1.4"/>
<path d="M240.68,1353.49H247.48M244.08,1350.09V1356.89" fill="none" stroke="#00cd00" stroke-width="1.4"/>
<path d="M385.81,1247.58H392.61M389.21,1244.18V1250.98" fill="none" stroke="#00cd00" stroke-width="1.4"/>
<path d="M212.32,1372.58H219.12M215.72,1369.18V1375.98" fill="none" stroke="#00cd00" stroke-width="1.4"/>
<path d="M387.46,1250.48H394.26M390.86,1247.08V1253.88" fill="none" stroke="#00cd00" stroke-width="1.4"/>
<path d="M209.53,1370.87H216.33M212.93,1367.47V1374.27" fill="none" stroke="#00cd00" stroke-width="1.4"/>
<path d="M389.53,1252.55H396.33M392.93,1249.15V1255.95" fill="none" stroke="#00cd00" stroke-width="1.4"/>
<path d="M207.53,1368.73H214.33M210.93,1365.33V1372.13" fill="none" stroke="#00cd00" stroke-width="1.4"/>
<path d="M402.59,1247.58H409.39M405.99,1244.18V1250.98" fill="none" stroke="#00cd00" stroke-width="1.4"/>
<path d="M212.32,1355.20H219.12M215.72,1351.80V1358.60" fill="none" stroke="#00cd00" stroke-width="1.4"/>
<path d="M413.50,1245.93H420.30M416.90,1242.53V1249.33" fill="none" stroke="#00cd00" stroke-width="1.4"/>
<path d="M213.92,1343.91H220.72M217.32,1340.51V1347.31" fill="none" stroke="#00cd00" stroke-width="1.4"/>
<path d="M381.92,1257.92H388.72M385.32,1254.52V1261.32" fill="none" stroke="#00cd00" stroke-width="1.4"/>
<path d="M202.34,1376.60H209.14M205.74,1373.20V1380.00" fill="none" stroke="#00cd00" stroke-width="1.4"/>
<path d="M429.62,1256.27H436.42M433.02,1252.87V1259.67" fill="none" stroke="#00cd00" stroke-width="1.4"/>
<path d="M203.94,1327.22H210.74M207.34,1323.82V1330.62" fill="none" stroke="#00cd00" stroke-width="1.4"/>
<path d="M434.34,1263.71H441.14M437.74,1260.31V1267.11" fill="none" stroke="#00cd00" stroke-width="1.4"/>
<path d="M196.75,1322.34H203.55M200.15,1318.94V1325.74" fill="none" stroke="#00cd00" stroke-width="1.4"/>
<path d="M441.20,1278.18H448.00M444.60,1274.78V1281.58" fill="none" stroke="#00cd00" stroke-width="1.4"/>
<path d="M182.77,1315.23H189.57M186.17,1311.83V1318.63" fill="none" stroke="#00cd00" stroke-width="1.4"/>
<path d="M443.68,1281.08H450.48M447.08,1277.68V1284.48" fill="none" stroke="#00cd00" stroke-width="1.4"/>
<path d="M179.97,1312.67H186.77M183.37,1309.27V1316.07" fill="none" stroke="#00cd00" stroke-width="1.4"/>
<path d="M449.05,1285.62H455.85M452.45,1282.22V1289.02" fill="none" stroke="#00cd00" stroke-width="1.4"/>
<path d="M175.58,1307.10H182.38M178.98,1303.70V1310.50" fill="none" stroke="#00cd00" stroke-width="1.4"/>
<path d="M598.63,1153.18L601.13,1157.58L596.13,1157.58Z" fill="none" stroke="#ff0000" stroke-width="1.3" stroke-linejoin="miter"/>
<path d="M304.79,1458.17L307.29,1462.57L302.29,1462.57Z" fill="none" stroke="#ff0000" stroke-width="1.3" stroke-linejoin="miter"/>
<path d="M560.60,1170.96L563.10,1175.36L558.10,1175.36Z" fill="none" stroke="#ff0000" stroke-width="1.3" stroke-linejoin="miter"/>
<path d="M287.62,1497.54L290.12,1501.94L285.12,1501.94Z" fill="none" stroke="#ff0000" stroke-width="1.3" stroke-linejoin="miter"/>
<path d="M515.79,1174.68L518.29,1179.08L513.29,1179.08Z" fill="none" stroke="#ff0000" stroke-width="1.3" stroke-linejoin="miter"/>
<path d="M284.02,1543.93L286.52,1548.33L281.52,1548.33Z" fill="none" stroke="#ff0000" stroke-width="1.3" stroke-linejoin="miter"/>
<path d="M507.02,1176.33L509.52,1180.73L504.52,1180.73Z" fill="none" stroke="#ff0000" stroke-width="1.3" stroke-linejoin="miter"/>
<path d="M282.43,1553.00L284.93,1557.40L279.93,1557.40Z" fill="none" stroke="#ff0000" stroke-width="1.3" stroke-linejoin="miter"/>
<path d="M495.12,1178.40L497.62,1182.80L492.62,1182.80Z" fill="none" stroke="#ff0000" stroke-width="1.3" stroke-linejoin="miter"/>
<path d="M280.43,1565.33L282.93,1569.73L277.93,1569.73Z" fill="none" stroke="#ff0000" stroke-width="1.3" stroke-linejoin="miter"/>
<path d="M530.17,1175.92L532.67,1180.32L527.67,1180.32Z" fill="none" stroke="#ff0000" stroke-width="1.3" stroke-linejoin="miter"/>
<path d="M282.82,1529.04L285.32,1533.44L280.32,1533.44Z" fill="none" stroke="#ff0000" stroke-width="1.3" stroke-linejoin="miter"/>
<path d="M599.29,1214.79L601.79,1219.19L596.79,1219.19Z" fill="none" stroke="#ff0000" stroke-width="1.3" stroke-linejoin="miter"/>
<path d="M245.28,1457.49L247.78,1461.89L242.78,1461.89Z" fill="none" stroke="#ff0000" stroke-width="1.3" stroke-linejoin="miter"/>
<path d="M557.95,1225.12L560.45,1229.52L555.45,1229.52Z" fill="none" stroke="#ff0000" stroke-width="1.3" stroke-linejoin="miter"/>
<path d="M235.29,1500.28L237.79,1504.68L232.79,1504.68Z" fill="none" stroke="#ff0000" stroke-width="1.3" stroke-linejoin="miter"/>
<path d="M554.40,1230.08L556.90,1234.48L551.90,1234.48Z" fill="none" stroke="#ff0000" stroke-width="1.3" stroke-linejoin="miter"/>
<path d="M230.50,1503.96L233.00,1508.36L228.00,1508.36Z" fill="none" stroke="#ff0000" stroke-width="1.3" stroke-linejoin="miter"/>
<path d="M488.50,1229.26L491.00,1233.66L486.00,1233.66Z" fill="none" stroke="#ff0000" stroke-width="1.3" stroke-linejoin="miter"/>
<path d="M231.30,1572.18L233.80,1576.58L228.80,1576.58Z" fill="none" stroke="#ff0000" stroke-width="1.3" stroke-linejoin="miter"/>
<path d="M532.90,1242.90L535.40,1247.30L530.40,1247.30Z" fill="none" stroke="#ff0000" stroke-width="1.3" stroke-linejoin="miter"/>
<path d="M218.12,1526.21L220.62,1530.61L215.62,1530.61Z" fill="none" stroke="#ff0000" stroke-width="1.3" stroke-linejoin="miter"/>
<path d="M472.96,1256.13L475.46,1260.53L470.46,1260.53Z" fill="none" stroke="#ff0000" stroke-width="1.3" stroke-linejoin="miter"/>
<path d="M205.34,1588.27L207.84,1592.67L202.84,1592.67Z" fill="none" stroke="#ff0000" stroke-width="1.3" stroke-linejoin="miter"/>
<path d="M524.13,1218.23H530.93M527.53,1214.83V1221.63" fill="none" stroke="#00cd00" stroke-width="1.4"/>
<path d="M240.68,1533.98H247.48M244.08,1530.58V1537.38" fill="none" stroke="#00cd00" stroke-width="1.4"/>
<path d="M505.77,1245.93H512.57M509.17,1242.53V1249.33" fill="none" stroke="#00cd00" stroke-width="1.4"/>
<path d="M213.92,1552.98H220.72M217.32,1549.58V1556.38" fill="none" stroke="#00cd00" stroke-width="1.4"/>
<path d="M537.19,1247.17H543.99M540.59,1243.77V1250.57" fill="none" stroke="#00cd00" stroke-width="1.4"/>
<path d="M212.72,1520.46H219.52M216.12,1517.06V1523.86" fill="none" stroke="#00cd00" stroke-width="1.4"/>
<path d="M543.80,1248.82H550.60M547.20,1245.42V1252.22" fill="none" stroke="#00cd00" stroke-width="1.4"/>
<path d="M211.12,1513.61H217.92M214.52,1510.21V1517.01" fill="none" stroke="#00cd00" stroke-width="1.4"/>
<path d="M549.34,1247.17H556.14M552.74,1243.77V1250.57" fill="none" stroke="#00cd00" stroke-width="1.4"/>
<path d="M212.72,1507.87H219.52M216.12,1504.47V1511.27" fill="none" stroke="#00cd00" stroke-width="1.4"/>
<path d="M534.71,1252.55H541.51M538.11,1249.15V1255.95" fill="none" stroke="#00cd00" stroke-width="1.4"/>
<path d="M207.53,1523.02H214.33M210.93,1519.62V1526.42" fill="none" stroke="#00cd00" stroke-width="1.4"/>
<path d="M526.77,1257.92H533.57M530.17,1254.52V1261.32" fill="none" stroke="#00cd00" stroke-width="1.4"/>
<path d="M202.34,1531.24H209.14M205.74,1527.84V1534.64" fill="none" stroke="#00cd00" stroke-width="1.4"/>
<path d="M478.24,1256.68H485.04M481.64,1253.28V1260.08" fill="none" stroke="#00cd00" stroke-width="1.4"/>
<path d="M203.54,1581.48H210.34M206.94,1578.08V1584.88" fill="none" stroke="#00cd00" stroke-width="1.4"/>
<path d="M575.38,1263.71H582.18M578.78,1260.31V1267.11" fill="none" stroke="#00cd00" stroke-width="1.4"/>
<path d="M196.75,1480.91H203.55M200.15,1477.51V1484.31" fill="none" stroke="#00cd00" stroke-width="1.4"/>
<path d="M570.01,1278.18H576.81M573.41,1274.78V1281.58" fill="none" stroke="#00cd00" stroke-width="1.4"/>
<path d="M182.77,1486.48H189.57M186.17,1483.08V1489.88" fill="none" stroke="#00cd00" stroke-width="1.4"/>
<path d="M538.59,1281.49H545.39M541.99,1278.09V1284.89" fill="none" stroke="#00cd00" stroke-width="1.4"/>
<path d="M179.57,1519.00H186.37M182.97,1515.60V1522.40" fill="none" stroke="#00cd00" stroke-width="1.4"/>
<path d="M563.64,1286.04H570.44M567.04,1282.64V1289.44" fill="none" stroke="#00cd00" stroke-width="1.4"/>
<path d="M175.18,1493.07H181.98M178.58,1489.67V1496.47" fill="none" stroke="#00cd00" stroke-width="1.4"/>
<path d="M703.46,1153.18L705.96,1157.58L700.96,1157.58Z" fill="none" stroke="#ff0000" stroke-width="1.3" stroke-linejoin="miter"/>
<path d="M304.79,1654.23L307.29,1658.63L302.29,1658.63Z" fill="none" stroke="#ff0000" stroke-width="1.3" stroke-linejoin="miter"/>
<path d="M670.97,1170.54L673.47,1174.94L668.47,1174.94Z" fill="none" stroke="#ff0000" stroke-width="1.3" stroke-linejoin="miter"/>
<path d="M288.02,1687.87L290.52,1692.27L285.52,1692.27Z" fill="none" stroke="#ff0000" stroke-width="1.3" stroke-linejoin="miter"/>
<path d="M646.83,1175.09L649.33,1179.49L644.33,1179.49Z" fill="none" stroke="#ff0000" stroke-width="1.3" stroke-linejoin="miter"/>
<path d="M283.62,1712.86L286.12,1717.26L281.12,1717.26Z" fill="none" stroke="#ff0000" stroke-width="1.3" stroke-linejoin="miter"/>
<path d="M646.42,1176.33L648.92,1180.73L643.92,1180.73Z" fill="none" stroke="#ff0000" stroke-width="1.3" stroke-linejoin="miter"/>
<path d="M282.43,1713.29L284.93,1717.69L279.93,1717.69Z" fill="none" stroke="#ff0000" stroke-width="1.3" stroke-linejoin="miter"/>
<path d="M655.26,1175.92L657.76,1180.32L652.76,1180.32Z" fill="none" stroke="#ff0000" stroke-width="1.3" stroke-linejoin="miter"/>
<path d="M282.82,1704.13L285.32,1708.53L280.32,1708.53Z" fill="none" stroke="#ff0000" stroke-width="1.3" stroke-linejoin="miter"/>
<path d="M635.09,1177.98L637.59,1182.38L632.59,1182.38Z" fill="none" stroke="#ff0000" stroke-width="1.3" stroke-linejoin="miter"/>
<path d="M280.83,1725.02L283.33,1729.42L278.33,1729.42Z" fill="none" stroke="#ff0000" stroke-width="1.3" stroke-linejoin="miter"/>
<path d="M699.33,1214.37L701.83,1218.77L696.83,1218.77Z" fill="none" stroke="#ff0000" stroke-width="1.3" stroke-linejoin="miter"/>
<path d="M245.68,1658.51L248.18,1662.91L243.18,1662.91Z" fill="none" stroke="#ff0000" stroke-width="1.3" stroke-linejoin="miter"/>
<path d="M635.26,1225.54L637.76,1229.94L632.76,1229.94Z" fill="none" stroke="#ff0000" stroke-width="1.3" stroke-linejoin="miter"/>
<path d="M234.89,1724.84L237.39,1729.24L232.39,1729.24Z" fill="none" stroke="#ff0000" stroke-width="1.3" stroke-linejoin="miter"/>
<path d="M651.13,1229.26L653.63,1233.66L648.63,1233.66Z" fill="none" stroke="#ff0000" stroke-width="1.3" stroke-linejoin="miter"/>
<path d="M231.30,1708.41L233.80,1712.81L228.80,1712.81Z" fill="none" stroke="#ff0000" stroke-width="1.3" stroke-linejoin="miter"/>
<path d="M726.45,1229.67L728.95,1234.07L723.95,1234.07Z" fill="none" stroke="#ff0000" stroke-width="1.3" stroke-linejoin="miter"/>
<path d="M230.90,1630.44L233.40,1634.84L228.40,1634.84Z" fill="none" stroke="#ff0000" stroke-width="1.3" stroke-linejoin="miter"/>
<path d="M632.61,1242.90L635.11,1247.30L630.11,1247.30Z" fill="none" stroke="#ff0000" stroke-width="1.3" stroke-linejoin="miter"/>
<path d="M218.12,1727.58L220.62,1731.98L215.62,1731.98Z" fill="none" stroke="#ff0000" stroke-width="1.3" stroke-linejoin="miter"/>
<path d="M705.78,1256.13L708.28,1260.53L703.28,1260.53Z" fill="none" stroke="#ff0000" stroke-width="1.3" stroke-linejoin="miter"/>
<path d="M205.34,1651.84L207.84,1656.24L202.84,1656.24Z" fill="none" stroke="#ff0000" stroke-width="1.3" stroke-linejoin="miter"/>
<path d="M743.05,1218.23H749.85M746.45,1214.83V1221.63" fill="none" stroke="#00cd00" stroke-width="1.4"/>
<path d="M240.68,1611.93H247.48M244.08,1608.53V1615.33" fill="none" stroke="#00cd00" stroke-width="1.4"/>
<path d="M665.34,1247.58H672.14M668.74,1244.18V1250.98" fill="none" stroke="#00cd00" stroke-width="1.4"/>
<path d="M212.32,1692.38H219.12M215.72,1688.98V1695.78" fill="none" stroke="#00cd00" stroke-width="1.4"/>
<path d="M666.17,1248.82H672.97M669.57,1245.42V1252.22" fill="none" stroke="#00cd00" stroke-width="1.4"/>
<path d="M211.12,1691.53H217.92M214.52,1688.13V1694.93" fill="none" stroke="#00cd00" stroke-width="1.4"/>
<path d="M692.46,1247.17H699.26M695.86,1243.77V1250.57" fill="none" stroke="#00cd00" stroke-width="1.4"/>
<path d="M212.72,1664.31H219.52M216.12,1660.91V1667.71" fill="none" stroke="#00cd00" stroke-width="1.4"/>
<path d="M724.04,1245.93H730.84M727.44,1242.53V1249.33" fill="none" stroke="#00cd00" stroke-width="1.4"/>
<path d="M213.92,1631.61H220.72M217.32,1628.21V1635.01" fill="none" stroke="#00cd00" stroke-width="1.4"/>
<path d="M699.07,1252.55H705.87M702.47,1249.15V1255.95" fill="none" stroke="#00cd00" stroke-width="1.4"/>
<path d="M207.53,1657.46H214.33M210.93,1654.06V1660.86" fill="none" stroke="#00cd00" stroke-width="1.4"/>
<path d="M700.48,1255.44H707.28M703.88,1252.04V1258.84" fill="none" stroke="#00cd00" stroke-width="1.4"/>
<path d="M204.73,1656.01H211.53M208.13,1652.61V1659.41" fill="none" stroke="#00cd00" stroke-width="1.4"/>
<path d="M687.50,1257.92H694.30M690.90,1254.52V1261.32" fill="none" stroke="#00cd00" stroke-width="1.4"/>
<path d="M202.34,1669.44H209.14M205.74,1666.04V1672.84" fill="none" stroke="#00cd00" stroke-width="1.4"/>
<path d="M687.25,1263.71H694.05M690.65,1260.31V1267.11" fill="none" stroke="#00cd00" stroke-width="1.4"/>
<path d="M196.75,1669.70H203.55M200.15,1666.30V1673.10" fill="none" stroke="#00cd00" stroke-width="1.4"/>
<path d="M643.84,1278.18H650.64M647.24,1274.78V1281.58" fill="none" stroke="#00cd00" stroke-width="1.4"/>
<path d="M182.77,1714.63H189.57M186.17,1711.23V1718.03" fill="none" stroke="#00cd00" stroke-width="1.4"/>
<path d="M630.62,1281.49H637.42M634.02,1278.09V1284.89" fill="none" stroke="#00cd00" stroke-width="1.4"/>
<path d="M179.57,1728.33H186.37M182.97,1724.93V1731.73" fill="none" stroke="#00cd00" stroke-width="1.4"/>
<path d="M616.97,1285.62H623.77M620.37,1282.22V1289.02" fill="none" stroke="#00cd00" stroke-width="1.4"/>
<path d="M175.58,1742.45H182.38M178.98,1739.05V1745.85" fill="none" stroke="#00cd00" stroke-width="1.4"/>
<path d="M495.12,1318.82L497.62,1323.22L492.62,1323.22Z" fill="none" stroke="#ff0000" stroke-width="1.3" stroke-linejoin="miter"/>
<path d="M439.01,1565.33L441.51,1569.73L436.51,1569.73Z" fill="none" stroke="#ff0000" stroke-width="1.3" stroke-linejoin="miter"/>
<path d="M472.96,1327.92L475.46,1332.32L470.46,1332.32Z" fill="none" stroke="#ff0000" stroke-width="1.3" stroke-linejoin="miter"/>
<path d="M430.22,1588.27L432.72,1592.67L427.72,1592.67Z" fill="none" stroke="#ff0000" stroke-width="1.3" stroke-linejoin="miter"/>
<path d="M507.02,1324.61L509.52,1329.01L504.52,1329.01Z" fill="none" stroke="#ff0000" stroke-width="1.3" stroke-linejoin="miter"/>
<path d="M433.42,1553.00L435.92,1557.40L430.92,1557.40Z" fill="none" stroke="#ff0000" stroke-width="1.3" stroke-linejoin="miter"/>
<path d="M515.79,1324.61L518.29,1329.01L513.29,1329.01Z" fill="none" stroke="#ff0000" stroke-width="1.3" stroke-linejoin="miter"/>
<path d="M433.42,1543.93L435.92,1548.33L430.92,1548.33Z" fill="none" stroke="#ff0000" stroke-width="1.3" stroke-linejoin="miter"/>
<path d="M598.63,1332.05L601.13,1336.45L596.13,1336.45Z" fill="none" stroke="#ff0000" stroke-width="1.3" stroke-linejoin="miter"/>
<path d="M426.23,1458.17L428.73,1462.57L423.73,1462.57Z" fill="none" stroke="#ff0000" stroke-width="1.3" stroke-linejoin="miter"/>
<path d="M530.17,1342.39L532.67,1346.79L527.67,1346.79Z" fill="none" stroke="#ff0000" stroke-width="1.3" stroke-linejoin="miter"/>
<path d="M416.24,1529.04L418.74,1533.44L413.74,1533.44Z" fill="none" stroke="#ff0000" stroke-width="1.3" stroke-linejoin="miter"/>
<path d="M560.60,1342.80L563.10,1347.20L558.10,1347.20Z" fill="none" stroke="#ff0000" stroke-width="1.3" stroke-linejoin="miter"/>
<path d="M415.84,1497.54L418.34,1501.94L413.34,1501.94Z" fill="none" stroke="#ff0000" stroke-width="1.3" stroke-linejoin="miter"/>
<path d="M554.40,1362.65L556.90,1367.05L551.90,1367.05Z" fill="none" stroke="#ff0000" stroke-width="1.3" stroke-linejoin="miter"/>
<path d="M396.67,1503.96L399.17,1508.36L394.17,1508.36Z" fill="none" stroke="#ff0000" stroke-width="1.3" stroke-linejoin="miter"/>
<path d="M599.29,1387.05L601.79,1391.45L596.79,1391.45Z" fill="none" stroke="#ff0000" stroke-width="1.3" stroke-linejoin="miter"/>
<path d="M373.11,1457.49L375.61,1461.89L370.61,1461.89Z" fill="none" stroke="#ff0000" stroke-width="1.3" stroke-linejoin="miter"/>
<path d="M557.70,1414.34L560.20,1418.74L555.20,1418.74Z" fill="none" stroke="#ff0000" stroke-width="1.3" stroke-linejoin="miter"/>
<path d="M346.75,1500.54L349.25,1504.94L344.25,1504.94Z" fill="none" stroke="#ff0000" stroke-width="1.3" stroke-linejoin="miter"/>
<path d="M532.90,1424.67L535.40,1429.07L530.40,1429.07Z" fill="none" stroke="#ff0000" stroke-width="1.3" stroke-linejoin="miter"/>
<path d="M336.76,1526.21L339.26,1530.61L334.26,1530.61Z" fill="none" stroke="#ff0000" stroke-width="1.3" stroke-linejoin="miter"/>
<path d="M488.50,1435.84L491.00,1440.24L486.00,1440.24Z" fill="none" stroke="#ff0000" stroke-width="1.3" stroke-linejoin="miter"/>
<path d="M325.98,1572.18L328.48,1576.58L323.48,1576.58Z" fill="none" stroke="#ff0000" stroke-width="1.3" stroke-linejoin="miter"/>
<path d="M563.64,1307.79H570.44M567.04,1304.39V1311.19" fill="none" stroke="#00cd00" stroke-width="1.4"/>
<path d="M448.39,1493.07H455.19M451.79,1489.67V1496.47" fill="none" stroke="#00cd00" stroke-width="1.4"/>
<path d="M538.59,1313.16H545.39M541.99,1309.76V1316.56" fill="none" stroke="#00cd00" stroke-width="1.4"/>
<path d="M443.20,1519.00H450.00M446.60,1515.60V1522.40" fill="none" stroke="#00cd00" stroke-width="1.4"/>
<path d="M570.01,1314.82H576.81M573.41,1311.42V1318.22" fill="none" stroke="#00cd00" stroke-width="1.4"/>
<path d="M441.60,1486.48H448.40M445.00,1483.08V1489.88" fill="none" stroke="#00cd00" stroke-width="1.4"/>
<path d="M575.38,1322.26H582.18M578.78,1318.86V1325.66" fill="none" stroke="#00cd00" stroke-width="1.4"/>
<path d="M434.41,1480.91H441.21M437.81,1477.51V1484.31" fill="none" stroke="#00cd00" stroke-width="1.4"/>
<path d="M478.24,1327.64H485.04M481.64,1324.24V1331.04" fill="none" stroke="#00cd00" stroke-width="1.4"/>
<path d="M429.22,1581.48H436.02M432.62,1578.08V1584.88" fill="none" stroke="#00cd00" stroke-width="1.4"/>
<path d="M505.77,1344.59H512.57M509.17,1341.19V1347.99" fill="none" stroke="#00cd00" stroke-width="1.4"/>
<path d="M412.84,1552.98H419.64M416.24,1549.58V1556.38" fill="none" stroke="#00cd00" stroke-width="1.4"/>
<path d="M524.13,1352.86H530.93M527.53,1349.46V1356.26" fill="none" stroke="#00cd00" stroke-width="1.4"/>
<path d="M404.86,1533.98H411.66M408.26,1530.58V1537.38" fill="none" stroke="#00cd00" stroke-width="1.4"/>
<path d="M537.19,1355.34H543.99M540.59,1351.94V1358.74" fill="none" stroke="#00cd00" stroke-width="1.4"/>
<path d="M402.46,1520.46H409.26M405.86,1517.06V1523.86" fill="none" stroke="#00cd00" stroke-width="1.4"/>
<path d="M534.71,1368.57H541.51M538.11,1365.17V1371.97" fill="none" stroke="#00cd00" stroke-width="1.4"/>
<path d="M389.68,1523.02H396.48M393.08,1519.62V1526.42" fill="none" stroke="#00cd00" stroke-width="1.4"/>
<path d="M543.80,1372.71H550.60M547.20,1369.31V1376.11" fill="none" stroke="#00cd00" stroke-width="1.4"/>
<path d="M385.68,1513.61H392.48M389.08,1510.21V1517.01" fill="none" stroke="#00cd00" stroke-width="1.4"/>
<path d="M549.34,1372.71H556.14M552.74,1369.31V1376.11" fill="none" stroke="#00cd00" stroke-width="1.4"/>
<path d="M385.68,1507.87H392.48M389.08,1504.47V1511.27" fill="none" stroke="#00cd00" stroke-width="1.4"/>
<path d="M526.77,1376.84H533.57M530.17,1373.44V1380.24" fill="none" stroke="#00cd00" stroke-width="1.4"/>
<path d="M381.69,1531.24H388.49M385.09,1527.84V1534.64" fill="none" stroke="#00cd00" stroke-width="1.4"/>
<path d="M635.09,1318.82L637.59,1323.22L632.59,1323.22Z" fill="none" stroke="#ff0000" stroke-width="1.3" stroke-linejoin="miter"/>
<path d="M439.01,1725.02L441.51,1729.42L436.51,1729.42Z" fill="none" stroke="#ff0000" stroke-width="1.3" stroke-linejoin="miter"/>
<path d="M647.24,1324.61L649.74,1329.01L644.74,1329.01Z" fill="none" stroke="#ff0000" stroke-width="1.3" stroke-linejoin="miter"/>
<path d="M433.42,1712.43L435.92,1716.83L430.92,1716.83Z" fill="none" stroke="#ff0000" stroke-width="1.3" stroke-linejoin="miter"/>
<path d="M646.83,1325.11L649.33,1329.51L644.33,1329.51Z" fill="none" stroke="#ff0000" stroke-width="1.3" stroke-linejoin="miter"/>
<path d="M432.94,1712.86L435.44,1717.26L430.44,1717.26Z" fill="none" stroke="#ff0000" stroke-width="1.3" stroke-linejoin="miter"/>
<path d="M705.94,1328.74L708.44,1333.14L703.44,1333.14Z" fill="none" stroke="#ff0000" stroke-width="1.3" stroke-linejoin="miter"/>
<path d="M429.42,1651.67L431.92,1656.07L426.92,1656.07Z" fill="none" stroke="#ff0000" stroke-width="1.3" stroke-linejoin="miter"/>
<path d="M703.46,1332.47L705.96,1336.87L700.96,1336.87Z" fill="none" stroke="#ff0000" stroke-width="1.3" stroke-linejoin="miter"/>
<path d="M425.83,1654.23L428.33,1658.63L423.33,1658.63Z" fill="none" stroke="#ff0000" stroke-width="1.3" stroke-linejoin="miter"/>
<path d="M655.26,1342.39L657.76,1346.79L652.76,1346.79Z" fill="none" stroke="#ff0000" stroke-width="1.3" stroke-linejoin="miter"/>
<path d="M416.24,1704.13L418.74,1708.53L413.74,1708.53Z" fill="none" stroke="#ff0000" stroke-width="1.3" stroke-linejoin="miter"/>
<path d="M670.97,1342.80L673.47,1347.20L668.47,1347.20Z" fill="none" stroke="#ff0000" stroke-width="1.3" stroke-linejoin="miter"/>
<path d="M415.84,1687.87L418.34,1692.27L413.34,1692.27Z" fill="none" stroke="#ff0000" stroke-width="1.3" stroke-linejoin="miter"/>
<path d="M726.45,1362.65L728.95,1367.05L723.95,1367.05Z" fill="none" stroke="#ff0000" stroke-width="1.3" stroke-linejoin="miter"/>
<path d="M396.67,1630.44L399.17,1634.84L394.17,1634.84Z" fill="none" stroke="#ff0000" stroke-width="1.3" stroke-linejoin="miter"/>
<path d="M699.49,1387.05L701.99,1391.45L696.99,1391.45Z" fill="none" stroke="#ff0000" stroke-width="1.3" stroke-linejoin="miter"/>
<path d="M373.11,1658.34L375.61,1662.74L370.61,1662.74Z" fill="none" stroke="#ff0000" stroke-width="1.3" stroke-linejoin="miter"/>
<path d="M635.09,1414.34L637.59,1418.74L632.59,1418.74Z" fill="none" stroke="#ff0000" stroke-width="1.3" stroke-linejoin="miter"/>
<path d="M346.75,1725.02L349.25,1729.42L344.25,1729.42Z" fill="none" stroke="#ff0000" stroke-width="1.3" stroke-linejoin="miter"/>
<path d="M632.61,1424.67L635.11,1429.07L630.11,1429.07Z" fill="none" stroke="#ff0000" stroke-width="1.3" stroke-linejoin="miter"/>
<path d="M336.76,1727.58L339.26,1731.98L334.26,1731.98Z" fill="none" stroke="#ff0000" stroke-width="1.3" stroke-linejoin="miter"/>
<path d="M651.13,1435.84L653.63,1440.24L648.63,1440.24Z" fill="none" stroke="#ff0000" stroke-width="1.3" stroke-linejoin="miter"/>
<path d="M325.98,1708.41L328.48,1712.81L323.48,1712.81Z" fill="none" stroke="#ff0000" stroke-width="1.3" stroke-linejoin="miter"/>
<path d="M616.97,1307.79H623.77M620.37,1304.39V1311.19" fill="none" stroke="#00cd00" stroke-width="1.4"/>
<path d="M448.39,1742.45H455.19M451.79,1739.05V1745.85" fill="none" stroke="#00cd00" stroke-width="1.4"/>
<path d="M630.62,1313.16H637.42M634.02,1309.76V1316.56" fill="none" stroke="#00cd00" stroke-width="1.4"/>
<path d="M443.20,1728.33H450.00M446.60,1724.93V1731.73" fill="none" stroke="#00cd00" stroke-width="1.4"/>
<path d="M643.84,1314.82H650.64M647.24,1311.42V1318.22" fill="none" stroke="#00cd00" stroke-width="1.4"/>
<path d="M441.60,1714.63H448.40M445.00,1711.23V1718.03" fill="none" stroke="#00cd00" stroke-width="1.4"/>
<path d="M687.25,1322.26H694.05M690.65,1318.86V1325.66" fill="none" stroke="#00cd00" stroke-width="1.4"/>
<path d="M434.41,1669.70H441.21M437.81,1666.30V1673.10" fill="none" stroke="#00cd00" stroke-width="1.4"/>
<path d="M701.72,1327.64H708.52M705.12,1324.24V1331.04" fill="none" stroke="#00cd00" stroke-width="1.4"/>
<path d="M429.22,1654.72H436.02M432.62,1651.32V1658.12" fill="none" stroke="#00cd00" stroke-width="1.4"/>
<path d="M724.04,1344.59H730.84M727.44,1341.19V1347.99" fill="none" stroke="#00cd00" stroke-width="1.4"/>
<path d="M412.84,1631.61H419.64M416.24,1628.21V1635.01" fill="none" stroke="#00cd00" stroke-width="1.4"/>
<path d="M743.05,1352.45H749.85M746.45,1349.05V1355.85" fill="none" stroke="#00cd00" stroke-width="1.4"/>
<path d="M405.25,1611.93H412.05M408.65,1608.53V1615.33" fill="none" stroke="#00cd00" stroke-width="1.4"/>
<path d="M664.93,1355.34H671.73M668.33,1351.94V1358.74" fill="none" stroke="#00cd00" stroke-width="1.4"/>
<path d="M402.46,1692.81H409.26M405.86,1689.41V1696.21" fill="none" stroke="#00cd00" stroke-width="1.4"/>
<path d="M666.17,1372.29H672.97M669.57,1368.89V1375.69" fill="none" stroke="#00cd00" stroke-width="1.4"/>
<path d="M386.08,1691.53H392.88M389.48,1688.13V1694.93" fill="none" stroke="#00cd00" stroke-width="1.4"/>
<path d="M692.46,1372.29H699.26M695.86,1368.89V1375.69" fill="none" stroke="#00cd00" stroke-width="1.4"/>
<path d="M386.08,1664.31H392.88M389.48,1660.91V1667.71" fill="none" stroke="#00cd00" stroke-width="1.4"/>
<path d="M699.24,1368.16H706.04M702.64,1364.76V1371.56" fill="none" stroke="#00cd00" stroke-width="1.4"/>
<path d="M390.08,1657.29H396.88M393.48,1653.89V1660.69" fill="none" stroke="#00cd00" stroke-width="1.4"/>
<path d="M687.25,1376.43H694.05M690.65,1373.03V1379.83" fill="none" stroke="#00cd00" stroke-width="1.4"/>
<path d="M382.09,1669.70H388.89M385.49,1666.30V1673.10" fill="none" stroke="#00cd00" stroke-width="1.4"/>
<path d="M699.33,1457.59L701.83,1461.99L696.83,1461.99Z" fill="none" stroke="#ff0000" stroke-width="1.3" stroke-linejoin="miter"/>
<path d="M599.19,1658.51L601.69,1662.91L596.69,1662.91Z" fill="none" stroke="#ff0000" stroke-width="1.3" stroke-linejoin="miter"/>
<path d="M703.88,1457.59L706.38,1461.99L701.38,1461.99Z" fill="none" stroke="#ff0000" stroke-width="1.3" stroke-linejoin="miter"/>
<path d="M599.19,1653.81L601.69,1658.21L596.69,1658.21Z" fill="none" stroke="#ff0000" stroke-width="1.3" stroke-linejoin="miter"/>
<path d="M670.97,1497.28L673.47,1501.68L668.47,1501.68Z" fill="none" stroke="#ff0000" stroke-width="1.3" stroke-linejoin="miter"/>
<path d="M560.85,1687.87L563.35,1692.27L558.35,1692.27Z" fill="none" stroke="#ff0000" stroke-width="1.3" stroke-linejoin="miter"/>
<path d="M635.09,1500.59L637.59,1504.99L632.59,1504.99Z" fill="none" stroke="#ff0000" stroke-width="1.3" stroke-linejoin="miter"/>
<path d="M557.65,1725.02L560.15,1729.42L555.15,1729.42Z" fill="none" stroke="#ff0000" stroke-width="1.3" stroke-linejoin="miter"/>
<path d="M726.45,1503.49L728.95,1507.89L723.95,1507.89Z" fill="none" stroke="#ff0000" stroke-width="1.3" stroke-linejoin="miter"/>
<path d="M554.85,1630.44L557.35,1634.84L552.35,1634.84Z" fill="none" stroke="#ff0000" stroke-width="1.3" stroke-linejoin="miter"/>
<path d="M632.61,1526.23L635.11,1530.63L630.11,1530.63Z" fill="none" stroke="#ff0000" stroke-width="1.3" stroke-linejoin="miter"/>
<path d="M532.89,1727.58L535.39,1731.98L530.39,1731.98Z" fill="none" stroke="#ff0000" stroke-width="1.3" stroke-linejoin="miter"/>
<path d="M655.26,1528.71L657.76,1533.11L652.76,1533.11Z" fill="none" stroke="#ff0000" stroke-width="1.3" stroke-linejoin="miter"/>
<path d="M530.49,1704.13L532.99,1708.53L527.99,1708.53Z" fill="none" stroke="#ff0000" stroke-width="1.3" stroke-linejoin="miter"/>
<path d="M646.66,1543.59L649.16,1547.99L644.16,1547.99Z" fill="none" stroke="#ff0000" stroke-width="1.3" stroke-linejoin="miter"/>
<path d="M516.11,1713.03L518.61,1717.43L513.61,1717.43Z" fill="none" stroke="#ff0000" stroke-width="1.3" stroke-linejoin="miter"/>
<path d="M647.24,1552.69L649.74,1557.09L644.74,1557.09Z" fill="none" stroke="#ff0000" stroke-width="1.3" stroke-linejoin="miter"/>
<path d="M507.32,1712.43L509.82,1716.83L504.82,1716.83Z" fill="none" stroke="#ff0000" stroke-width="1.3" stroke-linejoin="miter"/>
<path d="M635.09,1564.68L637.59,1569.08L632.59,1569.08Z" fill="none" stroke="#ff0000" stroke-width="1.3" stroke-linejoin="miter"/>
<path d="M495.74,1725.02L498.24,1729.42L493.24,1729.42Z" fill="none" stroke="#ff0000" stroke-width="1.3" stroke-linejoin="miter"/>
<path d="M651.13,1572.13L653.63,1576.53L648.63,1576.53Z" fill="none" stroke="#ff0000" stroke-width="1.3" stroke-linejoin="miter"/>
<path d="M488.55,1708.41L491.05,1712.81L486.05,1712.81Z" fill="none" stroke="#ff0000" stroke-width="1.3" stroke-linejoin="miter"/>
<path d="M705.78,1588.25L708.28,1592.65L703.28,1592.65Z" fill="none" stroke="#ff0000" stroke-width="1.3" stroke-linejoin="miter"/>
<path d="M472.97,1651.84L475.47,1656.24L470.47,1656.24Z" fill="none" stroke="#ff0000" stroke-width="1.3" stroke-linejoin="miter"/>
<path d="M687.25,1482.12H694.05M690.65,1478.72V1485.52" fill="none" stroke="#00cd00" stroke-width="1.4"/>
<path d="M574.22,1669.70H581.02M577.62,1666.30V1673.10" fill="none" stroke="#00cd00" stroke-width="1.4"/>
<path d="M643.84,1487.08H650.64M647.24,1483.68V1490.48" fill="none" stroke="#00cd00" stroke-width="1.4"/>
<path d="M569.43,1714.63H576.23M572.83,1711.23V1718.03" fill="none" stroke="#00cd00" stroke-width="1.4"/>
<path d="M616.97,1492.87H623.77M620.37,1489.47V1496.27" fill="none" stroke="#00cd00" stroke-width="1.4"/>
<path d="M563.84,1742.45H570.64M567.24,1739.05V1745.85" fill="none" stroke="#00cd00" stroke-width="1.4"/>
<path d="M692.46,1508.17H699.26M695.86,1504.77V1511.57" fill="none" stroke="#00cd00" stroke-width="1.4"/>
<path d="M549.06,1664.31H555.86M552.46,1660.91V1667.71" fill="none" stroke="#00cd00" stroke-width="1.4"/>
<path d="M666.17,1513.13H672.97M669.57,1509.73V1516.53" fill="none" stroke="#00cd00" stroke-width="1.4"/>
<path d="M544.27,1691.53H551.07M547.67,1688.13V1694.93" fill="none" stroke="#00cd00" stroke-width="1.4"/>
<path d="M664.93,1520.16H671.73M668.33,1516.76V1523.56" fill="none" stroke="#00cd00" stroke-width="1.4"/>
<path d="M537.48,1692.81H544.28M540.88,1689.41V1696.21" fill="none" stroke="#00cd00" stroke-width="1.4"/>
<path d="M630.62,1519.33H637.42M634.02,1515.93V1522.73" fill="none" stroke="#00cd00" stroke-width="1.4"/>
<path d="M538.27,1728.33H545.07M541.67,1724.93V1731.73" fill="none" stroke="#00cd00" stroke-width="1.4"/>
<path d="M699.24,1522.64H706.04M702.64,1519.24V1526.04" fill="none" stroke="#00cd00" stroke-width="1.4"/>
<path d="M535.08,1657.29H541.88M538.48,1653.89V1660.69" fill="none" stroke="#00cd00" stroke-width="1.4"/>
<path d="M687.50,1531.74H694.30M690.90,1528.34V1535.14" fill="none" stroke="#00cd00" stroke-width="1.4"/>
<path d="M526.29,1669.44H533.09M529.69,1666.04V1672.84" fill="none" stroke="#00cd00" stroke-width="1.4"/>
<path d="M743.05,1534.63H749.85M746.45,1531.23V1538.03" fill="none" stroke="#00cd00" stroke-width="1.4"/>
<path d="M523.50,1611.93H530.30M526.90,1608.53V1615.33" fill="none" stroke="#00cd00" stroke-width="1.4"/>
<path d="M724.04,1552.82H730.84M727.44,1549.42V1556.22" fill="none" stroke="#00cd00" stroke-width="1.4"/>
<path d="M505.92,1631.61H512.72M509.32,1628.21V1635.01" fill="none" stroke="#00cd00" stroke-width="1.4"/>
<path d="M701.72,1582.02H708.52M705.12,1578.62V1585.42" fill="none" stroke="#00cd00" stroke-width="1.4"/>
<path d="M477.72,1654.72H484.52M481.12,1651.32V1658.12" fill="none" stroke="#00cd00" stroke-width="1.4"/>
<text x="22" y="856.4" font-family='"Liberation Serif", "Times New Roman", serif' font-size="44" fill="#000">(A)</text>
<text x="0" y="1831" font-family='"Liberation Serif", "Times New Roman", serif' font-size="44" fill="#000">(B)</text>
</svg></body></html>
